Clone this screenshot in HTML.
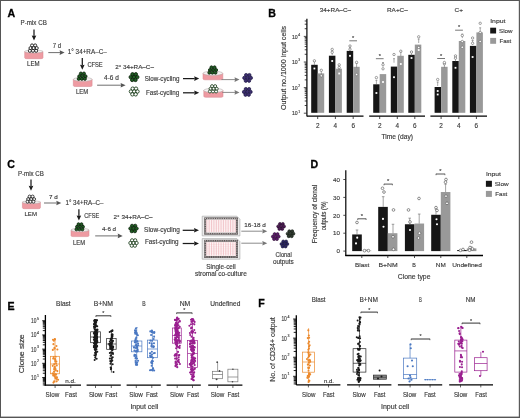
<!DOCTYPE html>
<html><head><meta charset="utf-8"><style>
html,body{margin:0;padding:0;background:#fff;width:520px;height:418px;overflow:hidden}
svg text{font-family:"Liberation Sans",sans-serif}
svg{will-change:transform}
</style></head><body>
<svg width="520" height="418" viewBox="0 0 520 418" font-family="Liberation Sans, sans-serif" style="position:absolute;left:0;top:0">
<rect x="0" y="0" width="520" height="418" fill="#fff"/>
<text x="7.60" y="16.60" font-size="10.6" font-weight="bold" fill="#000" stroke="#000" stroke-width="0.3">A</text>
<text x="268.20" y="16.50" font-size="10.6" font-weight="bold" fill="#000" stroke="#000" stroke-width="0.3">B</text>
<text x="7.30" y="167.90" font-size="10.6" font-weight="bold" fill="#000" stroke="#000" stroke-width="0.3">C</text>
<text x="310.60" y="167.50" font-size="10.6" font-weight="bold" fill="#000" stroke="#000" stroke-width="0.3">D</text>
<text x="7.40" y="309.90" font-size="10.6" font-weight="bold" fill="#000" stroke="#000" stroke-width="0.3">E</text>
<text x="258.20" y="306.90" font-size="10.6" font-weight="bold" fill="#000" stroke="#000" stroke-width="0.3">F</text>
<text x="20.60" y="25.40" font-size="6.3" textLength="26.20" lengthAdjust="spacingAndGlyphs" fill="#383838" stroke="#383838" stroke-width="0.14" >P-mix CB</text>
<line x1="34.00" y1="29.50" x2="34.00" y2="36.10" stroke="#1a1a1a" stroke-width="1.25" />
<path d="M31.70 35.60 L34.00 40.60 L36.30 35.60 L34.00 36.10 Z" fill="#1a1a1a"/>
<path d="M24.70 51.50 L24.70 57.70 Q24.70 58.70 26.70 58.70 L41.00 58.70 Q43.00 58.70 43.00 57.70 L43.00 51.50 Z" fill="#ee9ba2" stroke="#d4808a" stroke-width="0.5"/>
<ellipse cx="33.85" cy="51.50" rx="9.15" ry="1.50" fill="#f6f2f2" stroke="#a9a0a0" stroke-width="0.5"/>
<circle cx="32.04" cy="45.39" r="1.50" fill="#fff" stroke="#111" stroke-width="0.85"/>
<circle cx="35.19" cy="45.39" r="1.50" fill="#fff" stroke="#111" stroke-width="0.85"/>
<circle cx="30.46" cy="48.10" r="1.50" fill="#fff" stroke="#111" stroke-width="0.85"/>
<circle cx="33.61" cy="48.10" r="1.50" fill="#fff" stroke="#111" stroke-width="0.85"/>
<circle cx="36.77" cy="48.10" r="1.50" fill="#fff" stroke="#111" stroke-width="0.85"/>
<circle cx="29.83" cy="50.81" r="1.50" fill="#fff" stroke="#111" stroke-width="0.85"/>
<circle cx="32.98" cy="50.81" r="1.50" fill="#fff" stroke="#111" stroke-width="0.85"/>
<circle cx="36.13" cy="50.81" r="1.50" fill="#fff" stroke="#111" stroke-width="0.85"/>
<text x="27.00" y="65.50" font-size="6.4" textLength="12.50" lengthAdjust="spacingAndGlyphs" fill="#383838" stroke="#383838" stroke-width="0.14" >LEM</text>
<text x="52.80" y="48.10" font-size="6.6" textLength="8.30" lengthAdjust="spacingAndGlyphs" fill="#383838" stroke="#383838" stroke-width="0.14" >7 d</text>
<line x1="48.30" y1="52.60" x2="60.10" y2="52.60" stroke="#555" stroke-width="0.85" />
<path d="M59.60 50.30 L64.60 52.60 L59.60 54.90 L60.10 52.60 Z" fill="#555"/>
<text x="67.80" y="54.40" font-size="6.3" textLength="39.00" lengthAdjust="spacingAndGlyphs" fill="#383838" stroke="#383838" stroke-width="0.14" >1° 34+RA–C–</text>
<line x1="82.30" y1="58.00" x2="82.30" y2="65.30" stroke="#1a1a1a" stroke-width="1.25" />
<path d="M80.00 64.80 L82.30 69.80 L84.60 64.80 L82.30 65.30 Z" fill="#1a1a1a"/>
<text x="87.40" y="66.80" font-size="6.4" textLength="15.30" lengthAdjust="spacingAndGlyphs" fill="#383838" stroke="#383838" stroke-width="0.14" >CFSE</text>
<path d="M73.30 79.30 L73.30 85.50 Q73.30 86.50 75.30 86.50 L90.10 86.50 Q92.10 86.50 92.10 85.50 L92.10 79.30 Z" fill="#ee9ba2" stroke="#d4808a" stroke-width="0.5"/>
<ellipse cx="82.70" cy="79.30" rx="9.40" ry="1.90" fill="#f6f2f2" stroke="#a9a0a0" stroke-width="0.5"/>
<circle cx="80.86" cy="73.53" r="1.50" fill="#1f5e22" stroke="#0c220c" stroke-width="0.85"/>
<circle cx="83.96" cy="73.53" r="1.50" fill="#1f5e22" stroke="#0c220c" stroke-width="0.85"/>
<circle cx="79.31" cy="76.20" r="1.50" fill="#1f5e22" stroke="#0c220c" stroke-width="0.85"/>
<circle cx="82.41" cy="76.20" r="1.50" fill="#1f5e22" stroke="#0c220c" stroke-width="0.85"/>
<circle cx="85.51" cy="76.20" r="1.50" fill="#1f5e22" stroke="#0c220c" stroke-width="0.85"/>
<circle cx="78.69" cy="78.87" r="1.50" fill="#1f5e22" stroke="#0c220c" stroke-width="0.85"/>
<circle cx="81.79" cy="78.87" r="1.50" fill="#1f5e22" stroke="#0c220c" stroke-width="0.85"/>
<circle cx="84.89" cy="78.87" r="1.50" fill="#1f5e22" stroke="#0c220c" stroke-width="0.85"/>
<text x="76.00" y="94.00" font-size="6.4" textLength="12.20" lengthAdjust="spacingAndGlyphs" fill="#383838" stroke="#383838" stroke-width="0.14" >LEM</text>
<text x="104.10" y="80.40" font-size="6.3" textLength="14.80" lengthAdjust="spacingAndGlyphs" fill="#383838" stroke="#383838" stroke-width="0.14" >4-6 d</text>
<line x1="97.10" y1="85.20" x2="121.10" y2="85.20" stroke="#555" stroke-width="0.85" />
<path d="M120.60 82.90 L125.60 85.20 L120.60 87.50 L121.10 85.20 Z" fill="#555"/>
<text x="115.20" y="69.10" font-size="6.2" textLength="38.70" lengthAdjust="spacingAndGlyphs" fill="#383838" stroke="#383838" stroke-width="0.14" >2° 34+RA–C–</text>
<circle cx="132.51" cy="74.26" r="1.70" fill="#1f5e22" stroke="#0c220c" stroke-width="0.85"/>
<circle cx="135.81" cy="74.26" r="1.70" fill="#1f5e22" stroke="#0c220c" stroke-width="0.85"/>
<circle cx="130.70" cy="77.10" r="1.70" fill="#1f5e22" stroke="#0c220c" stroke-width="0.85"/>
<circle cx="134.00" cy="77.10" r="1.70" fill="#1f5e22" stroke="#0c220c" stroke-width="0.85"/>
<circle cx="137.30" cy="77.10" r="1.70" fill="#1f5e22" stroke="#0c220c" stroke-width="0.85"/>
<circle cx="132.19" cy="79.94" r="1.70" fill="#1f5e22" stroke="#0c220c" stroke-width="0.85"/>
<circle cx="135.49" cy="79.94" r="1.70" fill="#1f5e22" stroke="#0c220c" stroke-width="0.85"/>
<circle cx="132.71" cy="88.66" r="1.70" fill="#fff" stroke="#123512" stroke-width="0.85"/>
<circle cx="136.01" cy="88.66" r="1.70" fill="#fff" stroke="#123512" stroke-width="0.85"/>
<circle cx="130.90" cy="91.50" r="1.70" fill="#fff" stroke="#123512" stroke-width="0.85"/>
<circle cx="134.20" cy="91.50" r="1.70" fill="#fff" stroke="#123512" stroke-width="0.85"/>
<circle cx="137.50" cy="91.50" r="1.70" fill="#fff" stroke="#123512" stroke-width="0.85"/>
<circle cx="132.38" cy="94.34" r="1.70" fill="#fff" stroke="#123512" stroke-width="0.85"/>
<circle cx="135.69" cy="94.34" r="1.70" fill="#fff" stroke="#123512" stroke-width="0.85"/>
<text x="144.70" y="80.70" font-size="6.4" textLength="34.70" lengthAdjust="spacingAndGlyphs" fill="#383838" stroke="#383838" stroke-width="0.14" >Slow-cycling</text>
<text x="145.90" y="94.50" font-size="6.4" textLength="33.20" lengthAdjust="spacingAndGlyphs" fill="#383838" stroke="#383838" stroke-width="0.14" >Fast-cycling</text>
<line x1="183.00" y1="78.60" x2="194.70" y2="78.60" stroke="#1a1a1a" stroke-width="1.25" />
<path d="M194.20 76.30 L199.20 78.60 L194.20 80.90 L194.70 78.60 Z" fill="#1a1a1a"/>
<line x1="183.00" y1="92.80" x2="194.70" y2="92.80" stroke="#1a1a1a" stroke-width="1.25" />
<path d="M194.20 90.50 L199.20 92.80 L194.20 95.10 L194.70 92.80 Z" fill="#1a1a1a"/>
<path d="M203.00 73.30 L203.00 78.80 Q203.00 79.80 205.00 79.80 L220.80 79.80 Q222.80 79.80 222.80 78.80 L222.80 73.30 Z" fill="#ee9ba2" stroke="#d4808a" stroke-width="0.5"/>
<ellipse cx="212.90" cy="73.30" rx="9.90" ry="2.10" fill="#f6f2f2" stroke="#a9a0a0" stroke-width="0.5"/>
<circle cx="211.46" cy="67.33" r="1.50" fill="#1f5e22" stroke="#0c220c" stroke-width="0.8"/>
<circle cx="214.56" cy="67.33" r="1.50" fill="#1f5e22" stroke="#0c220c" stroke-width="0.8"/>
<circle cx="209.91" cy="70.00" r="1.50" fill="#1f5e22" stroke="#0c220c" stroke-width="0.8"/>
<circle cx="213.01" cy="70.00" r="1.50" fill="#1f5e22" stroke="#0c220c" stroke-width="0.8"/>
<circle cx="216.11" cy="70.00" r="1.50" fill="#1f5e22" stroke="#0c220c" stroke-width="0.8"/>
<circle cx="209.29" cy="72.67" r="1.50" fill="#1f5e22" stroke="#0c220c" stroke-width="0.8"/>
<circle cx="212.39" cy="72.67" r="1.50" fill="#1f5e22" stroke="#0c220c" stroke-width="0.8"/>
<circle cx="215.49" cy="72.67" r="1.50" fill="#1f5e22" stroke="#0c220c" stroke-width="0.8"/>
<path d="M203.80 90.40 L203.80 96.30 Q203.80 97.30 205.80 97.30 L221.00 97.30 Q223.00 97.30 223.00 96.30 L223.00 90.40 Z" fill="#ee9ba2" stroke="#d4808a" stroke-width="0.5"/>
<ellipse cx="213.40" cy="90.40" rx="9.60" ry="2.10" fill="#f6f2f2" stroke="#a9a0a0" stroke-width="0.5"/>
<circle cx="212.06" cy="86.13" r="1.50" fill="#fff" stroke="#123512" stroke-width="0.8"/>
<circle cx="215.16" cy="86.13" r="1.50" fill="#fff" stroke="#123512" stroke-width="0.8"/>
<circle cx="210.51" cy="88.80" r="1.50" fill="#fff" stroke="#123512" stroke-width="0.8"/>
<circle cx="213.61" cy="88.80" r="1.50" fill="#fff" stroke="#123512" stroke-width="0.8"/>
<circle cx="216.71" cy="88.80" r="1.50" fill="#fff" stroke="#123512" stroke-width="0.8"/>
<circle cx="209.89" cy="91.47" r="1.50" fill="#fff" stroke="#123512" stroke-width="0.8"/>
<circle cx="212.99" cy="91.47" r="1.50" fill="#fff" stroke="#123512" stroke-width="0.8"/>
<circle cx="216.09" cy="91.47" r="1.50" fill="#fff" stroke="#123512" stroke-width="0.8"/>
<line x1="221.50" y1="79.60" x2="235.00" y2="79.60" stroke="#777" stroke-width="0.85" />
<path d="M234.50 77.30 L239.50 79.60 L234.50 81.90 L235.00 79.60 Z" fill="#777"/>
<line x1="222.30" y1="92.40" x2="235.00" y2="92.40" stroke="#777" stroke-width="0.85" />
<path d="M234.50 90.10 L239.50 92.40 L234.50 94.70 L235.00 92.40 Z" fill="#777"/>
<circle cx="246.11" cy="75.06" r="1.65" fill="#3d2f70" stroke="#1a1440" stroke-width="0.7"/>
<circle cx="249.41" cy="75.06" r="1.65" fill="#3d2f70" stroke="#1a1440" stroke-width="0.7"/>
<circle cx="244.30" cy="77.90" r="1.65" fill="#3d2f70" stroke="#1a1440" stroke-width="0.7"/>
<circle cx="247.60" cy="77.90" r="1.65" fill="#3d2f70" stroke="#1a1440" stroke-width="0.7"/>
<circle cx="250.90" cy="77.90" r="1.65" fill="#3d2f70" stroke="#1a1440" stroke-width="0.7"/>
<circle cx="245.78" cy="80.74" r="1.65" fill="#3d2f70" stroke="#1a1440" stroke-width="0.7"/>
<circle cx="249.09" cy="80.74" r="1.65" fill="#3d2f70" stroke="#1a1440" stroke-width="0.7"/>
<circle cx="245.81" cy="89.06" r="1.65" fill="#3d2f70" stroke="#1a1440" stroke-width="0.7"/>
<circle cx="249.12" cy="89.06" r="1.65" fill="#3d2f70" stroke="#1a1440" stroke-width="0.7"/>
<circle cx="244.00" cy="91.90" r="1.65" fill="#3d2f70" stroke="#1a1440" stroke-width="0.7"/>
<circle cx="247.30" cy="91.90" r="1.65" fill="#3d2f70" stroke="#1a1440" stroke-width="0.7"/>
<circle cx="250.60" cy="91.90" r="1.65" fill="#3d2f70" stroke="#1a1440" stroke-width="0.7"/>
<circle cx="245.49" cy="94.74" r="1.65" fill="#3d2f70" stroke="#1a1440" stroke-width="0.7"/>
<circle cx="248.79" cy="94.74" r="1.65" fill="#3d2f70" stroke="#1a1440" stroke-width="0.7"/>
<text x="17.90" y="175.80" font-size="6.3" textLength="26.00" lengthAdjust="spacingAndGlyphs" fill="#383838" stroke="#383838" stroke-width="0.14" >P-mix CB</text>
<line x1="31.00" y1="179.60" x2="31.00" y2="186.30" stroke="#1a1a1a" stroke-width="1.25" />
<path d="M28.70 185.80 L31.00 190.80 L33.30 185.80 L31.00 186.30 Z" fill="#1a1a1a"/>
<path d="M22.40 202.20 L22.40 207.70 Q22.40 208.70 24.40 208.70 L38.40 208.70 Q40.40 208.70 40.40 207.70 L40.40 202.20 Z" fill="#ee9ba2" stroke="#d4808a" stroke-width="0.5"/>
<ellipse cx="31.40" cy="202.20" rx="9.00" ry="1.40" fill="#f6f2f2" stroke="#a9a0a0" stroke-width="0.5"/>
<circle cx="29.60" cy="196.52" r="1.45" fill="#fff" stroke="#111" stroke-width="0.8"/>
<circle cx="32.60" cy="196.52" r="1.45" fill="#fff" stroke="#111" stroke-width="0.8"/>
<circle cx="28.10" cy="199.10" r="1.45" fill="#fff" stroke="#111" stroke-width="0.8"/>
<circle cx="31.10" cy="199.10" r="1.45" fill="#fff" stroke="#111" stroke-width="0.8"/>
<circle cx="34.10" cy="199.10" r="1.45" fill="#fff" stroke="#111" stroke-width="0.8"/>
<circle cx="27.50" cy="201.68" r="1.45" fill="#fff" stroke="#111" stroke-width="0.8"/>
<circle cx="30.50" cy="201.68" r="1.45" fill="#fff" stroke="#111" stroke-width="0.8"/>
<circle cx="33.50" cy="201.68" r="1.45" fill="#fff" stroke="#111" stroke-width="0.8"/>
<text x="24.50" y="216.10" font-size="6.1" textLength="12.40" lengthAdjust="spacingAndGlyphs" fill="#383838" stroke="#383838" stroke-width="0.14" >LEM</text>
<text x="49.00" y="199.00" font-size="6.0" textLength="8.70" lengthAdjust="spacingAndGlyphs" fill="#383838" stroke="#383838" stroke-width="0.14" >7 d</text>
<line x1="44.00" y1="203.00" x2="56.80" y2="203.00" stroke="#555" stroke-width="0.85" />
<path d="M56.30 200.70 L61.30 203.00 L56.30 205.30 L56.80 203.00 Z" fill="#555"/>
<text x="65.50" y="205.40" font-size="6.3" textLength="38.00" lengthAdjust="spacingAndGlyphs" fill="#383838" stroke="#383838" stroke-width="0.14" >1° 34+RA–C–</text>
<line x1="78.90" y1="209.20" x2="78.90" y2="216.00" stroke="#1a1a1a" stroke-width="1.25" />
<path d="M76.60 215.50 L78.90 220.50 L81.20 215.50 L78.90 216.00 Z" fill="#1a1a1a"/>
<text x="84.20" y="217.80" font-size="6.5" textLength="15.00" lengthAdjust="spacingAndGlyphs" fill="#383838" stroke="#383838" stroke-width="0.14" >CFSE</text>
<path d="M71.00 230.00 L71.00 235.60 Q71.00 236.60 73.00 236.60 L87.00 236.60 Q89.00 236.60 89.00 235.60 L89.00 230.00 Z" fill="#ee9ba2" stroke="#d4808a" stroke-width="0.5"/>
<ellipse cx="80.00" cy="230.00" rx="9.00" ry="1.70" fill="#f6f2f2" stroke="#a9a0a0" stroke-width="0.5"/>
<circle cx="78.50" cy="224.22" r="1.45" fill="#1f5e22" stroke="#0c220c" stroke-width="0.8"/>
<circle cx="81.50" cy="224.22" r="1.45" fill="#1f5e22" stroke="#0c220c" stroke-width="0.8"/>
<circle cx="77.00" cy="226.80" r="1.45" fill="#1f5e22" stroke="#0c220c" stroke-width="0.8"/>
<circle cx="80.00" cy="226.80" r="1.45" fill="#1f5e22" stroke="#0c220c" stroke-width="0.8"/>
<circle cx="83.00" cy="226.80" r="1.45" fill="#1f5e22" stroke="#0c220c" stroke-width="0.8"/>
<circle cx="76.40" cy="229.38" r="1.45" fill="#1f5e22" stroke="#0c220c" stroke-width="0.8"/>
<circle cx="79.40" cy="229.38" r="1.45" fill="#1f5e22" stroke="#0c220c" stroke-width="0.8"/>
<circle cx="82.40" cy="229.38" r="1.45" fill="#1f5e22" stroke="#0c220c" stroke-width="0.8"/>
<text x="73.00" y="244.70" font-size="6.3" textLength="12.00" lengthAdjust="spacingAndGlyphs" fill="#383838" stroke="#383838" stroke-width="0.14" >LEM</text>
<text x="101.90" y="230.80" font-size="6.0" textLength="14.20" lengthAdjust="spacingAndGlyphs" fill="#383838" stroke="#383838" stroke-width="0.14" >4-6 d</text>
<line x1="95.20" y1="235.90" x2="118.20" y2="235.90" stroke="#555" stroke-width="0.85" />
<path d="M117.70 233.60 L122.70 235.90 L117.70 238.20 L118.20 235.90 Z" fill="#555"/>
<text x="113.60" y="219.30" font-size="6.0" textLength="39.00" lengthAdjust="spacingAndGlyphs" fill="#383838" stroke="#383838" stroke-width="0.14" >2° 34+RA–C–</text>
<circle cx="132.08" cy="225.79" r="1.60" fill="#1f5e22" stroke="#0c220c" stroke-width="0.8"/>
<circle cx="135.23" cy="225.79" r="1.60" fill="#1f5e22" stroke="#0c220c" stroke-width="0.8"/>
<circle cx="130.35" cy="228.50" r="1.60" fill="#1f5e22" stroke="#0c220c" stroke-width="0.8"/>
<circle cx="133.50" cy="228.50" r="1.60" fill="#1f5e22" stroke="#0c220c" stroke-width="0.8"/>
<circle cx="136.65" cy="228.50" r="1.60" fill="#1f5e22" stroke="#0c220c" stroke-width="0.8"/>
<circle cx="131.77" cy="231.21" r="1.60" fill="#1f5e22" stroke="#0c220c" stroke-width="0.8"/>
<circle cx="134.92" cy="231.21" r="1.60" fill="#1f5e22" stroke="#0c220c" stroke-width="0.8"/>
<circle cx="132.08" cy="240.29" r="1.60" fill="#fff" stroke="#123512" stroke-width="0.8"/>
<circle cx="135.23" cy="240.29" r="1.60" fill="#fff" stroke="#123512" stroke-width="0.8"/>
<circle cx="130.35" cy="243.00" r="1.60" fill="#fff" stroke="#123512" stroke-width="0.8"/>
<circle cx="133.50" cy="243.00" r="1.60" fill="#fff" stroke="#123512" stroke-width="0.8"/>
<circle cx="136.65" cy="243.00" r="1.60" fill="#fff" stroke="#123512" stroke-width="0.8"/>
<circle cx="131.77" cy="245.71" r="1.60" fill="#fff" stroke="#123512" stroke-width="0.8"/>
<circle cx="134.92" cy="245.71" r="1.60" fill="#fff" stroke="#123512" stroke-width="0.8"/>
<text x="144.10" y="231.60" font-size="6.4" textLength="35.80" lengthAdjust="spacingAndGlyphs" fill="#383838" stroke="#383838" stroke-width="0.14" >Slow-cycling</text>
<text x="145.00" y="243.50" font-size="6.3" textLength="33.60" lengthAdjust="spacingAndGlyphs" fill="#383838" stroke="#383838" stroke-width="0.14" >Fast-cycling</text>
<line x1="182.70" y1="230.30" x2="194.50" y2="230.30" stroke="#1a1a1a" stroke-width="1.25" />
<path d="M194.00 228.00 L199.00 230.30 L194.00 232.60 L194.50 230.30 Z" fill="#1a1a1a"/>
<line x1="182.70" y1="243.50" x2="194.50" y2="243.50" stroke="#1a1a1a" stroke-width="1.25" />
<path d="M194.00 241.20 L199.00 243.50 L194.00 245.80 L194.50 243.50 Z" fill="#1a1a1a"/>
<path d="M202.20 216.20 L236.90 216.20 L239.90 219.20 L239.90 235.90 L202.20 235.90 Z" fill="#ececec" stroke="#a0a0a0" stroke-width="0.6"/>
<rect x="205.20" y="218.40" width="31.70" height="15.30" fill="#fff" stroke="#5a5555" stroke-width="2.0"/>
<rect x="205.20" y="218.40" width="31.70" height="15.30" fill="none" stroke="#e8e0e0" stroke-width="0.9" stroke-dasharray="0.8 1.0"/>
<rect x="206.80" y="220.00" width="28.50" height="12.10" fill="#fff7f8" stroke="none" stroke-width="0" />
<line x1="206.80" y1="220.00" x2="235.30" y2="220.00" stroke="#f6d8da" stroke-width="0.4" />
<line x1="206.80" y1="222.02" x2="235.30" y2="222.02" stroke="#f6d8da" stroke-width="0.4" />
<line x1="206.80" y1="224.03" x2="235.30" y2="224.03" stroke="#f6d8da" stroke-width="0.4" />
<line x1="206.80" y1="226.05" x2="235.30" y2="226.05" stroke="#f6d8da" stroke-width="0.4" />
<line x1="206.80" y1="228.07" x2="235.30" y2="228.07" stroke="#f6d8da" stroke-width="0.4" />
<line x1="206.80" y1="230.08" x2="235.30" y2="230.08" stroke="#f6d8da" stroke-width="0.4" />
<line x1="206.80" y1="232.10" x2="235.30" y2="232.10" stroke="#f6d8da" stroke-width="0.4" />
<line x1="206.80" y1="220.00" x2="206.80" y2="232.10" stroke="#e8a2a8" stroke-width="0.55" />
<line x1="209.17" y1="220.00" x2="209.17" y2="232.10" stroke="#e8a2a8" stroke-width="0.55" />
<line x1="211.55" y1="220.00" x2="211.55" y2="232.10" stroke="#e8a2a8" stroke-width="0.55" />
<line x1="213.92" y1="220.00" x2="213.92" y2="232.10" stroke="#e8a2a8" stroke-width="0.55" />
<line x1="216.30" y1="220.00" x2="216.30" y2="232.10" stroke="#e8a2a8" stroke-width="0.55" />
<line x1="218.67" y1="220.00" x2="218.67" y2="232.10" stroke="#e8a2a8" stroke-width="0.55" />
<line x1="221.05" y1="220.00" x2="221.05" y2="232.10" stroke="#e8a2a8" stroke-width="0.55" />
<line x1="223.43" y1="220.00" x2="223.43" y2="232.10" stroke="#e8a2a8" stroke-width="0.55" />
<line x1="225.80" y1="220.00" x2="225.80" y2="232.10" stroke="#e8a2a8" stroke-width="0.55" />
<line x1="228.18" y1="220.00" x2="228.18" y2="232.10" stroke="#e8a2a8" stroke-width="0.55" />
<line x1="230.55" y1="220.00" x2="230.55" y2="232.10" stroke="#e8a2a8" stroke-width="0.55" />
<line x1="232.93" y1="220.00" x2="232.93" y2="232.10" stroke="#e8a2a8" stroke-width="0.55" />
<line x1="235.30" y1="220.00" x2="235.30" y2="232.10" stroke="#e8a2a8" stroke-width="0.55" />
<path d="M202.20 238.60 L236.90 238.60 L239.90 241.60 L239.90 259.20 L202.20 259.20 Z" fill="#ececec" stroke="#a0a0a0" stroke-width="0.6"/>
<rect x="205.20" y="240.80" width="31.70" height="16.20" fill="#fff" stroke="#5a5555" stroke-width="2.0"/>
<rect x="205.20" y="240.80" width="31.70" height="16.20" fill="none" stroke="#e8e0e0" stroke-width="0.9" stroke-dasharray="0.8 1.0"/>
<rect x="206.80" y="242.40" width="28.50" height="13.00" fill="#fff7f8" stroke="none" stroke-width="0" />
<line x1="206.80" y1="242.40" x2="235.30" y2="242.40" stroke="#f6d8da" stroke-width="0.4" />
<line x1="206.80" y1="244.57" x2="235.30" y2="244.57" stroke="#f6d8da" stroke-width="0.4" />
<line x1="206.80" y1="246.73" x2="235.30" y2="246.73" stroke="#f6d8da" stroke-width="0.4" />
<line x1="206.80" y1="248.90" x2="235.30" y2="248.90" stroke="#f6d8da" stroke-width="0.4" />
<line x1="206.80" y1="251.07" x2="235.30" y2="251.07" stroke="#f6d8da" stroke-width="0.4" />
<line x1="206.80" y1="253.23" x2="235.30" y2="253.23" stroke="#f6d8da" stroke-width="0.4" />
<line x1="206.80" y1="255.40" x2="235.30" y2="255.40" stroke="#f6d8da" stroke-width="0.4" />
<line x1="206.80" y1="242.40" x2="206.80" y2="255.40" stroke="#e8a2a8" stroke-width="0.55" />
<line x1="209.17" y1="242.40" x2="209.17" y2="255.40" stroke="#e8a2a8" stroke-width="0.55" />
<line x1="211.55" y1="242.40" x2="211.55" y2="255.40" stroke="#e8a2a8" stroke-width="0.55" />
<line x1="213.92" y1="242.40" x2="213.92" y2="255.40" stroke="#e8a2a8" stroke-width="0.55" />
<line x1="216.30" y1="242.40" x2="216.30" y2="255.40" stroke="#e8a2a8" stroke-width="0.55" />
<line x1="218.67" y1="242.40" x2="218.67" y2="255.40" stroke="#e8a2a8" stroke-width="0.55" />
<line x1="221.05" y1="242.40" x2="221.05" y2="255.40" stroke="#e8a2a8" stroke-width="0.55" />
<line x1="223.43" y1="242.40" x2="223.43" y2="255.40" stroke="#e8a2a8" stroke-width="0.55" />
<line x1="225.80" y1="242.40" x2="225.80" y2="255.40" stroke="#e8a2a8" stroke-width="0.55" />
<line x1="228.18" y1="242.40" x2="228.18" y2="255.40" stroke="#e8a2a8" stroke-width="0.55" />
<line x1="230.55" y1="242.40" x2="230.55" y2="255.40" stroke="#e8a2a8" stroke-width="0.55" />
<line x1="232.93" y1="242.40" x2="232.93" y2="255.40" stroke="#e8a2a8" stroke-width="0.55" />
<line x1="235.30" y1="242.40" x2="235.30" y2="255.40" stroke="#e8a2a8" stroke-width="0.55" />
<text x="206.20" y="268.50" font-size="6.5" textLength="29.60" lengthAdjust="spacingAndGlyphs" fill="#383838" stroke="#383838" stroke-width="0.14" >Single-cell</text>
<text x="195.00" y="275.80" font-size="6.5" textLength="51.80" lengthAdjust="spacingAndGlyphs" fill="#383838" stroke="#383838" stroke-width="0.14" >stromal co-culture</text>
<text x="244.30" y="227.00" font-size="6.2" textLength="21.50" lengthAdjust="spacingAndGlyphs" fill="#383838" stroke="#383838" stroke-width="0.14" >16-18 d</text>
<line x1="241.30" y1="231.20" x2="262.80" y2="231.20" stroke="#777" stroke-width="0.85" />
<path d="M262.30 228.90 L267.30 231.20 L262.30 233.50 L262.80 231.20 Z" fill="#777"/>
<line x1="241.30" y1="243.20" x2="262.80" y2="243.20" stroke="#777" stroke-width="0.85" />
<path d="M262.30 240.90 L267.30 243.20 L262.30 245.50 L262.80 243.20 Z" fill="#777"/>
<circle cx="279.94" cy="223.91" r="1.50" fill="#4e1a55" stroke="#240a28" stroke-width="0.6"/>
<circle cx="282.84" cy="223.91" r="1.50" fill="#4e1a55" stroke="#240a28" stroke-width="0.6"/>
<circle cx="278.20" cy="226.40" r="1.50" fill="#4e1a55" stroke="#240a28" stroke-width="0.6"/>
<circle cx="281.10" cy="226.40" r="1.50" fill="#4e1a55" stroke="#240a28" stroke-width="0.6"/>
<circle cx="284.00" cy="226.40" r="1.50" fill="#4e1a55" stroke="#240a28" stroke-width="0.6"/>
<circle cx="279.36" cy="228.89" r="1.50" fill="#4e1a55" stroke="#240a28" stroke-width="0.6"/>
<circle cx="282.26" cy="228.89" r="1.50" fill="#4e1a55" stroke="#240a28" stroke-width="0.6"/>
<circle cx="274.64" cy="234.11" r="1.50" fill="#5e1a6c" stroke="#2a0c30" stroke-width="0.6"/>
<circle cx="277.54" cy="234.11" r="1.50" fill="#5e1a6c" stroke="#2a0c30" stroke-width="0.6"/>
<circle cx="272.90" cy="236.60" r="1.50" fill="#5e1a6c" stroke="#2a0c30" stroke-width="0.6"/>
<circle cx="275.80" cy="236.60" r="1.50" fill="#5e1a6c" stroke="#2a0c30" stroke-width="0.6"/>
<circle cx="278.70" cy="236.60" r="1.50" fill="#5e1a6c" stroke="#2a0c30" stroke-width="0.6"/>
<circle cx="274.06" cy="239.09" r="1.50" fill="#5e1a6c" stroke="#2a0c30" stroke-width="0.6"/>
<circle cx="276.96" cy="239.09" r="1.50" fill="#5e1a6c" stroke="#2a0c30" stroke-width="0.6"/>
<circle cx="289.34" cy="231.21" r="1.50" fill="#2f3b2f" stroke="#0f150f" stroke-width="0.6"/>
<circle cx="292.24" cy="231.21" r="1.50" fill="#2f3b2f" stroke="#0f150f" stroke-width="0.6"/>
<circle cx="287.60" cy="233.70" r="1.50" fill="#2f3b2f" stroke="#0f150f" stroke-width="0.6"/>
<circle cx="290.50" cy="233.70" r="1.50" fill="#2f3b2f" stroke="#0f150f" stroke-width="0.6"/>
<circle cx="293.40" cy="233.70" r="1.50" fill="#2f3b2f" stroke="#0f150f" stroke-width="0.6"/>
<circle cx="288.76" cy="236.19" r="1.50" fill="#2f3b2f" stroke="#0f150f" stroke-width="0.6"/>
<circle cx="291.66" cy="236.19" r="1.50" fill="#2f3b2f" stroke="#0f150f" stroke-width="0.6"/>
<circle cx="283.24" cy="241.51" r="1.50" fill="#2a2563" stroke="#120f33" stroke-width="0.6"/>
<circle cx="286.14" cy="241.51" r="1.50" fill="#2a2563" stroke="#120f33" stroke-width="0.6"/>
<circle cx="281.50" cy="244.00" r="1.50" fill="#2a2563" stroke="#120f33" stroke-width="0.6"/>
<circle cx="284.40" cy="244.00" r="1.50" fill="#2a2563" stroke="#120f33" stroke-width="0.6"/>
<circle cx="287.30" cy="244.00" r="1.50" fill="#2a2563" stroke="#120f33" stroke-width="0.6"/>
<circle cx="282.66" cy="246.49" r="1.50" fill="#2a2563" stroke="#120f33" stroke-width="0.6"/>
<circle cx="285.56" cy="246.49" r="1.50" fill="#2a2563" stroke="#120f33" stroke-width="0.6"/>
<text x="275.50" y="257.30" font-size="6.3" textLength="16.20" lengthAdjust="spacingAndGlyphs" fill="#383838" stroke="#383838" stroke-width="0.14" >Clonal</text>
<text x="272.90" y="263.60" font-size="6.4" textLength="20.90" lengthAdjust="spacingAndGlyphs" fill="#383838" stroke="#383838" stroke-width="0.14" >outputs</text>
<text x="285.60" y="110.00" font-size="7.0" textLength="84.00" lengthAdjust="spacingAndGlyphs" fill="#383838" stroke="#383838" stroke-width="0.16" transform="rotate(-90 285.60 110.00)" >Output no./1000 input cells</text>
<line x1="306.90" y1="18.80" x2="306.90" y2="116.60" stroke="#000" stroke-width="1.2" />
<line x1="303.80" y1="113.20" x2="306.90" y2="113.20" stroke="#222" stroke-width="0.8" />
<line x1="304.70" y1="105.49" x2="306.90" y2="105.49" stroke="#111" stroke-width="0.8" />
<line x1="304.70" y1="100.99" x2="306.90" y2="100.99" stroke="#111" stroke-width="0.8" />
<line x1="304.70" y1="97.79" x2="306.90" y2="97.79" stroke="#111" stroke-width="0.8" />
<line x1="304.70" y1="95.31" x2="306.90" y2="95.31" stroke="#111" stroke-width="0.8" />
<line x1="304.70" y1="93.28" x2="306.90" y2="93.28" stroke="#111" stroke-width="0.8" />
<line x1="304.70" y1="91.57" x2="306.90" y2="91.57" stroke="#111" stroke-width="0.8" />
<line x1="304.70" y1="90.08" x2="306.90" y2="90.08" stroke="#111" stroke-width="0.8" />
<line x1="304.70" y1="88.77" x2="306.90" y2="88.77" stroke="#111" stroke-width="0.8" />
<line x1="303.80" y1="87.60" x2="306.90" y2="87.60" stroke="#222" stroke-width="0.8" />
<line x1="304.70" y1="79.89" x2="306.90" y2="79.89" stroke="#111" stroke-width="0.8" />
<line x1="304.70" y1="75.39" x2="306.90" y2="75.39" stroke="#111" stroke-width="0.8" />
<line x1="304.70" y1="72.19" x2="306.90" y2="72.19" stroke="#111" stroke-width="0.8" />
<line x1="304.70" y1="69.71" x2="306.90" y2="69.71" stroke="#111" stroke-width="0.8" />
<line x1="304.70" y1="67.68" x2="306.90" y2="67.68" stroke="#111" stroke-width="0.8" />
<line x1="304.70" y1="65.97" x2="306.90" y2="65.97" stroke="#111" stroke-width="0.8" />
<line x1="304.70" y1="64.48" x2="306.90" y2="64.48" stroke="#111" stroke-width="0.8" />
<line x1="304.70" y1="63.17" x2="306.90" y2="63.17" stroke="#111" stroke-width="0.8" />
<line x1="303.80" y1="62.00" x2="306.90" y2="62.00" stroke="#222" stroke-width="0.8" />
<line x1="304.70" y1="54.29" x2="306.90" y2="54.29" stroke="#111" stroke-width="0.8" />
<line x1="304.70" y1="49.79" x2="306.90" y2="49.79" stroke="#111" stroke-width="0.8" />
<line x1="304.70" y1="46.59" x2="306.90" y2="46.59" stroke="#111" stroke-width="0.8" />
<line x1="304.70" y1="44.11" x2="306.90" y2="44.11" stroke="#111" stroke-width="0.8" />
<line x1="304.70" y1="42.08" x2="306.90" y2="42.08" stroke="#111" stroke-width="0.8" />
<line x1="304.70" y1="40.37" x2="306.90" y2="40.37" stroke="#111" stroke-width="0.8" />
<line x1="304.70" y1="38.88" x2="306.90" y2="38.88" stroke="#111" stroke-width="0.8" />
<line x1="304.70" y1="37.57" x2="306.90" y2="37.57" stroke="#111" stroke-width="0.8" />
<line x1="303.80" y1="36.40" x2="306.90" y2="36.40" stroke="#222" stroke-width="0.8" />
<line x1="304.70" y1="28.69" x2="306.90" y2="28.69" stroke="#111" stroke-width="0.8" />
<line x1="304.70" y1="24.19" x2="306.90" y2="24.19" stroke="#111" stroke-width="0.8" />
<line x1="304.70" y1="20.99" x2="306.90" y2="20.99" stroke="#111" stroke-width="0.8" />
<text x="297.70" y="38.60" font-size="5.6" text-anchor="end" textLength="5.80" lengthAdjust="spacingAndGlyphs" fill="#383838" stroke="#383838" stroke-width="0.14" >10</text>
<text x="298.20" y="35.80" font-size="3.4" fill="#383838" stroke="#383838" stroke-width="0.14" >4</text>
<text x="297.70" y="64.20" font-size="5.6" text-anchor="end" textLength="5.80" lengthAdjust="spacingAndGlyphs" fill="#383838" stroke="#383838" stroke-width="0.14" >10</text>
<text x="298.20" y="61.40" font-size="3.4" fill="#383838" stroke="#383838" stroke-width="0.14" >3</text>
<text x="297.70" y="89.80" font-size="5.6" text-anchor="end" textLength="5.80" lengthAdjust="spacingAndGlyphs" fill="#383838" stroke="#383838" stroke-width="0.14" >10</text>
<text x="298.20" y="87.00" font-size="3.4" fill="#383838" stroke="#383838" stroke-width="0.14" >2</text>
<text x="297.70" y="115.40" font-size="5.6" text-anchor="end" textLength="5.80" lengthAdjust="spacingAndGlyphs" fill="#383838" stroke="#383838" stroke-width="0.14" >10</text>
<text x="298.20" y="112.60" font-size="3.4" fill="#383838" stroke="#383838" stroke-width="0.14" >1</text>
<text x="335.40" y="12.30" font-size="6.0" text-anchor="middle" textLength="31.20" lengthAdjust="spacingAndGlyphs" fill="#383838" stroke="#383838" stroke-width="0.14" >34+RA–C–</text>
<text x="397.40" y="12.30" font-size="6.0" text-anchor="middle" textLength="20.80" lengthAdjust="spacingAndGlyphs" fill="#383838" stroke="#383838" stroke-width="0.14" >RA+C–</text>
<text x="458.80" y="12.30" font-size="6.0" text-anchor="middle" textLength="8.40" lengthAdjust="spacingAndGlyphs" fill="#383838" stroke="#383838" stroke-width="0.14" >C+</text>
<line x1="307.00" y1="116.10" x2="363.50" y2="116.10" stroke="#000" stroke-width="1.3" />
<line x1="369.20" y1="116.10" x2="425.00" y2="116.10" stroke="#000" stroke-width="1.3" />
<line x1="430.40" y1="116.10" x2="487.00" y2="116.10" stroke="#000" stroke-width="1.3" />
<rect x="311.20" y="64.80" width="6.50" height="48.00" fill="#161616" stroke="none" stroke-width="0" />
<rect x="317.70" y="73.40" width="6.50" height="39.40" fill="#999" stroke="none" stroke-width="0" />
<line x1="317.70" y1="116.00" x2="317.70" y2="119.00" stroke="#222" stroke-width="0.8" />
<text x="317.70" y="127.70" font-size="6.4" text-anchor="middle" fill="#383838" stroke="#383838" stroke-width="0.14" >2</text>
<rect x="328.90" y="55.70" width="6.50" height="57.10" fill="#161616" stroke="none" stroke-width="0" />
<rect x="335.40" y="68.70" width="6.50" height="44.10" fill="#999" stroke="none" stroke-width="0" />
<line x1="335.40" y1="116.00" x2="335.40" y2="119.00" stroke="#222" stroke-width="0.8" />
<text x="335.40" y="127.70" font-size="6.4" text-anchor="middle" fill="#383838" stroke="#383838" stroke-width="0.14" >4</text>
<rect x="346.70" y="50.90" width="6.50" height="61.90" fill="#161616" stroke="none" stroke-width="0" />
<rect x="353.20" y="66.80" width="6.50" height="46.00" fill="#999" stroke="none" stroke-width="0" />
<line x1="353.20" y1="116.00" x2="353.20" y2="119.00" stroke="#222" stroke-width="0.8" />
<text x="353.20" y="127.70" font-size="6.4" text-anchor="middle" fill="#383838" stroke="#383838" stroke-width="0.14" >6</text>
<rect x="373.20" y="84.30" width="6.50" height="28.50" fill="#161616" stroke="none" stroke-width="0" />
<rect x="379.70" y="74.10" width="6.50" height="38.70" fill="#999" stroke="none" stroke-width="0" />
<line x1="379.70" y1="116.00" x2="379.70" y2="119.00" stroke="#222" stroke-width="0.8" />
<text x="379.70" y="127.70" font-size="6.4" text-anchor="middle" fill="#383838" stroke="#383838" stroke-width="0.14" >2</text>
<rect x="390.80" y="66.60" width="6.50" height="46.20" fill="#161616" stroke="none" stroke-width="0" />
<rect x="397.30" y="55.80" width="6.50" height="57.00" fill="#999" stroke="none" stroke-width="0" />
<line x1="397.30" y1="116.00" x2="397.30" y2="119.00" stroke="#222" stroke-width="0.8" />
<text x="397.30" y="127.70" font-size="6.4" text-anchor="middle" fill="#383838" stroke="#383838" stroke-width="0.14" >4</text>
<rect x="408.30" y="54.80" width="6.50" height="58.00" fill="#161616" stroke="none" stroke-width="0" />
<rect x="414.80" y="44.60" width="6.50" height="68.20" fill="#999" stroke="none" stroke-width="0" />
<line x1="414.80" y1="116.00" x2="414.80" y2="119.00" stroke="#222" stroke-width="0.8" />
<text x="414.80" y="127.70" font-size="6.4" text-anchor="middle" fill="#383838" stroke="#383838" stroke-width="0.14" >6</text>
<rect x="434.60" y="87.00" width="6.50" height="25.80" fill="#161616" stroke="none" stroke-width="0" />
<rect x="441.10" y="66.80" width="6.50" height="46.00" fill="#999" stroke="none" stroke-width="0" />
<line x1="441.10" y1="116.00" x2="441.10" y2="119.00" stroke="#222" stroke-width="0.8" />
<text x="441.10" y="127.70" font-size="6.4" text-anchor="middle" fill="#383838" stroke="#383838" stroke-width="0.14" >2</text>
<rect x="452.30" y="61.00" width="6.50" height="51.80" fill="#161616" stroke="none" stroke-width="0" />
<rect x="458.80" y="41.00" width="6.50" height="71.80" fill="#999" stroke="none" stroke-width="0" />
<line x1="458.80" y1="116.00" x2="458.80" y2="119.00" stroke="#222" stroke-width="0.8" />
<text x="458.80" y="127.70" font-size="6.4" text-anchor="middle" fill="#383838" stroke="#383838" stroke-width="0.14" >4</text>
<rect x="469.90" y="45.90" width="6.50" height="66.90" fill="#161616" stroke="none" stroke-width="0" />
<rect x="476.40" y="32.40" width="6.50" height="80.40" fill="#999" stroke="none" stroke-width="0" />
<line x1="476.40" y1="116.00" x2="476.40" y2="119.00" stroke="#222" stroke-width="0.8" />
<text x="476.40" y="127.70" font-size="6.4" text-anchor="middle" fill="#383838" stroke="#383838" stroke-width="0.14" >6</text>
<line x1="314.40" y1="61.50" x2="314.40" y2="65.50" stroke="#555" stroke-width="0.5" />
<line x1="313.40" y1="61.50" x2="315.40" y2="61.50" stroke="#555" stroke-width="0.5" />
<circle cx="314.40" cy="60.80" r="1.20" fill="#fff" stroke="#555" stroke-width="0.55"/>
<rect x="313.50" y="67.60" width="1.80" height="1.80" fill="#fff" stroke="none" stroke-width="0" />
<line x1="321.30" y1="70.00" x2="321.30" y2="74.00" stroke="#555" stroke-width="0.5" />
<line x1="320.30" y1="70.00" x2="322.30" y2="70.00" stroke="#555" stroke-width="0.5" />
<circle cx="321.30" cy="70.30" r="1.20" fill="#fff" stroke="#555" stroke-width="0.55"/>
<circle cx="321.30" cy="75.80" r="1.20" fill="#fff" stroke="#555" stroke-width="0.55"/>
<line x1="332.20" y1="51.00" x2="332.20" y2="55.00" stroke="#555" stroke-width="0.5" />
<line x1="331.20" y1="51.00" x2="333.20" y2="51.00" stroke="#555" stroke-width="0.5" />
<circle cx="332.20" cy="49.40" r="1.20" fill="#fff" stroke="#555" stroke-width="0.55"/>
<circle cx="332.20" cy="52.30" r="1.20" fill="#fff" stroke="#555" stroke-width="0.55"/>
<rect x="331.30" y="60.10" width="1.80" height="1.80" fill="#fff" stroke="none" stroke-width="0" />
<line x1="339.20" y1="65.50" x2="339.20" y2="69.50" stroke="#555" stroke-width="0.5" />
<line x1="338.20" y1="65.50" x2="340.20" y2="65.50" stroke="#555" stroke-width="0.5" />
<circle cx="339.20" cy="64.80" r="1.20" fill="#fff" stroke="#555" stroke-width="0.55"/>
<circle cx="339.20" cy="67.60" r="1.20" fill="#fff" stroke="#555" stroke-width="0.55"/>
<rect x="338.30" y="72.60" width="1.80" height="1.80" fill="#fff" stroke="none" stroke-width="0" />
<line x1="350.00" y1="47.00" x2="350.00" y2="51.00" stroke="#555" stroke-width="0.5" />
<line x1="349.00" y1="47.00" x2="351.00" y2="47.00" stroke="#555" stroke-width="0.5" />
<circle cx="350.00" cy="46.00" r="1.20" fill="#fff" stroke="#555" stroke-width="0.55"/>
<circle cx="350.00" cy="49.20" r="1.20" fill="#fff" stroke="#555" stroke-width="0.55"/>
<rect x="349.10" y="54.90" width="1.80" height="1.80" fill="#fff" stroke="none" stroke-width="0" />
<line x1="356.60" y1="63.50" x2="356.60" y2="67.50" stroke="#555" stroke-width="0.5" />
<line x1="355.60" y1="63.50" x2="357.60" y2="63.50" stroke="#555" stroke-width="0.5" />
<circle cx="356.60" cy="62.30" r="1.20" fill="#fff" stroke="#555" stroke-width="0.55"/>
<circle cx="356.60" cy="74.50" r="1.20" fill="#fff" stroke="#555" stroke-width="0.55"/>
<line x1="376.40" y1="80.30" x2="376.40" y2="84.30" stroke="#555" stroke-width="0.5" />
<line x1="375.40" y1="80.30" x2="377.40" y2="80.30" stroke="#555" stroke-width="0.5" />
<circle cx="376.40" cy="77.60" r="1.20" fill="#fff" stroke="#555" stroke-width="0.55"/>
<rect x="375.50" y="92.10" width="1.80" height="1.80" fill="#fff" stroke="none" stroke-width="0" />
<line x1="383.00" y1="62.50" x2="383.00" y2="66.50" stroke="#555" stroke-width="0.5" />
<line x1="382.00" y1="62.50" x2="384.00" y2="62.50" stroke="#555" stroke-width="0.5" />
<circle cx="383.00" cy="64.70" r="1.20" fill="#fff" stroke="#555" stroke-width="0.55"/>
<circle cx="383.00" cy="68.80" r="1.20" fill="#fff" stroke="#555" stroke-width="0.55"/>
<rect x="382.10" y="81.10" width="1.80" height="1.80" fill="#fff" stroke="none" stroke-width="0" />
<line x1="394.00" y1="58.70" x2="394.00" y2="62.70" stroke="#555" stroke-width="0.5" />
<line x1="393.00" y1="58.70" x2="395.00" y2="58.70" stroke="#555" stroke-width="0.5" />
<circle cx="394.00" cy="54.50" r="1.20" fill="#fff" stroke="#555" stroke-width="0.55"/>
<rect x="393.10" y="76.30" width="1.80" height="1.80" fill="#fff" stroke="none" stroke-width="0" />
<line x1="400.80" y1="52.00" x2="400.80" y2="56.00" stroke="#555" stroke-width="0.5" />
<line x1="399.80" y1="52.00" x2="401.80" y2="52.00" stroke="#555" stroke-width="0.5" />
<circle cx="400.80" cy="51.20" r="1.20" fill="#fff" stroke="#555" stroke-width="0.55"/>
<rect x="399.90" y="63.10" width="1.80" height="1.80" fill="#fff" stroke="none" stroke-width="0" />
<line x1="411.50" y1="51.80" x2="411.50" y2="55.80" stroke="#555" stroke-width="0.5" />
<line x1="410.50" y1="51.80" x2="412.50" y2="51.80" stroke="#555" stroke-width="0.5" />
<circle cx="411.50" cy="52.00" r="1.20" fill="#fff" stroke="#555" stroke-width="0.55"/>
<rect x="410.60" y="57.10" width="1.80" height="1.80" fill="#fff" stroke="none" stroke-width="0" />
<line x1="418.70" y1="39.00" x2="418.70" y2="43.00" stroke="#555" stroke-width="0.5" />
<line x1="417.70" y1="39.00" x2="419.70" y2="39.00" stroke="#555" stroke-width="0.5" />
<circle cx="418.70" cy="36.80" r="1.20" fill="#fff" stroke="#555" stroke-width="0.55"/>
<circle cx="418.70" cy="47.50" r="1.20" fill="#fff" stroke="#555" stroke-width="0.55"/>
<rect x="417.80" y="49.10" width="1.80" height="1.80" fill="#fff" stroke="none" stroke-width="0" />
<line x1="437.70" y1="82.00" x2="437.70" y2="86.00" stroke="#555" stroke-width="0.5" />
<line x1="436.70" y1="82.00" x2="438.70" y2="82.00" stroke="#555" stroke-width="0.5" />
<circle cx="437.70" cy="79.50" r="1.20" fill="#fff" stroke="#555" stroke-width="0.55"/>
<rect x="436.80" y="90.10" width="1.80" height="1.80" fill="#fff" stroke="none" stroke-width="0" />
<rect x="436.80" y="93.60" width="1.80" height="1.80" fill="#fff" stroke="none" stroke-width="0" />
<line x1="444.40" y1="63.50" x2="444.40" y2="67.50" stroke="#555" stroke-width="0.5" />
<line x1="443.40" y1="63.50" x2="445.40" y2="63.50" stroke="#555" stroke-width="0.5" />
<circle cx="444.40" cy="63.80" r="1.20" fill="#fff" stroke="#555" stroke-width="0.55"/>
<circle cx="444.40" cy="62.50" r="1.20" fill="#fff" stroke="#555" stroke-width="0.55"/>
<line x1="455.50" y1="57.50" x2="455.50" y2="61.50" stroke="#555" stroke-width="0.5" />
<line x1="454.50" y1="57.50" x2="456.50" y2="57.50" stroke="#555" stroke-width="0.5" />
<circle cx="455.50" cy="55.90" r="1.20" fill="#fff" stroke="#555" stroke-width="0.55"/>
<circle cx="455.50" cy="58.20" r="1.20" fill="#fff" stroke="#555" stroke-width="0.55"/>
<rect x="454.60" y="66.90" width="1.80" height="1.80" fill="#fff" stroke="none" stroke-width="0" />
<line x1="462.30" y1="34.10" x2="462.30" y2="38.10" stroke="#555" stroke-width="0.5" />
<line x1="461.30" y1="34.10" x2="463.30" y2="34.10" stroke="#555" stroke-width="0.5" />
<circle cx="462.30" cy="35.50" r="1.20" fill="#fff" stroke="#555" stroke-width="0.55"/>
<circle cx="462.30" cy="41.50" r="1.20" fill="#fff" stroke="#555" stroke-width="0.55"/>
<circle cx="462.30" cy="47.30" r="1.20" fill="#fff" stroke="#555" stroke-width="0.55"/>
<line x1="472.60" y1="40.50" x2="472.60" y2="44.50" stroke="#555" stroke-width="0.5" />
<line x1="471.60" y1="40.50" x2="473.60" y2="40.50" stroke="#555" stroke-width="0.5" />
<circle cx="472.60" cy="38.00" r="1.20" fill="#fff" stroke="#555" stroke-width="0.55"/>
<circle cx="472.60" cy="43.30" r="1.20" fill="#fff" stroke="#555" stroke-width="0.55"/>
<rect x="471.70" y="56.10" width="1.80" height="1.80" fill="#fff" stroke="none" stroke-width="0" />
<line x1="480.20" y1="27.80" x2="480.20" y2="31.80" stroke="#555" stroke-width="0.5" />
<line x1="479.20" y1="27.80" x2="481.20" y2="27.80" stroke="#555" stroke-width="0.5" />
<circle cx="480.20" cy="23.30" r="1.20" fill="#fff" stroke="#555" stroke-width="0.55"/>
<circle cx="480.20" cy="32.50" r="1.20" fill="#fff" stroke="#555" stroke-width="0.55"/>
<circle cx="480.20" cy="41.50" r="1.20" fill="#fff" stroke="#555" stroke-width="0.55"/>
<line x1="349.30" y1="40.80" x2="357.00" y2="40.80" stroke="#555" stroke-width="0.8" />
<text x="353.15" y="40.00" font-size="5.6" text-anchor="middle" fill="#444" stroke="#444" stroke-width="0.14" >*</text>
<line x1="375.90" y1="58.70" x2="383.60" y2="58.70" stroke="#555" stroke-width="0.8" />
<text x="379.75" y="57.90" font-size="5.6" text-anchor="middle" fill="#444" stroke="#444" stroke-width="0.14" >*</text>
<line x1="437.20" y1="58.50" x2="445.00" y2="58.50" stroke="#555" stroke-width="0.8" />
<text x="441.10" y="57.70" font-size="5.6" text-anchor="middle" fill="#444" stroke="#444" stroke-width="0.14" >*</text>
<line x1="455.10" y1="30.20" x2="462.90" y2="30.20" stroke="#555" stroke-width="0.8" />
<text x="459.00" y="29.40" font-size="5.6" text-anchor="middle" fill="#444" stroke="#444" stroke-width="0.14" >*</text>
<text x="490.20" y="23.00" font-size="6.2" textLength="15.20" lengthAdjust="spacingAndGlyphs" fill="#383838" stroke="#383838" stroke-width="0.14" >Input</text>
<rect x="490.20" y="27.70" width="5.90" height="5.80" fill="#161616" stroke="none" stroke-width="0" />
<text x="499.00" y="32.80" font-size="6.2" textLength="13.50" lengthAdjust="spacingAndGlyphs" fill="#383838" stroke="#383838" stroke-width="0.14" >Slow</text>
<rect x="490.20" y="37.90" width="5.90" height="5.90" fill="#999" stroke="none" stroke-width="0" />
<text x="499.50" y="43.00" font-size="6.2" textLength="11.80" lengthAdjust="spacingAndGlyphs" fill="#383838" stroke="#383838" stroke-width="0.14" >Fast</text>
<text x="381.50" y="139.20" font-size="7.2" textLength="31.50" lengthAdjust="spacingAndGlyphs" fill="#383838" stroke="#383838" stroke-width="0.16" >Time (day)</text>
<text x="316.80" y="243.30" font-size="7.0" textLength="58.60" lengthAdjust="spacingAndGlyphs" fill="#383838" stroke="#383838" stroke-width="0.16" transform="rotate(-90 316.80 243.30)" >Frequency of clonal</text>
<text x="326.50" y="230.30" font-size="7.0" textLength="29.00" lengthAdjust="spacingAndGlyphs" fill="#383838" stroke="#383838" stroke-width="0.16" transform="rotate(-90 326.50 230.30)" >outputs (%)</text>
<line x1="345.80" y1="170.30" x2="345.80" y2="256.00" stroke="#000" stroke-width="1.2" />
<line x1="345.30" y1="255.50" x2="483.00" y2="255.50" stroke="#000" stroke-width="1.3" />
<line x1="343.30" y1="251.10" x2="345.80" y2="251.10" stroke="#222" stroke-width="0.8" />
<text x="339.90" y="253.30" font-size="6.2" text-anchor="end" fill="#383838" stroke="#383838" stroke-width="0.14" >0</text>
<line x1="343.30" y1="233.20" x2="345.80" y2="233.20" stroke="#222" stroke-width="0.8" />
<text x="339.90" y="235.40" font-size="6.2" text-anchor="end" fill="#383838" stroke="#383838" stroke-width="0.14" >10</text>
<line x1="343.30" y1="215.30" x2="345.80" y2="215.30" stroke="#222" stroke-width="0.8" />
<text x="339.90" y="217.50" font-size="6.2" text-anchor="end" fill="#383838" stroke="#383838" stroke-width="0.14" >20</text>
<line x1="343.30" y1="197.40" x2="345.80" y2="197.40" stroke="#222" stroke-width="0.8" />
<text x="339.90" y="199.60" font-size="6.2" text-anchor="end" fill="#383838" stroke="#383838" stroke-width="0.14" >30</text>
<line x1="343.30" y1="179.50" x2="345.80" y2="179.50" stroke="#222" stroke-width="0.8" />
<text x="339.90" y="181.70" font-size="6.2" text-anchor="end" fill="#383838" stroke="#383838" stroke-width="0.14" >40</text>
<rect x="352.20" y="234.45" width="9.60" height="16.65" fill="#161616" stroke="none" stroke-width="0" />
<rect x="361.80" y="250.65" width="9.60" height="0.45" fill="#999" stroke="none" stroke-width="0" />
<line x1="361.80" y1="255.40" x2="361.80" y2="258.00" stroke="#222" stroke-width="0.8" />
<rect x="378.20" y="206.89" width="9.60" height="44.21" fill="#161616" stroke="none" stroke-width="0" />
<rect x="387.80" y="233.20" width="9.60" height="17.90" fill="#999" stroke="none" stroke-width="0" />
<line x1="387.80" y1="255.40" x2="387.80" y2="258.00" stroke="#222" stroke-width="0.8" />
<rect x="404.90" y="224.25" width="9.60" height="26.85" fill="#161616" stroke="none" stroke-width="0" />
<rect x="414.50" y="223.53" width="9.60" height="27.57" fill="#999" stroke="none" stroke-width="0" />
<line x1="414.50" y1="255.40" x2="414.50" y2="258.00" stroke="#222" stroke-width="0.8" />
<rect x="431.20" y="214.76" width="9.60" height="36.34" fill="#161616" stroke="none" stroke-width="0" />
<rect x="440.80" y="192.03" width="9.60" height="59.07" fill="#999" stroke="none" stroke-width="0" />
<line x1="440.80" y1="255.40" x2="440.80" y2="258.00" stroke="#222" stroke-width="0.8" />
<rect x="457.20" y="250.03" width="9.60" height="1.07" fill="#161616" stroke="none" stroke-width="0" />
<rect x="466.80" y="248.41" width="9.60" height="2.69" fill="#999" stroke="none" stroke-width="0" />
<line x1="466.80" y1="255.40" x2="466.80" y2="258.00" stroke="#222" stroke-width="0.8" />
<text x="362.10" y="266.90" font-size="6.2" text-anchor="middle" textLength="14.30" lengthAdjust="spacingAndGlyphs" fill="#383838" stroke="#383838" stroke-width="0.14" >Blast</text>
<text x="388.10" y="266.90" font-size="6.2" text-anchor="middle" textLength="19.20" lengthAdjust="spacingAndGlyphs" fill="#383838" stroke="#383838" stroke-width="0.14" >B+NM</text>
<text x="414.00" y="266.90" font-size="6.2" text-anchor="middle" textLength="3.60" lengthAdjust="spacingAndGlyphs" fill="#383838" stroke="#383838" stroke-width="0.14" >B</text>
<text x="440.80" y="266.90" font-size="6.2" text-anchor="middle" textLength="9.90" lengthAdjust="spacingAndGlyphs" fill="#383838" stroke="#383838" stroke-width="0.14" >NM</text>
<text x="467.00" y="266.90" font-size="6.2" text-anchor="middle" textLength="29.70" lengthAdjust="spacingAndGlyphs" fill="#383838" stroke="#383838" stroke-width="0.14" >Undefined</text>
<text x="397.70" y="279.20" font-size="7.9" textLength="32.80" lengthAdjust="spacingAndGlyphs" fill="#383838" stroke="#383838" stroke-width="0.16" >Clone type</text>
<line x1="357.00" y1="234.45" x2="357.00" y2="229.98" stroke="#666" stroke-width="0.6" />
<line x1="355.70" y1="229.98" x2="358.30" y2="229.98" stroke="#666" stroke-width="0.6" />
<circle cx="357.00" cy="222.46" r="1.35" fill="#fff" stroke="#555" stroke-width="0.65"/>
<circle cx="357.20" cy="237.67" r="1.05" fill="#fff" stroke="none" stroke-width="0"/>
<circle cx="356.00" cy="243.40" r="1.05" fill="#fff" stroke="none" stroke-width="0"/>
<line x1="366.60" y1="250.65" x2="366.60" y2="250.03" stroke="#666" stroke-width="0.6" />
<line x1="365.30" y1="250.03" x2="367.90" y2="250.03" stroke="#666" stroke-width="0.6" />
<circle cx="364.50" cy="250.65" r="1.35" fill="#fff" stroke="#555" stroke-width="0.65"/>
<circle cx="368.50" cy="250.65" r="1.35" fill="#fff" stroke="#555" stroke-width="0.65"/>
<line x1="383.20" y1="206.89" x2="383.20" y2="196.68" stroke="#666" stroke-width="0.6" />
<line x1="381.90" y1="196.68" x2="384.50" y2="196.68" stroke="#666" stroke-width="0.6" />
<circle cx="382.50" cy="188.27" r="1.35" fill="#fff" stroke="#555" stroke-width="0.65"/>
<circle cx="384.00" cy="192.03" r="1.35" fill="#fff" stroke="#555" stroke-width="0.65"/>
<circle cx="383.00" cy="218.88" r="1.05" fill="#fff" stroke="none" stroke-width="0"/>
<circle cx="383.50" cy="226.76" r="1.05" fill="#fff" stroke="none" stroke-width="0"/>
<line x1="393.00" y1="233.20" x2="393.00" y2="224.25" stroke="#666" stroke-width="0.6" />
<line x1="391.70" y1="224.25" x2="394.30" y2="224.25" stroke="#666" stroke-width="0.6" />
<circle cx="393.50" cy="209.93" r="1.35" fill="#fff" stroke="#555" stroke-width="0.65"/>
<circle cx="393.00" cy="236.78" r="1.35" fill="#fff" stroke="#555" stroke-width="0.65"/>
<circle cx="393.50" cy="249.31" r="1.35" fill="#fff" stroke="#555" stroke-width="0.65"/>
<line x1="409.70" y1="224.25" x2="409.70" y2="218.16" stroke="#666" stroke-width="0.6" />
<line x1="408.40" y1="218.16" x2="411.00" y2="218.16" stroke="#666" stroke-width="0.6" />
<circle cx="408.50" cy="209.93" r="1.35" fill="#fff" stroke="#555" stroke-width="0.65"/>
<circle cx="410.00" cy="221.92" r="1.35" fill="#fff" stroke="#555" stroke-width="0.65"/>
<circle cx="410.00" cy="229.98" r="1.05" fill="#fff" stroke="none" stroke-width="0"/>
<line x1="419.20" y1="223.53" x2="419.20" y2="214.05" stroke="#666" stroke-width="0.6" />
<line x1="417.90" y1="214.05" x2="420.50" y2="214.05" stroke="#666" stroke-width="0.6" />
<circle cx="419.00" cy="198.47" r="1.35" fill="#fff" stroke="#555" stroke-width="0.65"/>
<circle cx="419.50" cy="233.20" r="1.35" fill="#fff" stroke="#555" stroke-width="0.65"/>
<circle cx="418.50" cy="238.03" r="1.35" fill="#fff" stroke="#555" stroke-width="0.65"/>
<line x1="436.00" y1="214.76" x2="436.00" y2="209.21" stroke="#666" stroke-width="0.6" />
<line x1="434.70" y1="209.21" x2="437.30" y2="209.21" stroke="#666" stroke-width="0.6" />
<circle cx="436.00" cy="207.60" r="1.35" fill="#fff" stroke="#555" stroke-width="0.65"/>
<circle cx="437.00" cy="210.47" r="1.35" fill="#fff" stroke="#555" stroke-width="0.65"/>
<circle cx="436.50" cy="219.24" r="1.05" fill="#fff" stroke="none" stroke-width="0"/>
<circle cx="437.00" cy="224.25" r="1.05" fill="#fff" stroke="none" stroke-width="0"/>
<line x1="445.60" y1="192.03" x2="445.60" y2="184.15" stroke="#666" stroke-width="0.6" />
<line x1="444.30" y1="184.15" x2="446.90" y2="184.15" stroke="#666" stroke-width="0.6" />
<circle cx="446.00" cy="179.50" r="1.35" fill="#fff" stroke="#555" stroke-width="0.65"/>
<circle cx="445.50" cy="182.19" r="1.35" fill="#fff" stroke="#555" stroke-width="0.65"/>
<circle cx="446.00" cy="196.15" r="1.35" fill="#fff" stroke="#555" stroke-width="0.65"/>
<circle cx="447.00" cy="203.31" r="1.35" fill="#fff" stroke="#555" stroke-width="0.65"/>
<line x1="461.90" y1="250.56" x2="461.90" y2="250.03" stroke="#666" stroke-width="0.6" />
<line x1="460.60" y1="250.03" x2="463.20" y2="250.03" stroke="#666" stroke-width="0.6" />
<circle cx="460.50" cy="250.38" r="1.35" fill="#fff" stroke="#555" stroke-width="0.65"/>
<circle cx="463.00" cy="249.49" r="1.35" fill="#fff" stroke="#555" stroke-width="0.65"/>
<line x1="471.20" y1="248.41" x2="471.20" y2="246.80" stroke="#666" stroke-width="0.6" />
<line x1="469.90" y1="246.80" x2="472.50" y2="246.80" stroke="#666" stroke-width="0.6" />
<circle cx="471.50" cy="242.15" r="1.35" fill="#fff" stroke="#555" stroke-width="0.65"/>
<circle cx="470.00" cy="247.52" r="1.35" fill="#fff" stroke="#555" stroke-width="0.65"/>
<circle cx="472.50" cy="248.95" r="1.35" fill="#fff" stroke="#555" stroke-width="0.65"/>
<circle cx="469.50" cy="250.20" r="1.35" fill="#fff" stroke="#555" stroke-width="0.65"/>
<line x1="357.70" y1="218.80" x2="366.10" y2="218.80" stroke="#444" stroke-width="0.9" />
<line x1="357.70" y1="218.60" x2="357.70" y2="220.00" stroke="#444" stroke-width="0.7" />
<line x1="366.10" y1="218.60" x2="366.10" y2="220.00" stroke="#444" stroke-width="0.7" />
<text x="361.90" y="217.90" font-size="5.8" text-anchor="middle" fill="#444" stroke="#444" stroke-width="0.14" >*</text>
<line x1="384.00" y1="184.10" x2="392.40" y2="184.10" stroke="#444" stroke-width="0.9" />
<line x1="384.00" y1="183.90" x2="384.00" y2="185.30" stroke="#444" stroke-width="0.7" />
<line x1="392.40" y1="183.90" x2="392.40" y2="185.30" stroke="#444" stroke-width="0.7" />
<text x="388.20" y="183.20" font-size="5.8" text-anchor="middle" fill="#444" stroke="#444" stroke-width="0.14" >*</text>
<line x1="436.00" y1="174.00" x2="444.90" y2="174.00" stroke="#444" stroke-width="0.9" />
<line x1="436.00" y1="173.80" x2="436.00" y2="175.20" stroke="#444" stroke-width="0.7" />
<line x1="444.90" y1="173.80" x2="444.90" y2="175.20" stroke="#444" stroke-width="0.7" />
<text x="440.45" y="173.10" font-size="5.8" text-anchor="middle" fill="#444" stroke="#444" stroke-width="0.14" >*</text>
<text x="485.90" y="176.20" font-size="6.2" textLength="15.00" lengthAdjust="spacingAndGlyphs" fill="#383838" stroke="#383838" stroke-width="0.14" >Input</text>
<rect x="485.90" y="180.80" width="6.00" height="6.00" fill="#161616" stroke="none" stroke-width="0" />
<text x="494.80" y="186.30" font-size="6.2" textLength="13.90" lengthAdjust="spacingAndGlyphs" fill="#383838" stroke="#383838" stroke-width="0.14" >Slow</text>
<rect x="485.90" y="190.90" width="6.00" height="6.00" fill="#999" stroke="none" stroke-width="0" />
<text x="495.20" y="196.00" font-size="6.2" textLength="12.00" lengthAdjust="spacingAndGlyphs" fill="#383838" stroke="#383838" stroke-width="0.14" >Fast</text>
<text x="24.00" y="373.20" font-size="7.2" textLength="38.90" lengthAdjust="spacingAndGlyphs" fill="#383838" stroke="#383838" stroke-width="0.16" transform="rotate(-90 24.00 373.20)" >Clone size</text>
<line x1="45.40" y1="315.00" x2="45.40" y2="385.60" stroke="#000" stroke-width="1.3" />
<line x1="42.80" y1="384.92" x2="45.40" y2="384.92" stroke="#000" stroke-width="0.9" />
<line x1="42.80" y1="383.15" x2="45.40" y2="383.15" stroke="#000" stroke-width="0.9" />
<line x1="42.80" y1="381.77" x2="45.40" y2="381.77" stroke="#000" stroke-width="0.9" />
<line x1="42.80" y1="380.65" x2="45.40" y2="380.65" stroke="#000" stroke-width="0.9" />
<line x1="42.80" y1="379.70" x2="45.40" y2="379.70" stroke="#000" stroke-width="0.9" />
<line x1="42.80" y1="378.88" x2="45.40" y2="378.88" stroke="#000" stroke-width="0.9" />
<line x1="42.80" y1="378.15" x2="45.40" y2="378.15" stroke="#000" stroke-width="0.9" />
<line x1="42.20" y1="377.50" x2="45.40" y2="377.50" stroke="#111" stroke-width="0.9" />
<line x1="42.80" y1="373.23" x2="45.40" y2="373.23" stroke="#000" stroke-width="0.9" />
<line x1="42.80" y1="370.72" x2="45.40" y2="370.72" stroke="#000" stroke-width="0.9" />
<line x1="42.80" y1="368.95" x2="45.40" y2="368.95" stroke="#000" stroke-width="0.9" />
<line x1="42.80" y1="367.57" x2="45.40" y2="367.57" stroke="#000" stroke-width="0.9" />
<line x1="42.80" y1="366.45" x2="45.40" y2="366.45" stroke="#000" stroke-width="0.9" />
<line x1="42.80" y1="365.50" x2="45.40" y2="365.50" stroke="#000" stroke-width="0.9" />
<line x1="42.80" y1="364.68" x2="45.40" y2="364.68" stroke="#000" stroke-width="0.9" />
<line x1="42.80" y1="363.95" x2="45.40" y2="363.95" stroke="#000" stroke-width="0.9" />
<line x1="42.20" y1="363.30" x2="45.40" y2="363.30" stroke="#111" stroke-width="0.9" />
<line x1="42.80" y1="359.03" x2="45.40" y2="359.03" stroke="#000" stroke-width="0.9" />
<line x1="42.80" y1="356.52" x2="45.40" y2="356.52" stroke="#000" stroke-width="0.9" />
<line x1="42.80" y1="354.75" x2="45.40" y2="354.75" stroke="#000" stroke-width="0.9" />
<line x1="42.80" y1="353.37" x2="45.40" y2="353.37" stroke="#000" stroke-width="0.9" />
<line x1="42.80" y1="352.25" x2="45.40" y2="352.25" stroke="#000" stroke-width="0.9" />
<line x1="42.80" y1="351.30" x2="45.40" y2="351.30" stroke="#000" stroke-width="0.9" />
<line x1="42.80" y1="350.48" x2="45.40" y2="350.48" stroke="#000" stroke-width="0.9" />
<line x1="42.80" y1="349.75" x2="45.40" y2="349.75" stroke="#000" stroke-width="0.9" />
<line x1="42.20" y1="349.10" x2="45.40" y2="349.10" stroke="#111" stroke-width="0.9" />
<line x1="42.80" y1="344.83" x2="45.40" y2="344.83" stroke="#000" stroke-width="0.9" />
<line x1="42.80" y1="342.32" x2="45.40" y2="342.32" stroke="#000" stroke-width="0.9" />
<line x1="42.80" y1="340.55" x2="45.40" y2="340.55" stroke="#000" stroke-width="0.9" />
<line x1="42.80" y1="339.17" x2="45.40" y2="339.17" stroke="#000" stroke-width="0.9" />
<line x1="42.80" y1="338.05" x2="45.40" y2="338.05" stroke="#000" stroke-width="0.9" />
<line x1="42.80" y1="337.10" x2="45.40" y2="337.10" stroke="#000" stroke-width="0.9" />
<line x1="42.80" y1="336.28" x2="45.40" y2="336.28" stroke="#000" stroke-width="0.9" />
<line x1="42.80" y1="335.55" x2="45.40" y2="335.55" stroke="#000" stroke-width="0.9" />
<line x1="42.20" y1="334.90" x2="45.40" y2="334.90" stroke="#111" stroke-width="0.9" />
<line x1="42.80" y1="330.63" x2="45.40" y2="330.63" stroke="#000" stroke-width="0.9" />
<line x1="42.80" y1="328.12" x2="45.40" y2="328.12" stroke="#000" stroke-width="0.9" />
<line x1="42.80" y1="326.35" x2="45.40" y2="326.35" stroke="#000" stroke-width="0.9" />
<line x1="42.80" y1="324.97" x2="45.40" y2="324.97" stroke="#000" stroke-width="0.9" />
<line x1="42.80" y1="323.85" x2="45.40" y2="323.85" stroke="#000" stroke-width="0.9" />
<line x1="42.80" y1="322.90" x2="45.40" y2="322.90" stroke="#000" stroke-width="0.9" />
<line x1="42.80" y1="322.08" x2="45.40" y2="322.08" stroke="#000" stroke-width="0.9" />
<line x1="42.80" y1="321.35" x2="45.40" y2="321.35" stroke="#000" stroke-width="0.9" />
<line x1="42.20" y1="320.70" x2="45.40" y2="320.70" stroke="#111" stroke-width="0.9" />
<text x="36.40" y="379.90" font-size="6.5" text-anchor="end" textLength="5.40" lengthAdjust="spacingAndGlyphs" fill="#383838" stroke="#383838" stroke-width="0.14" >10</text>
<text x="37.00" y="376.60" font-size="3.6" fill="#383838" stroke="#383838" stroke-width="0.14" >1</text>
<text x="36.40" y="365.70" font-size="6.5" text-anchor="end" textLength="5.40" lengthAdjust="spacingAndGlyphs" fill="#383838" stroke="#383838" stroke-width="0.14" >10</text>
<text x="37.00" y="362.40" font-size="3.6" fill="#383838" stroke="#383838" stroke-width="0.14" >2</text>
<text x="36.40" y="351.50" font-size="6.5" text-anchor="end" textLength="5.40" lengthAdjust="spacingAndGlyphs" fill="#383838" stroke="#383838" stroke-width="0.14" >10</text>
<text x="37.00" y="348.20" font-size="3.6" fill="#383838" stroke="#383838" stroke-width="0.14" >3</text>
<text x="36.40" y="337.30" font-size="6.5" text-anchor="end" textLength="5.40" lengthAdjust="spacingAndGlyphs" fill="#383838" stroke="#383838" stroke-width="0.14" >10</text>
<text x="37.00" y="334.00" font-size="3.6" fill="#383838" stroke="#383838" stroke-width="0.14" >4</text>
<text x="36.40" y="323.10" font-size="6.5" text-anchor="end" textLength="5.40" lengthAdjust="spacingAndGlyphs" fill="#383838" stroke="#383838" stroke-width="0.14" >10</text>
<text x="37.00" y="319.80" font-size="3.6" fill="#383838" stroke="#383838" stroke-width="0.14" >5</text>
<line x1="44.50" y1="385.20" x2="81.00" y2="385.20" stroke="#000" stroke-width="1.3" />
<line x1="55.10" y1="385.20" x2="55.10" y2="388.00" stroke="#222" stroke-width="0.7" />
<line x1="70.80" y1="385.20" x2="70.80" y2="388.00" stroke="#222" stroke-width="0.7" />
<text x="63.40" y="306.10" font-size="6.4" text-anchor="middle" textLength="14.60" lengthAdjust="spacingAndGlyphs" fill="#383838" stroke="#383838" stroke-width="0.14" >Blast</text>
<text x="45.60" y="396.70" font-size="6.6" textLength="13.60" lengthAdjust="spacingAndGlyphs" fill="#383838" stroke="#383838" stroke-width="0.14" >Slow</text>
<text x="65.00" y="396.70" font-size="6.6" textLength="11.90" lengthAdjust="spacingAndGlyphs" fill="#383838" stroke="#383838" stroke-width="0.14" >Fast</text>
<line x1="86.60" y1="385.20" x2="120.80" y2="385.20" stroke="#000" stroke-width="1.3" />
<line x1="95.50" y1="385.20" x2="95.50" y2="388.00" stroke="#222" stroke-width="0.7" />
<line x1="111.30" y1="385.20" x2="111.30" y2="388.00" stroke="#222" stroke-width="0.7" />
<text x="103.30" y="306.10" font-size="6.4" text-anchor="middle" textLength="19.20" lengthAdjust="spacingAndGlyphs" fill="#383838" stroke="#383838" stroke-width="0.14" >B+NM</text>
<text x="88.90" y="396.70" font-size="6.6" textLength="13.60" lengthAdjust="spacingAndGlyphs" fill="#383838" stroke="#383838" stroke-width="0.14" >Slow</text>
<text x="105.20" y="396.70" font-size="6.6" textLength="11.90" lengthAdjust="spacingAndGlyphs" fill="#383838" stroke="#383838" stroke-width="0.14" >Fast</text>
<line x1="126.60" y1="385.20" x2="160.80" y2="385.20" stroke="#000" stroke-width="1.3" />
<line x1="136.30" y1="385.20" x2="136.30" y2="388.00" stroke="#222" stroke-width="0.7" />
<line x1="151.80" y1="385.20" x2="151.80" y2="388.00" stroke="#222" stroke-width="0.7" />
<text x="144.00" y="306.10" font-size="6.4" text-anchor="middle" textLength="3.40" lengthAdjust="spacingAndGlyphs" fill="#383838" stroke="#383838" stroke-width="0.14" >B</text>
<text x="129.30" y="396.70" font-size="6.6" textLength="13.60" lengthAdjust="spacingAndGlyphs" fill="#383838" stroke="#383838" stroke-width="0.14" >Slow</text>
<text x="145.90" y="396.70" font-size="6.6" textLength="11.90" lengthAdjust="spacingAndGlyphs" fill="#383838" stroke="#383838" stroke-width="0.14" >Fast</text>
<line x1="166.60" y1="385.20" x2="200.80" y2="385.20" stroke="#000" stroke-width="1.3" />
<line x1="177.20" y1="385.20" x2="177.20" y2="388.00" stroke="#222" stroke-width="0.7" />
<line x1="192.50" y1="385.20" x2="192.50" y2="388.00" stroke="#222" stroke-width="0.7" />
<text x="185.00" y="306.10" font-size="6.4" text-anchor="middle" textLength="10.60" lengthAdjust="spacingAndGlyphs" fill="#383838" stroke="#383838" stroke-width="0.14" >NM</text>
<text x="170.00" y="396.70" font-size="6.6" textLength="13.60" lengthAdjust="spacingAndGlyphs" fill="#383838" stroke="#383838" stroke-width="0.14" >Slow</text>
<text x="187.10" y="396.70" font-size="6.6" textLength="11.90" lengthAdjust="spacingAndGlyphs" fill="#383838" stroke="#383838" stroke-width="0.14" >Fast</text>
<line x1="208.20" y1="385.20" x2="242.40" y2="385.20" stroke="#000" stroke-width="1.3" />
<line x1="217.60" y1="385.20" x2="217.60" y2="388.00" stroke="#222" stroke-width="0.7" />
<line x1="232.90" y1="385.20" x2="232.90" y2="388.00" stroke="#222" stroke-width="0.7" />
<text x="225.30" y="306.10" font-size="6.4" text-anchor="middle" textLength="30.00" lengthAdjust="spacingAndGlyphs" fill="#383838" stroke="#383838" stroke-width="0.14" >Undefined</text>
<text x="210.80" y="396.70" font-size="6.6" textLength="13.60" lengthAdjust="spacingAndGlyphs" fill="#383838" stroke="#383838" stroke-width="0.14" >Slow</text>
<text x="227.40" y="396.70" font-size="6.6" textLength="11.90" lengthAdjust="spacingAndGlyphs" fill="#383838" stroke="#383838" stroke-width="0.14" >Fast</text>
<text x="65.30" y="382.80" font-size="5.6" textLength="10.50" lengthAdjust="spacingAndGlyphs" fill="#383838" stroke="#383838" stroke-width="0.14" >n.d.</text>
<text x="130.40" y="408.60" font-size="7.4" textLength="27.90" lengthAdjust="spacingAndGlyphs" fill="#383838" stroke="#383838" stroke-width="0.16" >Input cell</text>
<line x1="55.00" y1="338.50" x2="55.00" y2="356.30" stroke="#ec8a2e" stroke-width="0.7" />
<line x1="55.00" y1="373.80" x2="55.00" y2="382.70" stroke="#ec8a2e" stroke-width="0.7" />
<rect x="50.45" y="356.30" width="9.10" height="17.50" fill="none" stroke="#ec8a2e" stroke-width="0.7"/>
<line x1="50.45" y1="364.00" x2="59.55" y2="364.00" stroke="#ec8a2e" stroke-width="0.7" />
<circle cx="53.42" cy="344.17" r="1.05" fill="#ec8a2e" stroke="none" stroke-width="0"/>
<circle cx="52.83" cy="349.89" r="1.05" fill="#ec8a2e" stroke="none" stroke-width="0"/>
<circle cx="54.49" cy="347.88" r="1.05" fill="#ec8a2e" stroke="none" stroke-width="0"/>
<circle cx="55.03" cy="339.51" r="1.05" fill="#ec8a2e" stroke="none" stroke-width="0"/>
<circle cx="54.76" cy="339.16" r="1.05" fill="#ec8a2e" stroke="none" stroke-width="0"/>
<circle cx="52.99" cy="339.72" r="1.05" fill="#ec8a2e" stroke="none" stroke-width="0"/>
<circle cx="56.44" cy="345.93" r="1.05" fill="#ec8a2e" stroke="none" stroke-width="0"/>
<circle cx="53.84" cy="340.67" r="1.05" fill="#ec8a2e" stroke="none" stroke-width="0"/>
<circle cx="57.37" cy="349.48" r="1.05" fill="#ec8a2e" stroke="none" stroke-width="0"/>
<circle cx="54.62" cy="348.60" r="1.05" fill="#ec8a2e" stroke="none" stroke-width="0"/>
<circle cx="52.57" cy="373.57" r="1.05" fill="#ec8a2e" stroke="none" stroke-width="0"/>
<circle cx="54.16" cy="371.45" r="1.05" fill="#ec8a2e" stroke="none" stroke-width="0"/>
<circle cx="53.20" cy="358.60" r="1.05" fill="#ec8a2e" stroke="none" stroke-width="0"/>
<circle cx="56.38" cy="361.55" r="1.05" fill="#ec8a2e" stroke="none" stroke-width="0"/>
<circle cx="55.30" cy="359.25" r="1.05" fill="#ec8a2e" stroke="none" stroke-width="0"/>
<circle cx="54.52" cy="367.50" r="1.05" fill="#ec8a2e" stroke="none" stroke-width="0"/>
<circle cx="52.74" cy="365.86" r="1.05" fill="#ec8a2e" stroke="none" stroke-width="0"/>
<circle cx="53.75" cy="357.07" r="1.05" fill="#ec8a2e" stroke="none" stroke-width="0"/>
<circle cx="54.74" cy="368.25" r="1.05" fill="#ec8a2e" stroke="none" stroke-width="0"/>
<circle cx="55.31" cy="361.65" r="1.05" fill="#ec8a2e" stroke="none" stroke-width="0"/>
<circle cx="54.21" cy="364.16" r="1.05" fill="#ec8a2e" stroke="none" stroke-width="0"/>
<circle cx="55.78" cy="370.30" r="1.05" fill="#ec8a2e" stroke="none" stroke-width="0"/>
<circle cx="55.27" cy="360.39" r="1.05" fill="#ec8a2e" stroke="none" stroke-width="0"/>
<circle cx="56.75" cy="365.45" r="1.05" fill="#ec8a2e" stroke="none" stroke-width="0"/>
<circle cx="54.16" cy="369.13" r="1.05" fill="#ec8a2e" stroke="none" stroke-width="0"/>
<circle cx="53.20" cy="373.64" r="1.05" fill="#ec8a2e" stroke="none" stroke-width="0"/>
<circle cx="56.06" cy="363.53" r="1.05" fill="#ec8a2e" stroke="none" stroke-width="0"/>
<circle cx="54.96" cy="358.74" r="1.05" fill="#ec8a2e" stroke="none" stroke-width="0"/>
<circle cx="55.65" cy="356.71" r="1.05" fill="#ec8a2e" stroke="none" stroke-width="0"/>
<circle cx="55.27" cy="369.76" r="1.05" fill="#ec8a2e" stroke="none" stroke-width="0"/>
<circle cx="54.27" cy="371.76" r="1.05" fill="#ec8a2e" stroke="none" stroke-width="0"/>
<circle cx="55.35" cy="368.52" r="1.05" fill="#ec8a2e" stroke="none" stroke-width="0"/>
<circle cx="54.84" cy="366.44" r="1.05" fill="#ec8a2e" stroke="none" stroke-width="0"/>
<circle cx="57.34" cy="371.12" r="1.05" fill="#ec8a2e" stroke="none" stroke-width="0"/>
<circle cx="55.63" cy="378.27" r="1.05" fill="#ec8a2e" stroke="none" stroke-width="0"/>
<circle cx="55.80" cy="374.55" r="1.05" fill="#ec8a2e" stroke="none" stroke-width="0"/>
<circle cx="58.09" cy="379.82" r="1.05" fill="#ec8a2e" stroke="none" stroke-width="0"/>
<circle cx="54.14" cy="381.40" r="1.05" fill="#ec8a2e" stroke="none" stroke-width="0"/>
<circle cx="55.65" cy="377.47" r="1.05" fill="#ec8a2e" stroke="none" stroke-width="0"/>
<circle cx="54.86" cy="374.20" r="1.05" fill="#ec8a2e" stroke="none" stroke-width="0"/>
<circle cx="53.19" cy="375.51" r="1.05" fill="#ec8a2e" stroke="none" stroke-width="0"/>
<circle cx="56.12" cy="374.53" r="1.05" fill="#ec8a2e" stroke="none" stroke-width="0"/>
<circle cx="53.96" cy="375.16" r="1.05" fill="#ec8a2e" stroke="none" stroke-width="0"/>
<circle cx="56.73" cy="377.52" r="1.05" fill="#ec8a2e" stroke="none" stroke-width="0"/>
<circle cx="54.82" cy="374.73" r="1.05" fill="#ec8a2e" stroke="none" stroke-width="0"/>
<circle cx="56.81" cy="378.94" r="1.05" fill="#ec8a2e" stroke="none" stroke-width="0"/>
<circle cx="56.67" cy="381.37" r="1.05" fill="#ec8a2e" stroke="none" stroke-width="0"/>
<circle cx="54.69" cy="376.51" r="1.05" fill="#ec8a2e" stroke="none" stroke-width="0"/>
<circle cx="56.82" cy="377.23" r="1.05" fill="#ec8a2e" stroke="none" stroke-width="0"/>
<circle cx="53.42" cy="382.62" r="1.05" fill="#ec8a2e" stroke="none" stroke-width="0"/>
<line x1="95.50" y1="320.00" x2="95.50" y2="331.80" stroke="#222" stroke-width="0.7" />
<line x1="95.50" y1="342.70" x2="95.50" y2="359.50" stroke="#222" stroke-width="0.7" />
<rect x="90.65" y="331.80" width="9.70" height="10.90" fill="none" stroke="#222" stroke-width="0.7"/>
<line x1="90.65" y1="337.00" x2="100.35" y2="337.00" stroke="#222" stroke-width="0.7" />
<circle cx="94.93" cy="322.08" r="1.00" fill="#1a1a1a" stroke="none" stroke-width="0"/>
<circle cx="95.57" cy="322.75" r="1.00" fill="#1a1a1a" stroke="none" stroke-width="0"/>
<circle cx="95.02" cy="326.95" r="1.00" fill="#1a1a1a" stroke="none" stroke-width="0"/>
<circle cx="95.42" cy="320.05" r="1.00" fill="#1a1a1a" stroke="none" stroke-width="0"/>
<circle cx="95.74" cy="324.36" r="1.00" fill="#1a1a1a" stroke="none" stroke-width="0"/>
<circle cx="96.05" cy="331.25" r="1.00" fill="#1a1a1a" stroke="none" stroke-width="0"/>
<circle cx="95.86" cy="326.08" r="1.00" fill="#1a1a1a" stroke="none" stroke-width="0"/>
<circle cx="94.19" cy="327.98" r="1.00" fill="#1a1a1a" stroke="none" stroke-width="0"/>
<circle cx="96.31" cy="330.61" r="1.00" fill="#1a1a1a" stroke="none" stroke-width="0"/>
<circle cx="96.36" cy="330.32" r="1.00" fill="#1a1a1a" stroke="none" stroke-width="0"/>
<circle cx="95.38" cy="324.63" r="1.00" fill="#1a1a1a" stroke="none" stroke-width="0"/>
<circle cx="95.90" cy="321.22" r="1.00" fill="#1a1a1a" stroke="none" stroke-width="0"/>
<circle cx="94.27" cy="320.73" r="1.00" fill="#1a1a1a" stroke="none" stroke-width="0"/>
<circle cx="94.70" cy="322.46" r="1.00" fill="#1a1a1a" stroke="none" stroke-width="0"/>
<circle cx="94.18" cy="324.01" r="1.00" fill="#1a1a1a" stroke="none" stroke-width="0"/>
<circle cx="94.66" cy="320.00" r="1.00" fill="#1a1a1a" stroke="none" stroke-width="0"/>
<circle cx="95.29" cy="321.20" r="1.00" fill="#1a1a1a" stroke="none" stroke-width="0"/>
<circle cx="96.65" cy="320.30" r="1.00" fill="#1a1a1a" stroke="none" stroke-width="0"/>
<circle cx="94.64" cy="327.25" r="1.00" fill="#1a1a1a" stroke="none" stroke-width="0"/>
<circle cx="95.25" cy="322.98" r="1.00" fill="#1a1a1a" stroke="none" stroke-width="0"/>
<circle cx="94.54" cy="324.30" r="1.00" fill="#1a1a1a" stroke="none" stroke-width="0"/>
<circle cx="97.45" cy="330.02" r="1.00" fill="#1a1a1a" stroke="none" stroke-width="0"/>
<circle cx="95.57" cy="325.50" r="1.00" fill="#1a1a1a" stroke="none" stroke-width="0"/>
<circle cx="94.45" cy="321.01" r="1.00" fill="#1a1a1a" stroke="none" stroke-width="0"/>
<circle cx="95.03" cy="324.04" r="1.00" fill="#1a1a1a" stroke="none" stroke-width="0"/>
<circle cx="94.69" cy="329.78" r="1.00" fill="#1a1a1a" stroke="none" stroke-width="0"/>
<circle cx="97.04" cy="320.27" r="1.00" fill="#1a1a1a" stroke="none" stroke-width="0"/>
<circle cx="94.64" cy="326.23" r="1.00" fill="#1a1a1a" stroke="none" stroke-width="0"/>
<circle cx="93.99" cy="326.41" r="1.00" fill="#1a1a1a" stroke="none" stroke-width="0"/>
<circle cx="97.26" cy="326.23" r="1.00" fill="#1a1a1a" stroke="none" stroke-width="0"/>
<circle cx="96.06" cy="330.19" r="1.00" fill="#1a1a1a" stroke="none" stroke-width="0"/>
<circle cx="95.30" cy="323.08" r="1.00" fill="#1a1a1a" stroke="none" stroke-width="0"/>
<circle cx="96.28" cy="321.97" r="1.00" fill="#1a1a1a" stroke="none" stroke-width="0"/>
<circle cx="96.30" cy="326.28" r="1.00" fill="#1a1a1a" stroke="none" stroke-width="0"/>
<circle cx="94.90" cy="323.89" r="1.00" fill="#1a1a1a" stroke="none" stroke-width="0"/>
<circle cx="97.34" cy="329.58" r="1.00" fill="#1a1a1a" stroke="none" stroke-width="0"/>
<circle cx="96.39" cy="330.06" r="1.00" fill="#1a1a1a" stroke="none" stroke-width="0"/>
<circle cx="96.19" cy="329.66" r="1.00" fill="#1a1a1a" stroke="none" stroke-width="0"/>
<circle cx="95.64" cy="322.68" r="1.00" fill="#1a1a1a" stroke="none" stroke-width="0"/>
<circle cx="94.01" cy="324.20" r="1.00" fill="#1a1a1a" stroke="none" stroke-width="0"/>
<circle cx="95.07" cy="332.10" r="1.00" fill="#1a1a1a" stroke="none" stroke-width="0"/>
<circle cx="96.05" cy="334.63" r="1.00" fill="#1a1a1a" stroke="none" stroke-width="0"/>
<circle cx="95.49" cy="342.23" r="1.00" fill="#1a1a1a" stroke="none" stroke-width="0"/>
<circle cx="97.38" cy="342.01" r="1.00" fill="#1a1a1a" stroke="none" stroke-width="0"/>
<circle cx="95.29" cy="342.21" r="1.00" fill="#1a1a1a" stroke="none" stroke-width="0"/>
<circle cx="94.91" cy="334.20" r="1.00" fill="#1a1a1a" stroke="none" stroke-width="0"/>
<circle cx="94.84" cy="333.94" r="1.00" fill="#1a1a1a" stroke="none" stroke-width="0"/>
<circle cx="96.76" cy="338.60" r="1.00" fill="#1a1a1a" stroke="none" stroke-width="0"/>
<circle cx="95.56" cy="340.96" r="1.00" fill="#1a1a1a" stroke="none" stroke-width="0"/>
<circle cx="96.37" cy="338.92" r="1.00" fill="#1a1a1a" stroke="none" stroke-width="0"/>
<circle cx="95.97" cy="332.72" r="1.00" fill="#1a1a1a" stroke="none" stroke-width="0"/>
<circle cx="96.31" cy="341.72" r="1.00" fill="#1a1a1a" stroke="none" stroke-width="0"/>
<circle cx="95.55" cy="339.98" r="1.00" fill="#1a1a1a" stroke="none" stroke-width="0"/>
<circle cx="96.34" cy="333.75" r="1.00" fill="#1a1a1a" stroke="none" stroke-width="0"/>
<circle cx="96.37" cy="335.42" r="1.00" fill="#1a1a1a" stroke="none" stroke-width="0"/>
<circle cx="95.37" cy="342.39" r="1.00" fill="#1a1a1a" stroke="none" stroke-width="0"/>
<circle cx="97.01" cy="336.18" r="1.00" fill="#1a1a1a" stroke="none" stroke-width="0"/>
<circle cx="94.72" cy="339.70" r="1.00" fill="#1a1a1a" stroke="none" stroke-width="0"/>
<circle cx="94.65" cy="333.18" r="1.00" fill="#1a1a1a" stroke="none" stroke-width="0"/>
<circle cx="96.39" cy="341.66" r="1.00" fill="#1a1a1a" stroke="none" stroke-width="0"/>
<circle cx="96.46" cy="333.39" r="1.00" fill="#1a1a1a" stroke="none" stroke-width="0"/>
<circle cx="95.96" cy="342.49" r="1.00" fill="#1a1a1a" stroke="none" stroke-width="0"/>
<circle cx="95.70" cy="335.62" r="1.00" fill="#1a1a1a" stroke="none" stroke-width="0"/>
<circle cx="93.85" cy="333.23" r="1.00" fill="#1a1a1a" stroke="none" stroke-width="0"/>
<circle cx="95.94" cy="342.38" r="1.00" fill="#1a1a1a" stroke="none" stroke-width="0"/>
<circle cx="96.93" cy="337.54" r="1.00" fill="#1a1a1a" stroke="none" stroke-width="0"/>
<circle cx="96.64" cy="336.53" r="1.00" fill="#1a1a1a" stroke="none" stroke-width="0"/>
<circle cx="94.86" cy="340.81" r="1.00" fill="#1a1a1a" stroke="none" stroke-width="0"/>
<circle cx="95.11" cy="334.54" r="1.00" fill="#1a1a1a" stroke="none" stroke-width="0"/>
<circle cx="95.79" cy="334.42" r="1.00" fill="#1a1a1a" stroke="none" stroke-width="0"/>
<circle cx="95.42" cy="334.63" r="1.00" fill="#1a1a1a" stroke="none" stroke-width="0"/>
<circle cx="96.81" cy="333.23" r="1.00" fill="#1a1a1a" stroke="none" stroke-width="0"/>
<circle cx="95.51" cy="335.66" r="1.00" fill="#1a1a1a" stroke="none" stroke-width="0"/>
<circle cx="96.78" cy="338.16" r="1.00" fill="#1a1a1a" stroke="none" stroke-width="0"/>
<circle cx="96.85" cy="336.38" r="1.00" fill="#1a1a1a" stroke="none" stroke-width="0"/>
<circle cx="95.67" cy="337.27" r="1.00" fill="#1a1a1a" stroke="none" stroke-width="0"/>
<circle cx="93.91" cy="337.51" r="1.00" fill="#1a1a1a" stroke="none" stroke-width="0"/>
<circle cx="94.77" cy="336.60" r="1.00" fill="#1a1a1a" stroke="none" stroke-width="0"/>
<circle cx="96.37" cy="331.84" r="1.00" fill="#1a1a1a" stroke="none" stroke-width="0"/>
<circle cx="95.54" cy="333.68" r="1.00" fill="#1a1a1a" stroke="none" stroke-width="0"/>
<circle cx="95.72" cy="339.70" r="1.00" fill="#1a1a1a" stroke="none" stroke-width="0"/>
<circle cx="95.64" cy="335.35" r="1.00" fill="#1a1a1a" stroke="none" stroke-width="0"/>
<circle cx="96.32" cy="337.85" r="1.00" fill="#1a1a1a" stroke="none" stroke-width="0"/>
<circle cx="95.73" cy="332.96" r="1.00" fill="#1a1a1a" stroke="none" stroke-width="0"/>
<circle cx="95.06" cy="334.51" r="1.00" fill="#1a1a1a" stroke="none" stroke-width="0"/>
<circle cx="95.62" cy="340.22" r="1.00" fill="#1a1a1a" stroke="none" stroke-width="0"/>
<circle cx="96.25" cy="337.92" r="1.00" fill="#1a1a1a" stroke="none" stroke-width="0"/>
<circle cx="95.48" cy="341.75" r="1.00" fill="#1a1a1a" stroke="none" stroke-width="0"/>
<circle cx="95.61" cy="338.48" r="1.00" fill="#1a1a1a" stroke="none" stroke-width="0"/>
<circle cx="96.05" cy="337.38" r="1.00" fill="#1a1a1a" stroke="none" stroke-width="0"/>
<circle cx="95.67" cy="336.73" r="1.00" fill="#1a1a1a" stroke="none" stroke-width="0"/>
<circle cx="96.98" cy="337.01" r="1.00" fill="#1a1a1a" stroke="none" stroke-width="0"/>
<circle cx="96.66" cy="339.42" r="1.00" fill="#1a1a1a" stroke="none" stroke-width="0"/>
<circle cx="95.01" cy="342.07" r="1.00" fill="#1a1a1a" stroke="none" stroke-width="0"/>
<circle cx="96.99" cy="337.90" r="1.00" fill="#1a1a1a" stroke="none" stroke-width="0"/>
<circle cx="94.60" cy="340.96" r="1.00" fill="#1a1a1a" stroke="none" stroke-width="0"/>
<circle cx="95.47" cy="333.13" r="1.00" fill="#1a1a1a" stroke="none" stroke-width="0"/>
<circle cx="94.96" cy="332.59" r="1.00" fill="#1a1a1a" stroke="none" stroke-width="0"/>
<circle cx="95.99" cy="332.60" r="1.00" fill="#1a1a1a" stroke="none" stroke-width="0"/>
<circle cx="96.75" cy="340.34" r="1.00" fill="#1a1a1a" stroke="none" stroke-width="0"/>
<circle cx="96.12" cy="333.48" r="1.00" fill="#1a1a1a" stroke="none" stroke-width="0"/>
<circle cx="94.62" cy="339.00" r="1.00" fill="#1a1a1a" stroke="none" stroke-width="0"/>
<circle cx="97.16" cy="341.42" r="1.00" fill="#1a1a1a" stroke="none" stroke-width="0"/>
<circle cx="97.05" cy="334.19" r="1.00" fill="#1a1a1a" stroke="none" stroke-width="0"/>
<circle cx="95.57" cy="336.14" r="1.00" fill="#1a1a1a" stroke="none" stroke-width="0"/>
<circle cx="96.48" cy="342.59" r="1.00" fill="#1a1a1a" stroke="none" stroke-width="0"/>
<circle cx="95.45" cy="333.56" r="1.00" fill="#1a1a1a" stroke="none" stroke-width="0"/>
<circle cx="95.23" cy="337.42" r="1.00" fill="#1a1a1a" stroke="none" stroke-width="0"/>
<circle cx="95.18" cy="333.93" r="1.00" fill="#1a1a1a" stroke="none" stroke-width="0"/>
<circle cx="93.91" cy="339.67" r="1.00" fill="#1a1a1a" stroke="none" stroke-width="0"/>
<circle cx="95.47" cy="337.84" r="1.00" fill="#1a1a1a" stroke="none" stroke-width="0"/>
<circle cx="95.21" cy="332.00" r="1.00" fill="#1a1a1a" stroke="none" stroke-width="0"/>
<circle cx="95.63" cy="338.60" r="1.00" fill="#1a1a1a" stroke="none" stroke-width="0"/>
<circle cx="97.34" cy="332.50" r="1.00" fill="#1a1a1a" stroke="none" stroke-width="0"/>
<circle cx="97.20" cy="340.39" r="1.00" fill="#1a1a1a" stroke="none" stroke-width="0"/>
<circle cx="95.03" cy="332.94" r="1.00" fill="#1a1a1a" stroke="none" stroke-width="0"/>
<circle cx="96.30" cy="332.23" r="1.00" fill="#1a1a1a" stroke="none" stroke-width="0"/>
<circle cx="94.57" cy="334.75" r="1.00" fill="#1a1a1a" stroke="none" stroke-width="0"/>
<circle cx="96.82" cy="336.40" r="1.00" fill="#1a1a1a" stroke="none" stroke-width="0"/>
<circle cx="95.01" cy="340.73" r="1.00" fill="#1a1a1a" stroke="none" stroke-width="0"/>
<circle cx="96.86" cy="333.43" r="1.00" fill="#1a1a1a" stroke="none" stroke-width="0"/>
<circle cx="96.07" cy="338.02" r="1.00" fill="#1a1a1a" stroke="none" stroke-width="0"/>
<circle cx="94.21" cy="332.78" r="1.00" fill="#1a1a1a" stroke="none" stroke-width="0"/>
<circle cx="95.44" cy="339.30" r="1.00" fill="#1a1a1a" stroke="none" stroke-width="0"/>
<circle cx="96.96" cy="332.59" r="1.00" fill="#1a1a1a" stroke="none" stroke-width="0"/>
<circle cx="96.38" cy="338.72" r="1.00" fill="#1a1a1a" stroke="none" stroke-width="0"/>
<circle cx="96.57" cy="332.71" r="1.00" fill="#1a1a1a" stroke="none" stroke-width="0"/>
<circle cx="96.60" cy="332.53" r="1.00" fill="#1a1a1a" stroke="none" stroke-width="0"/>
<circle cx="95.23" cy="336.75" r="1.00" fill="#1a1a1a" stroke="none" stroke-width="0"/>
<circle cx="96.90" cy="337.83" r="1.00" fill="#1a1a1a" stroke="none" stroke-width="0"/>
<circle cx="94.57" cy="346.26" r="1.00" fill="#1a1a1a" stroke="none" stroke-width="0"/>
<circle cx="94.95" cy="349.71" r="1.00" fill="#1a1a1a" stroke="none" stroke-width="0"/>
<circle cx="94.69" cy="344.16" r="1.00" fill="#1a1a1a" stroke="none" stroke-width="0"/>
<circle cx="94.83" cy="343.37" r="1.00" fill="#1a1a1a" stroke="none" stroke-width="0"/>
<circle cx="95.14" cy="346.85" r="1.00" fill="#1a1a1a" stroke="none" stroke-width="0"/>
<circle cx="95.10" cy="352.80" r="1.00" fill="#1a1a1a" stroke="none" stroke-width="0"/>
<circle cx="94.75" cy="349.35" r="1.00" fill="#1a1a1a" stroke="none" stroke-width="0"/>
<circle cx="93.90" cy="347.32" r="1.00" fill="#1a1a1a" stroke="none" stroke-width="0"/>
<circle cx="93.87" cy="346.03" r="1.00" fill="#1a1a1a" stroke="none" stroke-width="0"/>
<circle cx="95.71" cy="352.45" r="1.00" fill="#1a1a1a" stroke="none" stroke-width="0"/>
<circle cx="95.55" cy="345.22" r="1.00" fill="#1a1a1a" stroke="none" stroke-width="0"/>
<circle cx="94.47" cy="355.13" r="1.00" fill="#1a1a1a" stroke="none" stroke-width="0"/>
<circle cx="95.45" cy="353.59" r="1.00" fill="#1a1a1a" stroke="none" stroke-width="0"/>
<circle cx="96.49" cy="349.28" r="1.00" fill="#1a1a1a" stroke="none" stroke-width="0"/>
<circle cx="95.61" cy="347.93" r="1.00" fill="#1a1a1a" stroke="none" stroke-width="0"/>
<circle cx="97.31" cy="351.85" r="1.00" fill="#1a1a1a" stroke="none" stroke-width="0"/>
<circle cx="96.48" cy="347.26" r="1.00" fill="#1a1a1a" stroke="none" stroke-width="0"/>
<circle cx="95.91" cy="352.10" r="1.00" fill="#1a1a1a" stroke="none" stroke-width="0"/>
<circle cx="95.25" cy="348.08" r="1.00" fill="#1a1a1a" stroke="none" stroke-width="0"/>
<circle cx="94.57" cy="343.42" r="1.00" fill="#1a1a1a" stroke="none" stroke-width="0"/>
<circle cx="96.19" cy="343.64" r="1.00" fill="#1a1a1a" stroke="none" stroke-width="0"/>
<circle cx="94.70" cy="346.10" r="1.00" fill="#1a1a1a" stroke="none" stroke-width="0"/>
<circle cx="96.52" cy="343.82" r="1.00" fill="#1a1a1a" stroke="none" stroke-width="0"/>
<circle cx="96.00" cy="354.28" r="1.00" fill="#1a1a1a" stroke="none" stroke-width="0"/>
<circle cx="94.96" cy="346.45" r="1.00" fill="#1a1a1a" stroke="none" stroke-width="0"/>
<circle cx="95.51" cy="346.60" r="1.00" fill="#1a1a1a" stroke="none" stroke-width="0"/>
<circle cx="95.48" cy="344.80" r="1.00" fill="#1a1a1a" stroke="none" stroke-width="0"/>
<circle cx="97.12" cy="346.20" r="1.00" fill="#1a1a1a" stroke="none" stroke-width="0"/>
<circle cx="95.70" cy="355.64" r="1.00" fill="#1a1a1a" stroke="none" stroke-width="0"/>
<circle cx="97.15" cy="345.95" r="1.00" fill="#1a1a1a" stroke="none" stroke-width="0"/>
<circle cx="95.27" cy="346.82" r="1.00" fill="#1a1a1a" stroke="none" stroke-width="0"/>
<circle cx="95.33" cy="342.71" r="1.00" fill="#1a1a1a" stroke="none" stroke-width="0"/>
<circle cx="95.61" cy="349.01" r="1.00" fill="#1a1a1a" stroke="none" stroke-width="0"/>
<circle cx="95.61" cy="345.37" r="1.00" fill="#1a1a1a" stroke="none" stroke-width="0"/>
<circle cx="95.03" cy="342.77" r="1.00" fill="#1a1a1a" stroke="none" stroke-width="0"/>
<circle cx="95.38" cy="343.89" r="1.00" fill="#1a1a1a" stroke="none" stroke-width="0"/>
<circle cx="93.95" cy="343.25" r="1.00" fill="#1a1a1a" stroke="none" stroke-width="0"/>
<circle cx="94.93" cy="346.75" r="1.00" fill="#1a1a1a" stroke="none" stroke-width="0"/>
<circle cx="95.66" cy="350.49" r="1.00" fill="#1a1a1a" stroke="none" stroke-width="0"/>
<circle cx="95.96" cy="352.68" r="1.00" fill="#1a1a1a" stroke="none" stroke-width="0"/>
<circle cx="96.67" cy="358.86" r="1.00" fill="#1a1a1a" stroke="none" stroke-width="0"/>
<circle cx="95.20" cy="357.56" r="1.00" fill="#1a1a1a" stroke="none" stroke-width="0"/>
<circle cx="94.65" cy="359.94" r="1.00" fill="#1a1a1a" stroke="none" stroke-width="0"/>
<line x1="111.40" y1="330.50" x2="111.40" y2="338.50" stroke="#222" stroke-width="0.7" />
<line x1="111.40" y1="349.30" x2="111.40" y2="372.60" stroke="#222" stroke-width="0.7" />
<rect x="106.65" y="338.50" width="9.50" height="10.80" fill="none" stroke="#222" stroke-width="0.7"/>
<line x1="106.65" y1="344.00" x2="116.15" y2="344.00" stroke="#222" stroke-width="0.7" />
<circle cx="111.76" cy="336.16" r="1.00" fill="#1a1a1a" stroke="none" stroke-width="0"/>
<circle cx="112.38" cy="330.37" r="1.00" fill="#1a1a1a" stroke="none" stroke-width="0"/>
<circle cx="111.71" cy="337.58" r="1.00" fill="#1a1a1a" stroke="none" stroke-width="0"/>
<circle cx="112.29" cy="336.24" r="1.00" fill="#1a1a1a" stroke="none" stroke-width="0"/>
<circle cx="111.46" cy="331.18" r="1.00" fill="#1a1a1a" stroke="none" stroke-width="0"/>
<circle cx="112.38" cy="334.29" r="1.00" fill="#1a1a1a" stroke="none" stroke-width="0"/>
<circle cx="112.34" cy="336.84" r="1.00" fill="#1a1a1a" stroke="none" stroke-width="0"/>
<circle cx="112.64" cy="334.96" r="1.00" fill="#1a1a1a" stroke="none" stroke-width="0"/>
<circle cx="111.90" cy="335.80" r="1.00" fill="#1a1a1a" stroke="none" stroke-width="0"/>
<circle cx="109.67" cy="331.95" r="1.00" fill="#1a1a1a" stroke="none" stroke-width="0"/>
<circle cx="111.05" cy="331.13" r="1.00" fill="#1a1a1a" stroke="none" stroke-width="0"/>
<circle cx="112.38" cy="330.89" r="1.00" fill="#1a1a1a" stroke="none" stroke-width="0"/>
<circle cx="111.72" cy="334.75" r="1.00" fill="#1a1a1a" stroke="none" stroke-width="0"/>
<circle cx="111.86" cy="335.32" r="1.00" fill="#1a1a1a" stroke="none" stroke-width="0"/>
<circle cx="109.29" cy="343.78" r="1.00" fill="#1a1a1a" stroke="none" stroke-width="0"/>
<circle cx="112.07" cy="347.12" r="1.00" fill="#1a1a1a" stroke="none" stroke-width="0"/>
<circle cx="111.48" cy="343.93" r="1.00" fill="#1a1a1a" stroke="none" stroke-width="0"/>
<circle cx="109.94" cy="345.62" r="1.00" fill="#1a1a1a" stroke="none" stroke-width="0"/>
<circle cx="110.73" cy="346.46" r="1.00" fill="#1a1a1a" stroke="none" stroke-width="0"/>
<circle cx="110.78" cy="339.30" r="1.00" fill="#1a1a1a" stroke="none" stroke-width="0"/>
<circle cx="110.57" cy="346.38" r="1.00" fill="#1a1a1a" stroke="none" stroke-width="0"/>
<circle cx="113.19" cy="346.49" r="1.00" fill="#1a1a1a" stroke="none" stroke-width="0"/>
<circle cx="111.11" cy="343.83" r="1.00" fill="#1a1a1a" stroke="none" stroke-width="0"/>
<circle cx="111.87" cy="343.67" r="1.00" fill="#1a1a1a" stroke="none" stroke-width="0"/>
<circle cx="111.69" cy="346.78" r="1.00" fill="#1a1a1a" stroke="none" stroke-width="0"/>
<circle cx="110.01" cy="345.44" r="1.00" fill="#1a1a1a" stroke="none" stroke-width="0"/>
<circle cx="110.74" cy="340.09" r="1.00" fill="#1a1a1a" stroke="none" stroke-width="0"/>
<circle cx="110.89" cy="346.53" r="1.00" fill="#1a1a1a" stroke="none" stroke-width="0"/>
<circle cx="109.46" cy="344.63" r="1.00" fill="#1a1a1a" stroke="none" stroke-width="0"/>
<circle cx="110.79" cy="339.16" r="1.00" fill="#1a1a1a" stroke="none" stroke-width="0"/>
<circle cx="111.90" cy="345.76" r="1.00" fill="#1a1a1a" stroke="none" stroke-width="0"/>
<circle cx="110.85" cy="345.80" r="1.00" fill="#1a1a1a" stroke="none" stroke-width="0"/>
<circle cx="111.32" cy="344.08" r="1.00" fill="#1a1a1a" stroke="none" stroke-width="0"/>
<circle cx="110.22" cy="343.54" r="1.00" fill="#1a1a1a" stroke="none" stroke-width="0"/>
<circle cx="110.55" cy="348.15" r="1.00" fill="#1a1a1a" stroke="none" stroke-width="0"/>
<circle cx="112.88" cy="349.06" r="1.00" fill="#1a1a1a" stroke="none" stroke-width="0"/>
<circle cx="111.30" cy="338.69" r="1.00" fill="#1a1a1a" stroke="none" stroke-width="0"/>
<circle cx="113.12" cy="347.35" r="1.00" fill="#1a1a1a" stroke="none" stroke-width="0"/>
<circle cx="110.79" cy="343.35" r="1.00" fill="#1a1a1a" stroke="none" stroke-width="0"/>
<circle cx="112.94" cy="340.77" r="1.00" fill="#1a1a1a" stroke="none" stroke-width="0"/>
<circle cx="111.60" cy="340.78" r="1.00" fill="#1a1a1a" stroke="none" stroke-width="0"/>
<circle cx="111.46" cy="340.03" r="1.00" fill="#1a1a1a" stroke="none" stroke-width="0"/>
<circle cx="110.28" cy="348.79" r="1.00" fill="#1a1a1a" stroke="none" stroke-width="0"/>
<circle cx="111.42" cy="347.36" r="1.00" fill="#1a1a1a" stroke="none" stroke-width="0"/>
<circle cx="111.93" cy="348.08" r="1.00" fill="#1a1a1a" stroke="none" stroke-width="0"/>
<circle cx="112.66" cy="341.00" r="1.00" fill="#1a1a1a" stroke="none" stroke-width="0"/>
<circle cx="109.61" cy="343.75" r="1.00" fill="#1a1a1a" stroke="none" stroke-width="0"/>
<circle cx="111.38" cy="338.54" r="1.00" fill="#1a1a1a" stroke="none" stroke-width="0"/>
<circle cx="110.89" cy="343.37" r="1.00" fill="#1a1a1a" stroke="none" stroke-width="0"/>
<circle cx="111.01" cy="340.02" r="1.00" fill="#1a1a1a" stroke="none" stroke-width="0"/>
<circle cx="112.40" cy="341.91" r="1.00" fill="#1a1a1a" stroke="none" stroke-width="0"/>
<circle cx="112.08" cy="338.52" r="1.00" fill="#1a1a1a" stroke="none" stroke-width="0"/>
<circle cx="110.23" cy="347.56" r="1.00" fill="#1a1a1a" stroke="none" stroke-width="0"/>
<circle cx="111.96" cy="348.51" r="1.00" fill="#1a1a1a" stroke="none" stroke-width="0"/>
<circle cx="110.85" cy="348.24" r="1.00" fill="#1a1a1a" stroke="none" stroke-width="0"/>
<circle cx="111.14" cy="342.52" r="1.00" fill="#1a1a1a" stroke="none" stroke-width="0"/>
<circle cx="111.62" cy="349.29" r="1.00" fill="#1a1a1a" stroke="none" stroke-width="0"/>
<circle cx="111.23" cy="342.40" r="1.00" fill="#1a1a1a" stroke="none" stroke-width="0"/>
<circle cx="109.81" cy="341.47" r="1.00" fill="#1a1a1a" stroke="none" stroke-width="0"/>
<circle cx="112.38" cy="350.59" r="1.00" fill="#1a1a1a" stroke="none" stroke-width="0"/>
<circle cx="112.87" cy="352.93" r="1.00" fill="#1a1a1a" stroke="none" stroke-width="0"/>
<circle cx="110.78" cy="352.47" r="1.00" fill="#1a1a1a" stroke="none" stroke-width="0"/>
<circle cx="110.52" cy="355.79" r="1.00" fill="#1a1a1a" stroke="none" stroke-width="0"/>
<circle cx="113.02" cy="354.04" r="1.00" fill="#1a1a1a" stroke="none" stroke-width="0"/>
<circle cx="112.29" cy="360.53" r="1.00" fill="#1a1a1a" stroke="none" stroke-width="0"/>
<circle cx="112.74" cy="357.31" r="1.00" fill="#1a1a1a" stroke="none" stroke-width="0"/>
<circle cx="111.52" cy="361.25" r="1.00" fill="#1a1a1a" stroke="none" stroke-width="0"/>
<circle cx="109.82" cy="358.44" r="1.00" fill="#1a1a1a" stroke="none" stroke-width="0"/>
<circle cx="111.28" cy="358.60" r="1.00" fill="#1a1a1a" stroke="none" stroke-width="0"/>
<circle cx="111.76" cy="358.86" r="1.00" fill="#1a1a1a" stroke="none" stroke-width="0"/>
<circle cx="109.82" cy="352.93" r="1.00" fill="#1a1a1a" stroke="none" stroke-width="0"/>
<circle cx="110.26" cy="361.07" r="1.00" fill="#1a1a1a" stroke="none" stroke-width="0"/>
<circle cx="111.01" cy="355.30" r="1.00" fill="#1a1a1a" stroke="none" stroke-width="0"/>
<circle cx="112.04" cy="353.08" r="1.00" fill="#1a1a1a" stroke="none" stroke-width="0"/>
<circle cx="110.76" cy="361.70" r="1.00" fill="#1a1a1a" stroke="none" stroke-width="0"/>
<circle cx="110.88" cy="369.22" r="1.00" fill="#1a1a1a" stroke="none" stroke-width="0"/>
<circle cx="111.14" cy="368.13" r="1.00" fill="#1a1a1a" stroke="none" stroke-width="0"/>
<circle cx="110.41" cy="363.84" r="1.00" fill="#1a1a1a" stroke="none" stroke-width="0"/>
<circle cx="112.70" cy="364.29" r="1.00" fill="#1a1a1a" stroke="none" stroke-width="0"/>
<circle cx="110.63" cy="367.47" r="1.00" fill="#1a1a1a" stroke="none" stroke-width="0"/>
<circle cx="113.51" cy="371.97" r="1.00" fill="#1a1a1a" stroke="none" stroke-width="0"/>
<line x1="136.70" y1="327.60" x2="136.70" y2="341.00" stroke="#4a78c2" stroke-width="0.7" />
<line x1="136.70" y1="351.80" x2="136.70" y2="365.20" stroke="#4a78c2" stroke-width="0.7" />
<line x1="135.70" y1="327.60" x2="137.70" y2="327.60" stroke="#4a78c2" stroke-width="0.7" />
<line x1="135.70" y1="365.20" x2="137.70" y2="365.20" stroke="#4a78c2" stroke-width="0.7" />
<rect x="131.50" y="341.00" width="10.40" height="10.80" fill="none" stroke="#4a78c2" stroke-width="0.7"/>
<line x1="131.50" y1="346.00" x2="141.90" y2="346.00" stroke="#4a78c2" stroke-width="0.7" />
<circle cx="135.27" cy="333.63" r="1.05" fill="#4a78c2" stroke="none" stroke-width="0"/>
<circle cx="135.01" cy="330.18" r="1.05" fill="#4a78c2" stroke="none" stroke-width="0"/>
<circle cx="135.01" cy="332.18" r="1.05" fill="#4a78c2" stroke="none" stroke-width="0"/>
<circle cx="135.77" cy="330.80" r="1.05" fill="#4a78c2" stroke="none" stroke-width="0"/>
<circle cx="137.87" cy="335.23" r="1.05" fill="#4a78c2" stroke="none" stroke-width="0"/>
<circle cx="136.26" cy="337.65" r="1.05" fill="#4a78c2" stroke="none" stroke-width="0"/>
<circle cx="136.56" cy="333.15" r="1.05" fill="#4a78c2" stroke="none" stroke-width="0"/>
<circle cx="136.04" cy="332.65" r="1.05" fill="#4a78c2" stroke="none" stroke-width="0"/>
<circle cx="135.84" cy="328.43" r="1.05" fill="#4a78c2" stroke="none" stroke-width="0"/>
<circle cx="135.20" cy="340.57" r="1.05" fill="#4a78c2" stroke="none" stroke-width="0"/>
<circle cx="136.86" cy="334.35" r="1.05" fill="#4a78c2" stroke="none" stroke-width="0"/>
<circle cx="135.61" cy="339.16" r="1.05" fill="#4a78c2" stroke="none" stroke-width="0"/>
<circle cx="135.73" cy="331.23" r="1.05" fill="#4a78c2" stroke="none" stroke-width="0"/>
<circle cx="136.36" cy="332.96" r="1.05" fill="#4a78c2" stroke="none" stroke-width="0"/>
<circle cx="137.67" cy="351.30" r="1.05" fill="#4a78c2" stroke="none" stroke-width="0"/>
<circle cx="134.44" cy="350.43" r="1.05" fill="#4a78c2" stroke="none" stroke-width="0"/>
<circle cx="137.12" cy="341.35" r="1.05" fill="#4a78c2" stroke="none" stroke-width="0"/>
<circle cx="136.43" cy="350.67" r="1.05" fill="#4a78c2" stroke="none" stroke-width="0"/>
<circle cx="133.95" cy="347.34" r="1.05" fill="#4a78c2" stroke="none" stroke-width="0"/>
<circle cx="138.11" cy="345.23" r="1.05" fill="#4a78c2" stroke="none" stroke-width="0"/>
<circle cx="137.70" cy="349.92" r="1.05" fill="#4a78c2" stroke="none" stroke-width="0"/>
<circle cx="135.73" cy="351.50" r="1.05" fill="#4a78c2" stroke="none" stroke-width="0"/>
<circle cx="135.34" cy="342.18" r="1.05" fill="#4a78c2" stroke="none" stroke-width="0"/>
<circle cx="137.03" cy="346.64" r="1.05" fill="#4a78c2" stroke="none" stroke-width="0"/>
<circle cx="137.16" cy="351.17" r="1.05" fill="#4a78c2" stroke="none" stroke-width="0"/>
<circle cx="137.32" cy="347.99" r="1.05" fill="#4a78c2" stroke="none" stroke-width="0"/>
<circle cx="136.64" cy="345.94" r="1.05" fill="#4a78c2" stroke="none" stroke-width="0"/>
<circle cx="137.38" cy="341.43" r="1.05" fill="#4a78c2" stroke="none" stroke-width="0"/>
<circle cx="138.06" cy="343.51" r="1.05" fill="#4a78c2" stroke="none" stroke-width="0"/>
<circle cx="135.93" cy="347.97" r="1.05" fill="#4a78c2" stroke="none" stroke-width="0"/>
<circle cx="135.75" cy="342.38" r="1.05" fill="#4a78c2" stroke="none" stroke-width="0"/>
<circle cx="137.08" cy="347.87" r="1.05" fill="#4a78c2" stroke="none" stroke-width="0"/>
<circle cx="134.88" cy="342.21" r="1.05" fill="#4a78c2" stroke="none" stroke-width="0"/>
<circle cx="136.73" cy="346.66" r="1.05" fill="#4a78c2" stroke="none" stroke-width="0"/>
<circle cx="135.64" cy="345.19" r="1.05" fill="#4a78c2" stroke="none" stroke-width="0"/>
<circle cx="134.28" cy="347.49" r="1.05" fill="#4a78c2" stroke="none" stroke-width="0"/>
<circle cx="136.40" cy="344.26" r="1.05" fill="#4a78c2" stroke="none" stroke-width="0"/>
<circle cx="136.91" cy="351.36" r="1.05" fill="#4a78c2" stroke="none" stroke-width="0"/>
<circle cx="136.43" cy="363.64" r="1.05" fill="#4a78c2" stroke="none" stroke-width="0"/>
<circle cx="135.73" cy="354.95" r="1.05" fill="#4a78c2" stroke="none" stroke-width="0"/>
<circle cx="137.10" cy="364.67" r="1.05" fill="#4a78c2" stroke="none" stroke-width="0"/>
<circle cx="134.44" cy="355.92" r="1.05" fill="#4a78c2" stroke="none" stroke-width="0"/>
<circle cx="137.00" cy="358.48" r="1.05" fill="#4a78c2" stroke="none" stroke-width="0"/>
<circle cx="135.76" cy="357.43" r="1.05" fill="#4a78c2" stroke="none" stroke-width="0"/>
<circle cx="138.09" cy="360.74" r="1.05" fill="#4a78c2" stroke="none" stroke-width="0"/>
<circle cx="134.58" cy="354.84" r="1.05" fill="#4a78c2" stroke="none" stroke-width="0"/>
<circle cx="136.28" cy="356.33" r="1.05" fill="#4a78c2" stroke="none" stroke-width="0"/>
<circle cx="135.54" cy="360.95" r="1.05" fill="#4a78c2" stroke="none" stroke-width="0"/>
<circle cx="137.22" cy="362.48" r="1.05" fill="#4a78c2" stroke="none" stroke-width="0"/>
<circle cx="135.57" cy="358.57" r="1.05" fill="#4a78c2" stroke="none" stroke-width="0"/>
<circle cx="135.95" cy="364.80" r="1.05" fill="#4a78c2" stroke="none" stroke-width="0"/>
<circle cx="135.67" cy="362.79" r="1.05" fill="#4a78c2" stroke="none" stroke-width="0"/>
<line x1="152.40" y1="330.00" x2="152.40" y2="340.10" stroke="#4a78c2" stroke-width="0.7" />
<line x1="152.40" y1="357.70" x2="152.40" y2="371.00" stroke="#4a78c2" stroke-width="0.7" />
<rect x="147.35" y="340.10" width="10.10" height="17.60" fill="none" stroke="#4a78c2" stroke-width="0.7"/>
<line x1="147.35" y1="349.00" x2="157.45" y2="349.00" stroke="#4a78c2" stroke-width="0.7" />
<circle cx="153.06" cy="332.21" r="1.05" fill="#4a78c2" stroke="none" stroke-width="0"/>
<circle cx="154.13" cy="332.95" r="1.05" fill="#4a78c2" stroke="none" stroke-width="0"/>
<circle cx="151.11" cy="334.96" r="1.05" fill="#4a78c2" stroke="none" stroke-width="0"/>
<circle cx="151.96" cy="332.23" r="1.05" fill="#4a78c2" stroke="none" stroke-width="0"/>
<circle cx="154.10" cy="336.65" r="1.05" fill="#4a78c2" stroke="none" stroke-width="0"/>
<circle cx="151.88" cy="331.46" r="1.05" fill="#4a78c2" stroke="none" stroke-width="0"/>
<circle cx="154.36" cy="332.13" r="1.05" fill="#4a78c2" stroke="none" stroke-width="0"/>
<circle cx="150.30" cy="331.42" r="1.05" fill="#4a78c2" stroke="none" stroke-width="0"/>
<circle cx="151.88" cy="330.60" r="1.05" fill="#4a78c2" stroke="none" stroke-width="0"/>
<circle cx="153.65" cy="338.98" r="1.05" fill="#4a78c2" stroke="none" stroke-width="0"/>
<circle cx="154.80" cy="352.97" r="1.05" fill="#4a78c2" stroke="none" stroke-width="0"/>
<circle cx="151.67" cy="356.49" r="1.05" fill="#4a78c2" stroke="none" stroke-width="0"/>
<circle cx="154.00" cy="343.28" r="1.05" fill="#4a78c2" stroke="none" stroke-width="0"/>
<circle cx="150.11" cy="353.21" r="1.05" fill="#4a78c2" stroke="none" stroke-width="0"/>
<circle cx="151.84" cy="351.76" r="1.05" fill="#4a78c2" stroke="none" stroke-width="0"/>
<circle cx="151.68" cy="346.62" r="1.05" fill="#4a78c2" stroke="none" stroke-width="0"/>
<circle cx="149.61" cy="343.00" r="1.05" fill="#4a78c2" stroke="none" stroke-width="0"/>
<circle cx="151.75" cy="344.95" r="1.05" fill="#4a78c2" stroke="none" stroke-width="0"/>
<circle cx="150.79" cy="356.91" r="1.05" fill="#4a78c2" stroke="none" stroke-width="0"/>
<circle cx="151.20" cy="357.07" r="1.05" fill="#4a78c2" stroke="none" stroke-width="0"/>
<circle cx="153.33" cy="346.31" r="1.05" fill="#4a78c2" stroke="none" stroke-width="0"/>
<circle cx="152.00" cy="354.55" r="1.05" fill="#4a78c2" stroke="none" stroke-width="0"/>
<circle cx="152.12" cy="340.87" r="1.05" fill="#4a78c2" stroke="none" stroke-width="0"/>
<circle cx="153.88" cy="346.60" r="1.05" fill="#4a78c2" stroke="none" stroke-width="0"/>
<circle cx="151.79" cy="343.42" r="1.05" fill="#4a78c2" stroke="none" stroke-width="0"/>
<circle cx="150.09" cy="355.88" r="1.05" fill="#4a78c2" stroke="none" stroke-width="0"/>
<circle cx="153.28" cy="347.27" r="1.05" fill="#4a78c2" stroke="none" stroke-width="0"/>
<circle cx="150.20" cy="353.57" r="1.05" fill="#4a78c2" stroke="none" stroke-width="0"/>
<circle cx="150.39" cy="340.62" r="1.05" fill="#4a78c2" stroke="none" stroke-width="0"/>
<circle cx="151.41" cy="356.29" r="1.05" fill="#4a78c2" stroke="none" stroke-width="0"/>
<circle cx="153.74" cy="353.23" r="1.05" fill="#4a78c2" stroke="none" stroke-width="0"/>
<circle cx="151.47" cy="346.00" r="1.05" fill="#4a78c2" stroke="none" stroke-width="0"/>
<circle cx="152.55" cy="370.44" r="1.05" fill="#4a78c2" stroke="none" stroke-width="0"/>
<circle cx="152.89" cy="361.19" r="1.05" fill="#4a78c2" stroke="none" stroke-width="0"/>
<circle cx="151.48" cy="361.91" r="1.05" fill="#4a78c2" stroke="none" stroke-width="0"/>
<circle cx="153.04" cy="357.75" r="1.05" fill="#4a78c2" stroke="none" stroke-width="0"/>
<circle cx="152.60" cy="369.89" r="1.05" fill="#4a78c2" stroke="none" stroke-width="0"/>
<circle cx="150.02" cy="370.25" r="1.05" fill="#4a78c2" stroke="none" stroke-width="0"/>
<circle cx="152.13" cy="360.81" r="1.05" fill="#4a78c2" stroke="none" stroke-width="0"/>
<circle cx="154.15" cy="370.43" r="1.05" fill="#4a78c2" stroke="none" stroke-width="0"/>
<circle cx="151.38" cy="362.84" r="1.05" fill="#4a78c2" stroke="none" stroke-width="0"/>
<circle cx="152.18" cy="363.42" r="1.05" fill="#4a78c2" stroke="none" stroke-width="0"/>
<circle cx="151.09" cy="370.04" r="1.05" fill="#4a78c2" stroke="none" stroke-width="0"/>
<circle cx="152.98" cy="368.37" r="1.05" fill="#4a78c2" stroke="none" stroke-width="0"/>
<circle cx="153.11" cy="368.64" r="1.05" fill="#4a78c2" stroke="none" stroke-width="0"/>
<circle cx="151.67" cy="365.78" r="1.05" fill="#4a78c2" stroke="none" stroke-width="0"/>
<line x1="176.80" y1="317.20" x2="176.80" y2="328.00" stroke="#9a1f8f" stroke-width="0.7" />
<line x1="176.80" y1="343.20" x2="176.80" y2="367.40" stroke="#9a1f8f" stroke-width="0.7" />
<rect x="172.35" y="328.00" width="8.90" height="15.20" fill="none" stroke="#9a1f8f" stroke-width="0.7"/>
<line x1="172.35" y1="335.50" x2="181.25" y2="335.50" stroke="#9a1f8f" stroke-width="0.7" />
<circle cx="176.52" cy="320.65" r="1.05" fill="#9a1f8f" stroke="none" stroke-width="0"/>
<circle cx="175.07" cy="325.65" r="1.05" fill="#9a1f8f" stroke="none" stroke-width="0"/>
<circle cx="177.95" cy="319.33" r="1.05" fill="#9a1f8f" stroke="none" stroke-width="0"/>
<circle cx="174.95" cy="319.87" r="1.05" fill="#9a1f8f" stroke="none" stroke-width="0"/>
<circle cx="177.17" cy="317.57" r="1.05" fill="#9a1f8f" stroke="none" stroke-width="0"/>
<circle cx="179.56" cy="320.72" r="1.05" fill="#9a1f8f" stroke="none" stroke-width="0"/>
<circle cx="179.70" cy="326.74" r="1.05" fill="#9a1f8f" stroke="none" stroke-width="0"/>
<circle cx="175.11" cy="320.06" r="1.05" fill="#9a1f8f" stroke="none" stroke-width="0"/>
<circle cx="177.00" cy="318.24" r="1.05" fill="#9a1f8f" stroke="none" stroke-width="0"/>
<circle cx="176.83" cy="324.87" r="1.05" fill="#9a1f8f" stroke="none" stroke-width="0"/>
<circle cx="176.72" cy="319.73" r="1.05" fill="#9a1f8f" stroke="none" stroke-width="0"/>
<circle cx="177.62" cy="323.90" r="1.05" fill="#9a1f8f" stroke="none" stroke-width="0"/>
<circle cx="178.43" cy="325.28" r="1.05" fill="#9a1f8f" stroke="none" stroke-width="0"/>
<circle cx="175.38" cy="324.38" r="1.05" fill="#9a1f8f" stroke="none" stroke-width="0"/>
<circle cx="176.25" cy="326.28" r="1.05" fill="#9a1f8f" stroke="none" stroke-width="0"/>
<circle cx="176.56" cy="323.32" r="1.05" fill="#9a1f8f" stroke="none" stroke-width="0"/>
<circle cx="175.82" cy="325.17" r="1.05" fill="#9a1f8f" stroke="none" stroke-width="0"/>
<circle cx="176.04" cy="319.87" r="1.05" fill="#9a1f8f" stroke="none" stroke-width="0"/>
<circle cx="178.66" cy="318.86" r="1.05" fill="#9a1f8f" stroke="none" stroke-width="0"/>
<circle cx="176.39" cy="323.45" r="1.05" fill="#9a1f8f" stroke="none" stroke-width="0"/>
<circle cx="179.81" cy="321.48" r="1.05" fill="#9a1f8f" stroke="none" stroke-width="0"/>
<circle cx="175.98" cy="322.68" r="1.05" fill="#9a1f8f" stroke="none" stroke-width="0"/>
<circle cx="177.54" cy="325.93" r="1.05" fill="#9a1f8f" stroke="none" stroke-width="0"/>
<circle cx="175.25" cy="327.90" r="1.05" fill="#9a1f8f" stroke="none" stroke-width="0"/>
<circle cx="178.28" cy="322.33" r="1.05" fill="#9a1f8f" stroke="none" stroke-width="0"/>
<circle cx="178.88" cy="340.78" r="1.05" fill="#9a1f8f" stroke="none" stroke-width="0"/>
<circle cx="176.25" cy="328.61" r="1.05" fill="#9a1f8f" stroke="none" stroke-width="0"/>
<circle cx="175.77" cy="329.81" r="1.05" fill="#9a1f8f" stroke="none" stroke-width="0"/>
<circle cx="177.28" cy="342.79" r="1.05" fill="#9a1f8f" stroke="none" stroke-width="0"/>
<circle cx="176.56" cy="342.14" r="1.05" fill="#9a1f8f" stroke="none" stroke-width="0"/>
<circle cx="176.83" cy="341.17" r="1.05" fill="#9a1f8f" stroke="none" stroke-width="0"/>
<circle cx="178.07" cy="331.95" r="1.05" fill="#9a1f8f" stroke="none" stroke-width="0"/>
<circle cx="175.27" cy="342.37" r="1.05" fill="#9a1f8f" stroke="none" stroke-width="0"/>
<circle cx="177.41" cy="337.06" r="1.05" fill="#9a1f8f" stroke="none" stroke-width="0"/>
<circle cx="176.55" cy="331.31" r="1.05" fill="#9a1f8f" stroke="none" stroke-width="0"/>
<circle cx="175.84" cy="330.15" r="1.05" fill="#9a1f8f" stroke="none" stroke-width="0"/>
<circle cx="177.34" cy="331.87" r="1.05" fill="#9a1f8f" stroke="none" stroke-width="0"/>
<circle cx="175.84" cy="337.90" r="1.05" fill="#9a1f8f" stroke="none" stroke-width="0"/>
<circle cx="176.39" cy="328.17" r="1.05" fill="#9a1f8f" stroke="none" stroke-width="0"/>
<circle cx="175.75" cy="338.31" r="1.05" fill="#9a1f8f" stroke="none" stroke-width="0"/>
<circle cx="175.84" cy="332.75" r="1.05" fill="#9a1f8f" stroke="none" stroke-width="0"/>
<circle cx="177.16" cy="340.09" r="1.05" fill="#9a1f8f" stroke="none" stroke-width="0"/>
<circle cx="175.24" cy="328.96" r="1.05" fill="#9a1f8f" stroke="none" stroke-width="0"/>
<circle cx="177.16" cy="334.01" r="1.05" fill="#9a1f8f" stroke="none" stroke-width="0"/>
<circle cx="175.17" cy="337.72" r="1.05" fill="#9a1f8f" stroke="none" stroke-width="0"/>
<circle cx="177.70" cy="330.49" r="1.05" fill="#9a1f8f" stroke="none" stroke-width="0"/>
<circle cx="176.21" cy="334.23" r="1.05" fill="#9a1f8f" stroke="none" stroke-width="0"/>
<circle cx="179.22" cy="332.68" r="1.05" fill="#9a1f8f" stroke="none" stroke-width="0"/>
<circle cx="177.22" cy="332.75" r="1.05" fill="#9a1f8f" stroke="none" stroke-width="0"/>
<circle cx="176.72" cy="333.43" r="1.05" fill="#9a1f8f" stroke="none" stroke-width="0"/>
<circle cx="179.94" cy="341.14" r="1.05" fill="#9a1f8f" stroke="none" stroke-width="0"/>
<circle cx="175.81" cy="333.53" r="1.05" fill="#9a1f8f" stroke="none" stroke-width="0"/>
<circle cx="175.84" cy="339.07" r="1.05" fill="#9a1f8f" stroke="none" stroke-width="0"/>
<circle cx="178.78" cy="328.09" r="1.05" fill="#9a1f8f" stroke="none" stroke-width="0"/>
<circle cx="178.28" cy="334.44" r="1.05" fill="#9a1f8f" stroke="none" stroke-width="0"/>
<circle cx="178.65" cy="334.17" r="1.05" fill="#9a1f8f" stroke="none" stroke-width="0"/>
<circle cx="175.62" cy="335.01" r="1.05" fill="#9a1f8f" stroke="none" stroke-width="0"/>
<circle cx="177.17" cy="328.23" r="1.05" fill="#9a1f8f" stroke="none" stroke-width="0"/>
<circle cx="178.84" cy="337.74" r="1.05" fill="#9a1f8f" stroke="none" stroke-width="0"/>
<circle cx="177.42" cy="329.35" r="1.05" fill="#9a1f8f" stroke="none" stroke-width="0"/>
<circle cx="177.01" cy="333.64" r="1.05" fill="#9a1f8f" stroke="none" stroke-width="0"/>
<circle cx="176.21" cy="330.22" r="1.05" fill="#9a1f8f" stroke="none" stroke-width="0"/>
<circle cx="178.96" cy="335.92" r="1.05" fill="#9a1f8f" stroke="none" stroke-width="0"/>
<circle cx="176.97" cy="329.65" r="1.05" fill="#9a1f8f" stroke="none" stroke-width="0"/>
<circle cx="179.38" cy="340.23" r="1.05" fill="#9a1f8f" stroke="none" stroke-width="0"/>
<circle cx="175.41" cy="331.00" r="1.05" fill="#9a1f8f" stroke="none" stroke-width="0"/>
<circle cx="179.49" cy="342.33" r="1.05" fill="#9a1f8f" stroke="none" stroke-width="0"/>
<circle cx="174.85" cy="335.34" r="1.05" fill="#9a1f8f" stroke="none" stroke-width="0"/>
<circle cx="176.62" cy="342.08" r="1.05" fill="#9a1f8f" stroke="none" stroke-width="0"/>
<circle cx="177.41" cy="341.74" r="1.05" fill="#9a1f8f" stroke="none" stroke-width="0"/>
<circle cx="175.61" cy="340.53" r="1.05" fill="#9a1f8f" stroke="none" stroke-width="0"/>
<circle cx="175.93" cy="339.94" r="1.05" fill="#9a1f8f" stroke="none" stroke-width="0"/>
<circle cx="178.43" cy="334.15" r="1.05" fill="#9a1f8f" stroke="none" stroke-width="0"/>
<circle cx="175.74" cy="340.60" r="1.05" fill="#9a1f8f" stroke="none" stroke-width="0"/>
<circle cx="176.66" cy="331.32" r="1.05" fill="#9a1f8f" stroke="none" stroke-width="0"/>
<circle cx="176.60" cy="335.87" r="1.05" fill="#9a1f8f" stroke="none" stroke-width="0"/>
<circle cx="176.05" cy="329.87" r="1.05" fill="#9a1f8f" stroke="none" stroke-width="0"/>
<circle cx="178.75" cy="339.02" r="1.05" fill="#9a1f8f" stroke="none" stroke-width="0"/>
<circle cx="177.21" cy="328.62" r="1.05" fill="#9a1f8f" stroke="none" stroke-width="0"/>
<circle cx="174.68" cy="339.51" r="1.05" fill="#9a1f8f" stroke="none" stroke-width="0"/>
<circle cx="175.35" cy="340.74" r="1.05" fill="#9a1f8f" stroke="none" stroke-width="0"/>
<circle cx="177.16" cy="337.11" r="1.05" fill="#9a1f8f" stroke="none" stroke-width="0"/>
<circle cx="176.30" cy="337.53" r="1.05" fill="#9a1f8f" stroke="none" stroke-width="0"/>
<circle cx="177.28" cy="334.39" r="1.05" fill="#9a1f8f" stroke="none" stroke-width="0"/>
<circle cx="177.56" cy="334.47" r="1.05" fill="#9a1f8f" stroke="none" stroke-width="0"/>
<circle cx="176.80" cy="354.01" r="1.05" fill="#9a1f8f" stroke="none" stroke-width="0"/>
<circle cx="177.41" cy="343.77" r="1.05" fill="#9a1f8f" stroke="none" stroke-width="0"/>
<circle cx="175.99" cy="355.05" r="1.05" fill="#9a1f8f" stroke="none" stroke-width="0"/>
<circle cx="178.08" cy="361.68" r="1.05" fill="#9a1f8f" stroke="none" stroke-width="0"/>
<circle cx="175.72" cy="354.29" r="1.05" fill="#9a1f8f" stroke="none" stroke-width="0"/>
<circle cx="175.28" cy="354.65" r="1.05" fill="#9a1f8f" stroke="none" stroke-width="0"/>
<circle cx="176.77" cy="346.31" r="1.05" fill="#9a1f8f" stroke="none" stroke-width="0"/>
<circle cx="176.81" cy="345.42" r="1.05" fill="#9a1f8f" stroke="none" stroke-width="0"/>
<circle cx="174.71" cy="355.55" r="1.05" fill="#9a1f8f" stroke="none" stroke-width="0"/>
<circle cx="175.10" cy="358.60" r="1.05" fill="#9a1f8f" stroke="none" stroke-width="0"/>
<circle cx="178.07" cy="360.95" r="1.05" fill="#9a1f8f" stroke="none" stroke-width="0"/>
<circle cx="174.85" cy="355.58" r="1.05" fill="#9a1f8f" stroke="none" stroke-width="0"/>
<circle cx="176.58" cy="355.39" r="1.05" fill="#9a1f8f" stroke="none" stroke-width="0"/>
<circle cx="175.47" cy="366.21" r="1.05" fill="#9a1f8f" stroke="none" stroke-width="0"/>
<circle cx="179.92" cy="363.94" r="1.05" fill="#9a1f8f" stroke="none" stroke-width="0"/>
<circle cx="178.25" cy="360.92" r="1.05" fill="#9a1f8f" stroke="none" stroke-width="0"/>
<circle cx="179.59" cy="347.89" r="1.05" fill="#9a1f8f" stroke="none" stroke-width="0"/>
<circle cx="179.26" cy="355.10" r="1.05" fill="#9a1f8f" stroke="none" stroke-width="0"/>
<circle cx="175.64" cy="365.37" r="1.05" fill="#9a1f8f" stroke="none" stroke-width="0"/>
<circle cx="179.01" cy="362.28" r="1.05" fill="#9a1f8f" stroke="none" stroke-width="0"/>
<circle cx="176.48" cy="344.79" r="1.05" fill="#9a1f8f" stroke="none" stroke-width="0"/>
<circle cx="175.60" cy="361.50" r="1.05" fill="#9a1f8f" stroke="none" stroke-width="0"/>
<circle cx="176.17" cy="364.90" r="1.05" fill="#9a1f8f" stroke="none" stroke-width="0"/>
<circle cx="175.51" cy="362.94" r="1.05" fill="#9a1f8f" stroke="none" stroke-width="0"/>
<circle cx="178.92" cy="355.35" r="1.05" fill="#9a1f8f" stroke="none" stroke-width="0"/>
<circle cx="176.12" cy="348.24" r="1.05" fill="#9a1f8f" stroke="none" stroke-width="0"/>
<circle cx="176.36" cy="355.45" r="1.05" fill="#9a1f8f" stroke="none" stroke-width="0"/>
<circle cx="175.73" cy="344.09" r="1.05" fill="#9a1f8f" stroke="none" stroke-width="0"/>
<circle cx="179.06" cy="347.10" r="1.05" fill="#9a1f8f" stroke="none" stroke-width="0"/>
<circle cx="178.74" cy="359.65" r="1.05" fill="#9a1f8f" stroke="none" stroke-width="0"/>
<circle cx="178.10" cy="347.28" r="1.05" fill="#9a1f8f" stroke="none" stroke-width="0"/>
<circle cx="177.10" cy="345.98" r="1.05" fill="#9a1f8f" stroke="none" stroke-width="0"/>
<circle cx="176.51" cy="358.60" r="1.05" fill="#9a1f8f" stroke="none" stroke-width="0"/>
<circle cx="177.18" cy="364.33" r="1.05" fill="#9a1f8f" stroke="none" stroke-width="0"/>
<circle cx="178.65" cy="357.24" r="1.05" fill="#9a1f8f" stroke="none" stroke-width="0"/>
<circle cx="179.82" cy="345.73" r="1.05" fill="#9a1f8f" stroke="none" stroke-width="0"/>
<circle cx="176.64" cy="358.44" r="1.05" fill="#9a1f8f" stroke="none" stroke-width="0"/>
<circle cx="176.13" cy="362.50" r="1.05" fill="#9a1f8f" stroke="none" stroke-width="0"/>
<circle cx="177.26" cy="367.17" r="1.05" fill="#9a1f8f" stroke="none" stroke-width="0"/>
<circle cx="178.00" cy="351.92" r="1.05" fill="#9a1f8f" stroke="none" stroke-width="0"/>
<line x1="192.50" y1="319.00" x2="192.50" y2="340.50" stroke="#9a1f8f" stroke-width="0.7" />
<line x1="192.50" y1="367.40" x2="192.50" y2="380.00" stroke="#9a1f8f" stroke-width="0.7" />
<rect x="187.55" y="340.50" width="9.90" height="26.90" fill="none" stroke="#9a1f8f" stroke-width="0.7"/>
<line x1="187.55" y1="353.50" x2="197.45" y2="353.50" stroke="#9a1f8f" stroke-width="0.7" />
<circle cx="191.16" cy="328.51" r="1.05" fill="#9a1f8f" stroke="none" stroke-width="0"/>
<circle cx="190.23" cy="334.99" r="1.05" fill="#9a1f8f" stroke="none" stroke-width="0"/>
<circle cx="191.55" cy="336.63" r="1.05" fill="#9a1f8f" stroke="none" stroke-width="0"/>
<circle cx="195.21" cy="332.74" r="1.05" fill="#9a1f8f" stroke="none" stroke-width="0"/>
<circle cx="193.09" cy="331.60" r="1.05" fill="#9a1f8f" stroke="none" stroke-width="0"/>
<circle cx="189.40" cy="325.72" r="1.05" fill="#9a1f8f" stroke="none" stroke-width="0"/>
<circle cx="191.00" cy="319.73" r="1.05" fill="#9a1f8f" stroke="none" stroke-width="0"/>
<circle cx="192.27" cy="332.25" r="1.05" fill="#9a1f8f" stroke="none" stroke-width="0"/>
<circle cx="194.29" cy="330.02" r="1.05" fill="#9a1f8f" stroke="none" stroke-width="0"/>
<circle cx="191.42" cy="321.84" r="1.05" fill="#9a1f8f" stroke="none" stroke-width="0"/>
<circle cx="189.90" cy="333.04" r="1.05" fill="#9a1f8f" stroke="none" stroke-width="0"/>
<circle cx="191.98" cy="319.06" r="1.05" fill="#9a1f8f" stroke="none" stroke-width="0"/>
<circle cx="191.99" cy="321.29" r="1.05" fill="#9a1f8f" stroke="none" stroke-width="0"/>
<circle cx="192.79" cy="323.82" r="1.05" fill="#9a1f8f" stroke="none" stroke-width="0"/>
<circle cx="191.31" cy="331.67" r="1.05" fill="#9a1f8f" stroke="none" stroke-width="0"/>
<circle cx="192.42" cy="332.41" r="1.05" fill="#9a1f8f" stroke="none" stroke-width="0"/>
<circle cx="194.62" cy="321.90" r="1.05" fill="#9a1f8f" stroke="none" stroke-width="0"/>
<circle cx="191.00" cy="324.24" r="1.05" fill="#9a1f8f" stroke="none" stroke-width="0"/>
<circle cx="192.99" cy="321.06" r="1.05" fill="#9a1f8f" stroke="none" stroke-width="0"/>
<circle cx="193.62" cy="337.73" r="1.05" fill="#9a1f8f" stroke="none" stroke-width="0"/>
<circle cx="191.60" cy="327.64" r="1.05" fill="#9a1f8f" stroke="none" stroke-width="0"/>
<circle cx="193.02" cy="319.25" r="1.05" fill="#9a1f8f" stroke="none" stroke-width="0"/>
<circle cx="191.96" cy="331.09" r="1.05" fill="#9a1f8f" stroke="none" stroke-width="0"/>
<circle cx="192.31" cy="332.88" r="1.05" fill="#9a1f8f" stroke="none" stroke-width="0"/>
<circle cx="193.39" cy="339.15" r="1.05" fill="#9a1f8f" stroke="none" stroke-width="0"/>
<circle cx="194.35" cy="324.34" r="1.05" fill="#9a1f8f" stroke="none" stroke-width="0"/>
<circle cx="192.61" cy="319.95" r="1.05" fill="#9a1f8f" stroke="none" stroke-width="0"/>
<circle cx="191.48" cy="327.73" r="1.05" fill="#9a1f8f" stroke="none" stroke-width="0"/>
<circle cx="193.61" cy="320.26" r="1.05" fill="#9a1f8f" stroke="none" stroke-width="0"/>
<circle cx="192.67" cy="319.27" r="1.05" fill="#9a1f8f" stroke="none" stroke-width="0"/>
<circle cx="190.96" cy="365.81" r="1.05" fill="#9a1f8f" stroke="none" stroke-width="0"/>
<circle cx="192.88" cy="345.87" r="1.05" fill="#9a1f8f" stroke="none" stroke-width="0"/>
<circle cx="193.01" cy="354.14" r="1.05" fill="#9a1f8f" stroke="none" stroke-width="0"/>
<circle cx="191.15" cy="362.38" r="1.05" fill="#9a1f8f" stroke="none" stroke-width="0"/>
<circle cx="191.76" cy="348.82" r="1.05" fill="#9a1f8f" stroke="none" stroke-width="0"/>
<circle cx="194.25" cy="341.80" r="1.05" fill="#9a1f8f" stroke="none" stroke-width="0"/>
<circle cx="193.31" cy="361.56" r="1.05" fill="#9a1f8f" stroke="none" stroke-width="0"/>
<circle cx="193.96" cy="340.67" r="1.05" fill="#9a1f8f" stroke="none" stroke-width="0"/>
<circle cx="192.38" cy="360.55" r="1.05" fill="#9a1f8f" stroke="none" stroke-width="0"/>
<circle cx="192.34" cy="360.45" r="1.05" fill="#9a1f8f" stroke="none" stroke-width="0"/>
<circle cx="190.71" cy="346.58" r="1.05" fill="#9a1f8f" stroke="none" stroke-width="0"/>
<circle cx="190.12" cy="346.75" r="1.05" fill="#9a1f8f" stroke="none" stroke-width="0"/>
<circle cx="193.46" cy="349.53" r="1.05" fill="#9a1f8f" stroke="none" stroke-width="0"/>
<circle cx="193.96" cy="359.20" r="1.05" fill="#9a1f8f" stroke="none" stroke-width="0"/>
<circle cx="191.61" cy="359.64" r="1.05" fill="#9a1f8f" stroke="none" stroke-width="0"/>
<circle cx="192.28" cy="355.40" r="1.05" fill="#9a1f8f" stroke="none" stroke-width="0"/>
<circle cx="192.58" cy="361.71" r="1.05" fill="#9a1f8f" stroke="none" stroke-width="0"/>
<circle cx="193.01" cy="347.64" r="1.05" fill="#9a1f8f" stroke="none" stroke-width="0"/>
<circle cx="191.37" cy="366.46" r="1.05" fill="#9a1f8f" stroke="none" stroke-width="0"/>
<circle cx="189.78" cy="364.17" r="1.05" fill="#9a1f8f" stroke="none" stroke-width="0"/>
<circle cx="191.47" cy="347.50" r="1.05" fill="#9a1f8f" stroke="none" stroke-width="0"/>
<circle cx="194.70" cy="360.51" r="1.05" fill="#9a1f8f" stroke="none" stroke-width="0"/>
<circle cx="191.87" cy="360.57" r="1.05" fill="#9a1f8f" stroke="none" stroke-width="0"/>
<circle cx="191.88" cy="364.18" r="1.05" fill="#9a1f8f" stroke="none" stroke-width="0"/>
<circle cx="194.38" cy="346.93" r="1.05" fill="#9a1f8f" stroke="none" stroke-width="0"/>
<circle cx="193.21" cy="357.47" r="1.05" fill="#9a1f8f" stroke="none" stroke-width="0"/>
<circle cx="195.12" cy="358.39" r="1.05" fill="#9a1f8f" stroke="none" stroke-width="0"/>
<circle cx="193.93" cy="353.13" r="1.05" fill="#9a1f8f" stroke="none" stroke-width="0"/>
<circle cx="194.04" cy="359.27" r="1.05" fill="#9a1f8f" stroke="none" stroke-width="0"/>
<circle cx="193.35" cy="352.26" r="1.05" fill="#9a1f8f" stroke="none" stroke-width="0"/>
<circle cx="191.79" cy="355.84" r="1.05" fill="#9a1f8f" stroke="none" stroke-width="0"/>
<circle cx="192.93" cy="346.20" r="1.05" fill="#9a1f8f" stroke="none" stroke-width="0"/>
<circle cx="194.41" cy="342.59" r="1.05" fill="#9a1f8f" stroke="none" stroke-width="0"/>
<circle cx="189.97" cy="344.39" r="1.05" fill="#9a1f8f" stroke="none" stroke-width="0"/>
<circle cx="194.56" cy="343.37" r="1.05" fill="#9a1f8f" stroke="none" stroke-width="0"/>
<circle cx="190.96" cy="349.78" r="1.05" fill="#9a1f8f" stroke="none" stroke-width="0"/>
<circle cx="190.15" cy="341.27" r="1.05" fill="#9a1f8f" stroke="none" stroke-width="0"/>
<circle cx="192.98" cy="359.13" r="1.05" fill="#9a1f8f" stroke="none" stroke-width="0"/>
<circle cx="193.41" cy="359.25" r="1.05" fill="#9a1f8f" stroke="none" stroke-width="0"/>
<circle cx="192.81" cy="342.27" r="1.05" fill="#9a1f8f" stroke="none" stroke-width="0"/>
<circle cx="193.81" cy="350.28" r="1.05" fill="#9a1f8f" stroke="none" stroke-width="0"/>
<circle cx="194.26" cy="362.55" r="1.05" fill="#9a1f8f" stroke="none" stroke-width="0"/>
<circle cx="194.10" cy="342.27" r="1.05" fill="#9a1f8f" stroke="none" stroke-width="0"/>
<circle cx="194.70" cy="365.10" r="1.05" fill="#9a1f8f" stroke="none" stroke-width="0"/>
<circle cx="191.32" cy="343.38" r="1.05" fill="#9a1f8f" stroke="none" stroke-width="0"/>
<circle cx="190.07" cy="343.51" r="1.05" fill="#9a1f8f" stroke="none" stroke-width="0"/>
<circle cx="193.78" cy="363.30" r="1.05" fill="#9a1f8f" stroke="none" stroke-width="0"/>
<circle cx="193.85" cy="357.56" r="1.05" fill="#9a1f8f" stroke="none" stroke-width="0"/>
<circle cx="191.70" cy="357.49" r="1.05" fill="#9a1f8f" stroke="none" stroke-width="0"/>
<circle cx="190.66" cy="343.19" r="1.05" fill="#9a1f8f" stroke="none" stroke-width="0"/>
<circle cx="191.31" cy="360.87" r="1.05" fill="#9a1f8f" stroke="none" stroke-width="0"/>
<circle cx="192.24" cy="349.08" r="1.05" fill="#9a1f8f" stroke="none" stroke-width="0"/>
<circle cx="191.56" cy="341.06" r="1.05" fill="#9a1f8f" stroke="none" stroke-width="0"/>
<circle cx="193.31" cy="348.10" r="1.05" fill="#9a1f8f" stroke="none" stroke-width="0"/>
<circle cx="191.84" cy="350.40" r="1.05" fill="#9a1f8f" stroke="none" stroke-width="0"/>
<circle cx="192.51" cy="366.43" r="1.05" fill="#9a1f8f" stroke="none" stroke-width="0"/>
<circle cx="192.92" cy="363.40" r="1.05" fill="#9a1f8f" stroke="none" stroke-width="0"/>
<circle cx="192.20" cy="341.33" r="1.05" fill="#9a1f8f" stroke="none" stroke-width="0"/>
<circle cx="193.58" cy="352.24" r="1.05" fill="#9a1f8f" stroke="none" stroke-width="0"/>
<circle cx="193.26" cy="349.83" r="1.05" fill="#9a1f8f" stroke="none" stroke-width="0"/>
<circle cx="191.37" cy="354.97" r="1.05" fill="#9a1f8f" stroke="none" stroke-width="0"/>
<circle cx="190.61" cy="363.69" r="1.05" fill="#9a1f8f" stroke="none" stroke-width="0"/>
<circle cx="191.13" cy="362.55" r="1.05" fill="#9a1f8f" stroke="none" stroke-width="0"/>
<circle cx="191.30" cy="340.53" r="1.05" fill="#9a1f8f" stroke="none" stroke-width="0"/>
<circle cx="195.11" cy="361.00" r="1.05" fill="#9a1f8f" stroke="none" stroke-width="0"/>
<circle cx="192.47" cy="340.62" r="1.05" fill="#9a1f8f" stroke="none" stroke-width="0"/>
<circle cx="193.70" cy="353.72" r="1.05" fill="#9a1f8f" stroke="none" stroke-width="0"/>
<circle cx="192.48" cy="345.46" r="1.05" fill="#9a1f8f" stroke="none" stroke-width="0"/>
<circle cx="193.89" cy="349.84" r="1.05" fill="#9a1f8f" stroke="none" stroke-width="0"/>
<circle cx="194.69" cy="347.51" r="1.05" fill="#9a1f8f" stroke="none" stroke-width="0"/>
<circle cx="191.36" cy="348.13" r="1.05" fill="#9a1f8f" stroke="none" stroke-width="0"/>
<circle cx="192.49" cy="359.32" r="1.05" fill="#9a1f8f" stroke="none" stroke-width="0"/>
<circle cx="192.99" cy="343.46" r="1.05" fill="#9a1f8f" stroke="none" stroke-width="0"/>
<circle cx="193.65" cy="342.68" r="1.05" fill="#9a1f8f" stroke="none" stroke-width="0"/>
<circle cx="193.65" cy="359.25" r="1.05" fill="#9a1f8f" stroke="none" stroke-width="0"/>
<circle cx="191.98" cy="357.39" r="1.05" fill="#9a1f8f" stroke="none" stroke-width="0"/>
<circle cx="192.13" cy="351.29" r="1.05" fill="#9a1f8f" stroke="none" stroke-width="0"/>
<circle cx="190.57" cy="364.45" r="1.05" fill="#9a1f8f" stroke="none" stroke-width="0"/>
<circle cx="189.94" cy="364.40" r="1.05" fill="#9a1f8f" stroke="none" stroke-width="0"/>
<circle cx="191.59" cy="346.04" r="1.05" fill="#9a1f8f" stroke="none" stroke-width="0"/>
<circle cx="192.50" cy="379.21" r="1.05" fill="#9a1f8f" stroke="none" stroke-width="0"/>
<circle cx="194.21" cy="372.37" r="1.05" fill="#9a1f8f" stroke="none" stroke-width="0"/>
<circle cx="192.37" cy="370.46" r="1.05" fill="#9a1f8f" stroke="none" stroke-width="0"/>
<circle cx="193.49" cy="374.36" r="1.05" fill="#9a1f8f" stroke="none" stroke-width="0"/>
<circle cx="193.02" cy="377.26" r="1.05" fill="#9a1f8f" stroke="none" stroke-width="0"/>
<circle cx="191.87" cy="371.97" r="1.05" fill="#9a1f8f" stroke="none" stroke-width="0"/>
<circle cx="193.95" cy="369.43" r="1.05" fill="#9a1f8f" stroke="none" stroke-width="0"/>
<circle cx="193.43" cy="376.07" r="1.05" fill="#9a1f8f" stroke="none" stroke-width="0"/>
<circle cx="192.29" cy="369.62" r="1.05" fill="#9a1f8f" stroke="none" stroke-width="0"/>
<circle cx="192.77" cy="377.53" r="1.05" fill="#9a1f8f" stroke="none" stroke-width="0"/>
<circle cx="192.37" cy="369.05" r="1.05" fill="#9a1f8f" stroke="none" stroke-width="0"/>
<circle cx="191.48" cy="379.00" r="1.05" fill="#9a1f8f" stroke="none" stroke-width="0"/>
<circle cx="191.76" cy="369.91" r="1.05" fill="#9a1f8f" stroke="none" stroke-width="0"/>
<circle cx="193.95" cy="376.61" r="1.05" fill="#9a1f8f" stroke="none" stroke-width="0"/>
<circle cx="191.04" cy="369.43" r="1.05" fill="#9a1f8f" stroke="none" stroke-width="0"/>
<circle cx="191.87" cy="370.64" r="1.05" fill="#9a1f8f" stroke="none" stroke-width="0"/>
<circle cx="191.07" cy="374.24" r="1.05" fill="#9a1f8f" stroke="none" stroke-width="0"/>
<circle cx="191.23" cy="371.70" r="1.05" fill="#9a1f8f" stroke="none" stroke-width="0"/>
<circle cx="193.37" cy="380.17" r="1.05" fill="#9a1f8f" stroke="none" stroke-width="0"/>
<circle cx="194.89" cy="368.73" r="1.05" fill="#9a1f8f" stroke="none" stroke-width="0"/>
<circle cx="192.09" cy="368.73" r="1.05" fill="#9a1f8f" stroke="none" stroke-width="0"/>
<circle cx="193.69" cy="380.29" r="1.05" fill="#9a1f8f" stroke="none" stroke-width="0"/>
<circle cx="192.28" cy="377.01" r="1.05" fill="#9a1f8f" stroke="none" stroke-width="0"/>
<circle cx="192.99" cy="369.97" r="1.05" fill="#9a1f8f" stroke="none" stroke-width="0"/>
<circle cx="191.32" cy="368.80" r="1.05" fill="#9a1f8f" stroke="none" stroke-width="0"/>
<circle cx="190.06" cy="372.49" r="1.05" fill="#9a1f8f" stroke="none" stroke-width="0"/>
<circle cx="193.67" cy="372.63" r="1.05" fill="#9a1f8f" stroke="none" stroke-width="0"/>
<circle cx="192.50" cy="376.48" r="1.05" fill="#9a1f8f" stroke="none" stroke-width="0"/>
<circle cx="192.38" cy="375.68" r="1.05" fill="#9a1f8f" stroke="none" stroke-width="0"/>
<circle cx="192.86" cy="369.26" r="1.05" fill="#9a1f8f" stroke="none" stroke-width="0"/>
<line x1="217.60" y1="362.50" x2="217.60" y2="371.30" stroke="#777" stroke-width="0.7" />
<line x1="217.60" y1="378.70" x2="217.60" y2="379.50" stroke="#777" stroke-width="0.7" />
<rect x="212.60" y="371.30" width="10.00" height="7.40" fill="none" stroke="#777" stroke-width="0.7"/>
<line x1="212.60" y1="374.50" x2="222.60" y2="374.50" stroke="#777" stroke-width="0.7" />
<circle cx="217.20" cy="362.20" r="0.90" fill="#444" stroke="none" stroke-width="0"/>
<circle cx="219.50" cy="371.00" r="0.90" fill="#444" stroke="none" stroke-width="0"/>
<circle cx="216.50" cy="379.30" r="0.90" fill="#444" stroke="none" stroke-width="0"/>
<line x1="232.90" y1="369.20" x2="232.90" y2="369.20" stroke="#777" stroke-width="0.7" />
<line x1="232.90" y1="381.80" x2="232.90" y2="381.80" stroke="#777" stroke-width="0.7" />
<rect x="227.90" y="369.20" width="10.00" height="12.60" fill="none" stroke="#777" stroke-width="0.7"/>
<line x1="227.90" y1="377.00" x2="237.90" y2="377.00" stroke="#777" stroke-width="0.7" />
<circle cx="232.90" cy="369.30" r="0.80" fill="#444" stroke="none" stroke-width="0"/>
<circle cx="232.50" cy="381.70" r="0.80" fill="#444" stroke="none" stroke-width="0"/>
<line x1="95.90" y1="315.80" x2="110.90" y2="315.80" stroke="#333" stroke-width="1.0" />
<line x1="95.90" y1="315.60" x2="95.90" y2="317.00" stroke="#333" stroke-width="0.7" />
<line x1="110.90" y1="315.60" x2="110.90" y2="317.00" stroke="#333" stroke-width="0.7" />
<text x="103.40" y="315.20" font-size="5.4" text-anchor="middle" fill="#444" stroke="#444" stroke-width="0.14" >*</text>
<line x1="176.60" y1="312.90" x2="192.10" y2="312.90" stroke="#333" stroke-width="1.0" />
<line x1="176.60" y1="312.70" x2="176.60" y2="314.10" stroke="#333" stroke-width="0.7" />
<line x1="192.10" y1="312.70" x2="192.10" y2="314.10" stroke="#333" stroke-width="0.7" />
<text x="184.35" y="312.30" font-size="5.4" text-anchor="middle" fill="#444" stroke="#444" stroke-width="0.14" >*</text>
<text x="274.90" y="381.80" font-size="7.0" textLength="64.40" lengthAdjust="spacingAndGlyphs" fill="#383838" stroke="#383838" stroke-width="0.16" transform="rotate(-90 274.90 381.80)" >No. of CD34+ output</text>
<line x1="296.30" y1="315.20" x2="296.30" y2="384.90" stroke="#000" stroke-width="1.3" />
<line x1="293.70" y1="383.90" x2="296.30" y2="383.90" stroke="#000" stroke-width="0.9" />
<line x1="293.70" y1="382.05" x2="296.30" y2="382.05" stroke="#000" stroke-width="0.9" />
<line x1="293.70" y1="380.54" x2="296.30" y2="380.54" stroke="#000" stroke-width="0.9" />
<line x1="293.70" y1="379.26" x2="296.30" y2="379.26" stroke="#000" stroke-width="0.9" />
<line x1="293.70" y1="378.15" x2="296.30" y2="378.15" stroke="#000" stroke-width="0.9" />
<line x1="293.70" y1="377.17" x2="296.30" y2="377.17" stroke="#000" stroke-width="0.9" />
<line x1="293.10" y1="376.30" x2="296.30" y2="376.30" stroke="#111" stroke-width="0.9" />
<line x1="293.70" y1="370.55" x2="296.30" y2="370.55" stroke="#000" stroke-width="0.9" />
<line x1="293.70" y1="367.19" x2="296.30" y2="367.19" stroke="#000" stroke-width="0.9" />
<line x1="293.70" y1="364.80" x2="296.30" y2="364.80" stroke="#000" stroke-width="0.9" />
<line x1="293.70" y1="362.95" x2="296.30" y2="362.95" stroke="#000" stroke-width="0.9" />
<line x1="293.70" y1="361.44" x2="296.30" y2="361.44" stroke="#000" stroke-width="0.9" />
<line x1="293.70" y1="360.16" x2="296.30" y2="360.16" stroke="#000" stroke-width="0.9" />
<line x1="293.70" y1="359.05" x2="296.30" y2="359.05" stroke="#000" stroke-width="0.9" />
<line x1="293.70" y1="358.07" x2="296.30" y2="358.07" stroke="#000" stroke-width="0.9" />
<line x1="293.10" y1="357.20" x2="296.30" y2="357.20" stroke="#111" stroke-width="0.9" />
<line x1="293.70" y1="351.45" x2="296.30" y2="351.45" stroke="#000" stroke-width="0.9" />
<line x1="293.70" y1="348.09" x2="296.30" y2="348.09" stroke="#000" stroke-width="0.9" />
<line x1="293.70" y1="345.70" x2="296.30" y2="345.70" stroke="#000" stroke-width="0.9" />
<line x1="293.70" y1="343.85" x2="296.30" y2="343.85" stroke="#000" stroke-width="0.9" />
<line x1="293.70" y1="342.34" x2="296.30" y2="342.34" stroke="#000" stroke-width="0.9" />
<line x1="293.70" y1="341.06" x2="296.30" y2="341.06" stroke="#000" stroke-width="0.9" />
<line x1="293.70" y1="339.95" x2="296.30" y2="339.95" stroke="#000" stroke-width="0.9" />
<line x1="293.70" y1="338.97" x2="296.30" y2="338.97" stroke="#000" stroke-width="0.9" />
<line x1="293.10" y1="338.10" x2="296.30" y2="338.10" stroke="#111" stroke-width="0.9" />
<line x1="293.70" y1="332.35" x2="296.30" y2="332.35" stroke="#000" stroke-width="0.9" />
<line x1="293.70" y1="328.99" x2="296.30" y2="328.99" stroke="#000" stroke-width="0.9" />
<line x1="293.70" y1="326.60" x2="296.30" y2="326.60" stroke="#000" stroke-width="0.9" />
<line x1="293.70" y1="324.75" x2="296.30" y2="324.75" stroke="#000" stroke-width="0.9" />
<line x1="293.70" y1="323.24" x2="296.30" y2="323.24" stroke="#000" stroke-width="0.9" />
<line x1="293.70" y1="321.96" x2="296.30" y2="321.96" stroke="#000" stroke-width="0.9" />
<line x1="293.70" y1="320.85" x2="296.30" y2="320.85" stroke="#000" stroke-width="0.9" />
<line x1="293.70" y1="319.87" x2="296.30" y2="319.87" stroke="#000" stroke-width="0.9" />
<line x1="293.10" y1="319.00" x2="296.30" y2="319.00" stroke="#111" stroke-width="0.9" />
<text x="286.80" y="378.70" font-size="6.5" text-anchor="end" textLength="5.40" lengthAdjust="spacingAndGlyphs" fill="#383838" stroke="#383838" stroke-width="0.14" >10</text>
<text x="287.40" y="375.40" font-size="3.6" fill="#383838" stroke="#383838" stroke-width="0.14" >1</text>
<text x="286.80" y="359.60" font-size="6.5" text-anchor="end" textLength="5.40" lengthAdjust="spacingAndGlyphs" fill="#383838" stroke="#383838" stroke-width="0.14" >10</text>
<text x="287.40" y="356.30" font-size="3.6" fill="#383838" stroke="#383838" stroke-width="0.14" >2</text>
<text x="286.80" y="340.50" font-size="6.5" text-anchor="end" textLength="5.40" lengthAdjust="spacingAndGlyphs" fill="#383838" stroke="#383838" stroke-width="0.14" >10</text>
<text x="287.40" y="337.20" font-size="3.6" fill="#383838" stroke="#383838" stroke-width="0.14" >3</text>
<text x="286.80" y="321.40" font-size="6.5" text-anchor="end" textLength="5.40" lengthAdjust="spacingAndGlyphs" fill="#383838" stroke="#383838" stroke-width="0.14" >10</text>
<text x="287.40" y="318.10" font-size="3.6" fill="#383838" stroke="#383838" stroke-width="0.14" >4</text>
<line x1="296.30" y1="384.80" x2="340.40" y2="384.80" stroke="#000" stroke-width="1.3" />
<line x1="308.40" y1="384.60" x2="308.40" y2="387.40" stroke="#222" stroke-width="0.7" />
<line x1="328.50" y1="384.60" x2="328.50" y2="387.40" stroke="#222" stroke-width="0.7" />
<text x="318.70" y="302.30" font-size="6.4" text-anchor="middle" textLength="13.80" lengthAdjust="spacingAndGlyphs" fill="#383838" stroke="#383838" stroke-width="0.14" >Blast</text>
<text x="302.10" y="396.70" font-size="6.6" textLength="13.30" lengthAdjust="spacingAndGlyphs" fill="#383838" stroke="#383838" stroke-width="0.14" >Slow</text>
<text x="322.90" y="396.70" font-size="6.6" textLength="11.50" lengthAdjust="spacingAndGlyphs" fill="#383838" stroke="#383838" stroke-width="0.14" >Fast</text>
<line x1="347.10" y1="384.80" x2="391.40" y2="384.80" stroke="#000" stroke-width="1.3" />
<line x1="359.30" y1="384.60" x2="359.30" y2="387.40" stroke="#222" stroke-width="0.7" />
<line x1="379.50" y1="384.60" x2="379.50" y2="387.40" stroke="#222" stroke-width="0.7" />
<text x="368.70" y="302.30" font-size="6.4" text-anchor="middle" textLength="18.40" lengthAdjust="spacingAndGlyphs" fill="#383838" stroke="#383838" stroke-width="0.14" >B+NM</text>
<text x="352.40" y="396.70" font-size="6.6" textLength="13.30" lengthAdjust="spacingAndGlyphs" fill="#383838" stroke="#383838" stroke-width="0.14" >Slow</text>
<text x="373.90" y="396.70" font-size="6.6" textLength="11.50" lengthAdjust="spacingAndGlyphs" fill="#383838" stroke="#383838" stroke-width="0.14" >Fast</text>
<line x1="397.90" y1="384.80" x2="442.20" y2="384.80" stroke="#000" stroke-width="1.3" />
<line x1="410.10" y1="384.60" x2="410.10" y2="387.40" stroke="#222" stroke-width="0.7" />
<line x1="430.10" y1="384.60" x2="430.10" y2="387.40" stroke="#222" stroke-width="0.7" />
<text x="420.30" y="302.30" font-size="6.4" text-anchor="middle" textLength="2.80" lengthAdjust="spacingAndGlyphs" fill="#383838" stroke="#383838" stroke-width="0.14" >B</text>
<text x="403.00" y="396.70" font-size="6.6" textLength="13.30" lengthAdjust="spacingAndGlyphs" fill="#383838" stroke="#383838" stroke-width="0.14" >Slow</text>
<text x="424.20" y="396.70" font-size="6.6" textLength="11.50" lengthAdjust="spacingAndGlyphs" fill="#383838" stroke="#383838" stroke-width="0.14" >Fast</text>
<line x1="449.20" y1="384.80" x2="493.00" y2="384.80" stroke="#000" stroke-width="1.3" />
<line x1="460.50" y1="384.60" x2="460.50" y2="387.40" stroke="#222" stroke-width="0.7" />
<line x1="480.80" y1="384.60" x2="480.80" y2="387.40" stroke="#222" stroke-width="0.7" />
<text x="470.70" y="302.30" font-size="6.4" text-anchor="middle" textLength="9.70" lengthAdjust="spacingAndGlyphs" fill="#383838" stroke="#383838" stroke-width="0.14" >NM</text>
<text x="454.00" y="396.70" font-size="6.6" textLength="13.30" lengthAdjust="spacingAndGlyphs" fill="#383838" stroke="#383838" stroke-width="0.14" >Slow</text>
<text x="475.30" y="396.70" font-size="6.6" textLength="11.50" lengthAdjust="spacingAndGlyphs" fill="#383838" stroke="#383838" stroke-width="0.14" >Fast</text>
<text x="324.00" y="382.60" font-size="5.6" textLength="10.00" lengthAdjust="spacingAndGlyphs" fill="#383838" stroke="#383838" stroke-width="0.14" >n.d.</text>
<text x="381.00" y="408.50" font-size="7.4" textLength="28.20" lengthAdjust="spacingAndGlyphs" fill="#383838" stroke="#383838" stroke-width="0.16" >Input cell</text>
<line x1="308.60" y1="328.20" x2="308.60" y2="352.10" stroke="#ec8a2e" stroke-width="0.7" />
<line x1="308.60" y1="372.20" x2="308.60" y2="382.70" stroke="#ec8a2e" stroke-width="0.7" />
<rect x="302.65" y="352.10" width="11.90" height="20.10" fill="none" stroke="#ec8a2e" stroke-width="0.7"/>
<line x1="302.65" y1="362.00" x2="314.55" y2="362.00" stroke="#ec8a2e" stroke-width="0.7" />
<circle cx="309.13" cy="337.71" r="1.05" fill="#ec8a2e" stroke="none" stroke-width="0"/>
<circle cx="308.34" cy="349.79" r="1.05" fill="#ec8a2e" stroke="none" stroke-width="0"/>
<circle cx="309.16" cy="341.78" r="1.05" fill="#ec8a2e" stroke="none" stroke-width="0"/>
<circle cx="307.77" cy="338.11" r="1.05" fill="#ec8a2e" stroke="none" stroke-width="0"/>
<circle cx="309.65" cy="345.33" r="1.05" fill="#ec8a2e" stroke="none" stroke-width="0"/>
<circle cx="309.01" cy="346.58" r="1.05" fill="#ec8a2e" stroke="none" stroke-width="0"/>
<circle cx="308.95" cy="348.46" r="1.05" fill="#ec8a2e" stroke="none" stroke-width="0"/>
<circle cx="308.39" cy="343.40" r="1.05" fill="#ec8a2e" stroke="none" stroke-width="0"/>
<circle cx="308.81" cy="335.51" r="1.05" fill="#ec8a2e" stroke="none" stroke-width="0"/>
<circle cx="308.31" cy="330.35" r="1.05" fill="#ec8a2e" stroke="none" stroke-width="0"/>
<circle cx="309.05" cy="367.65" r="1.05" fill="#ec8a2e" stroke="none" stroke-width="0"/>
<circle cx="307.84" cy="364.59" r="1.05" fill="#ec8a2e" stroke="none" stroke-width="0"/>
<circle cx="308.40" cy="360.47" r="1.05" fill="#ec8a2e" stroke="none" stroke-width="0"/>
<circle cx="308.29" cy="364.43" r="1.05" fill="#ec8a2e" stroke="none" stroke-width="0"/>
<circle cx="309.91" cy="365.50" r="1.05" fill="#ec8a2e" stroke="none" stroke-width="0"/>
<circle cx="308.88" cy="355.66" r="1.05" fill="#ec8a2e" stroke="none" stroke-width="0"/>
<circle cx="308.23" cy="367.56" r="1.05" fill="#ec8a2e" stroke="none" stroke-width="0"/>
<circle cx="310.24" cy="361.80" r="1.05" fill="#ec8a2e" stroke="none" stroke-width="0"/>
<circle cx="308.60" cy="352.76" r="1.05" fill="#ec8a2e" stroke="none" stroke-width="0"/>
<circle cx="309.26" cy="355.22" r="1.05" fill="#ec8a2e" stroke="none" stroke-width="0"/>
<circle cx="308.54" cy="370.81" r="1.05" fill="#ec8a2e" stroke="none" stroke-width="0"/>
<circle cx="308.67" cy="354.02" r="1.05" fill="#ec8a2e" stroke="none" stroke-width="0"/>
<circle cx="309.06" cy="362.82" r="1.05" fill="#ec8a2e" stroke="none" stroke-width="0"/>
<circle cx="308.84" cy="362.24" r="1.05" fill="#ec8a2e" stroke="none" stroke-width="0"/>
<circle cx="308.55" cy="368.58" r="1.05" fill="#ec8a2e" stroke="none" stroke-width="0"/>
<circle cx="310.02" cy="360.21" r="1.05" fill="#ec8a2e" stroke="none" stroke-width="0"/>
<circle cx="308.96" cy="356.20" r="1.05" fill="#ec8a2e" stroke="none" stroke-width="0"/>
<circle cx="309.20" cy="359.85" r="1.05" fill="#ec8a2e" stroke="none" stroke-width="0"/>
<circle cx="310.35" cy="354.45" r="1.05" fill="#ec8a2e" stroke="none" stroke-width="0"/>
<circle cx="307.01" cy="359.11" r="1.05" fill="#ec8a2e" stroke="none" stroke-width="0"/>
<circle cx="308.26" cy="357.49" r="1.05" fill="#ec8a2e" stroke="none" stroke-width="0"/>
<circle cx="308.31" cy="352.27" r="1.05" fill="#ec8a2e" stroke="none" stroke-width="0"/>
<circle cx="309.00" cy="376.50" r="1.05" fill="#ec8a2e" stroke="none" stroke-width="0"/>
<circle cx="307.89" cy="375.77" r="1.05" fill="#ec8a2e" stroke="none" stroke-width="0"/>
<circle cx="309.13" cy="374.40" r="1.05" fill="#ec8a2e" stroke="none" stroke-width="0"/>
<circle cx="308.56" cy="382.06" r="1.05" fill="#ec8a2e" stroke="none" stroke-width="0"/>
<circle cx="309.33" cy="374.34" r="1.05" fill="#ec8a2e" stroke="none" stroke-width="0"/>
<circle cx="307.72" cy="376.19" r="1.05" fill="#ec8a2e" stroke="none" stroke-width="0"/>
<circle cx="309.25" cy="373.38" r="1.05" fill="#ec8a2e" stroke="none" stroke-width="0"/>
<circle cx="308.83" cy="380.66" r="1.05" fill="#ec8a2e" stroke="none" stroke-width="0"/>
<circle cx="308.64" cy="377.02" r="1.05" fill="#ec8a2e" stroke="none" stroke-width="0"/>
<circle cx="310.15" cy="374.42" r="1.05" fill="#ec8a2e" stroke="none" stroke-width="0"/>
<circle cx="308.84" cy="375.78" r="1.05" fill="#ec8a2e" stroke="none" stroke-width="0"/>
<circle cx="309.39" cy="380.76" r="1.05" fill="#ec8a2e" stroke="none" stroke-width="0"/>
<circle cx="307.98" cy="377.01" r="1.05" fill="#ec8a2e" stroke="none" stroke-width="0"/>
<circle cx="307.38" cy="377.87" r="1.05" fill="#ec8a2e" stroke="none" stroke-width="0"/>
<line x1="359.50" y1="317.20" x2="359.50" y2="348.70" stroke="#222" stroke-width="0.7" />
<line x1="359.50" y1="372.10" x2="359.50" y2="382.20" stroke="#222" stroke-width="0.7" />
<rect x="353.10" y="348.70" width="12.80" height="23.40" fill="none" stroke="#222" stroke-width="0.7"/>
<line x1="353.10" y1="363.30" x2="365.90" y2="363.30" stroke="#222" stroke-width="0.7" />
<circle cx="358.41" cy="343.46" r="1.00" fill="#1a1a1a" stroke="none" stroke-width="0"/>
<circle cx="358.13" cy="344.00" r="1.00" fill="#1a1a1a" stroke="none" stroke-width="0"/>
<circle cx="358.08" cy="329.05" r="1.00" fill="#1a1a1a" stroke="none" stroke-width="0"/>
<circle cx="357.82" cy="330.62" r="1.00" fill="#1a1a1a" stroke="none" stroke-width="0"/>
<circle cx="359.44" cy="317.28" r="1.00" fill="#1a1a1a" stroke="none" stroke-width="0"/>
<circle cx="358.05" cy="326.06" r="1.00" fill="#1a1a1a" stroke="none" stroke-width="0"/>
<circle cx="358.75" cy="326.71" r="1.00" fill="#1a1a1a" stroke="none" stroke-width="0"/>
<circle cx="359.17" cy="330.70" r="1.00" fill="#1a1a1a" stroke="none" stroke-width="0"/>
<circle cx="358.43" cy="337.97" r="1.00" fill="#1a1a1a" stroke="none" stroke-width="0"/>
<circle cx="359.95" cy="346.45" r="1.00" fill="#1a1a1a" stroke="none" stroke-width="0"/>
<circle cx="359.83" cy="319.00" r="1.00" fill="#1a1a1a" stroke="none" stroke-width="0"/>
<circle cx="359.66" cy="345.73" r="1.00" fill="#1a1a1a" stroke="none" stroke-width="0"/>
<circle cx="359.85" cy="321.62" r="1.00" fill="#1a1a1a" stroke="none" stroke-width="0"/>
<circle cx="356.73" cy="337.14" r="1.00" fill="#1a1a1a" stroke="none" stroke-width="0"/>
<circle cx="360.52" cy="317.56" r="1.00" fill="#1a1a1a" stroke="none" stroke-width="0"/>
<circle cx="358.07" cy="337.86" r="1.00" fill="#1a1a1a" stroke="none" stroke-width="0"/>
<circle cx="357.64" cy="320.40" r="1.00" fill="#1a1a1a" stroke="none" stroke-width="0"/>
<circle cx="359.63" cy="324.56" r="1.00" fill="#1a1a1a" stroke="none" stroke-width="0"/>
<circle cx="357.68" cy="328.11" r="1.00" fill="#1a1a1a" stroke="none" stroke-width="0"/>
<circle cx="359.69" cy="345.68" r="1.00" fill="#1a1a1a" stroke="none" stroke-width="0"/>
<circle cx="360.13" cy="322.49" r="1.00" fill="#1a1a1a" stroke="none" stroke-width="0"/>
<circle cx="359.65" cy="336.36" r="1.00" fill="#1a1a1a" stroke="none" stroke-width="0"/>
<circle cx="360.15" cy="338.26" r="1.00" fill="#1a1a1a" stroke="none" stroke-width="0"/>
<circle cx="359.88" cy="342.02" r="1.00" fill="#1a1a1a" stroke="none" stroke-width="0"/>
<circle cx="359.34" cy="323.42" r="1.00" fill="#1a1a1a" stroke="none" stroke-width="0"/>
<circle cx="359.50" cy="361.12" r="1.00" fill="#1a1a1a" stroke="none" stroke-width="0"/>
<circle cx="360.09" cy="358.96" r="1.00" fill="#1a1a1a" stroke="none" stroke-width="0"/>
<circle cx="358.12" cy="361.69" r="1.00" fill="#1a1a1a" stroke="none" stroke-width="0"/>
<circle cx="357.62" cy="354.18" r="1.00" fill="#1a1a1a" stroke="none" stroke-width="0"/>
<circle cx="357.15" cy="360.24" r="1.00" fill="#1a1a1a" stroke="none" stroke-width="0"/>
<circle cx="357.64" cy="359.63" r="1.00" fill="#1a1a1a" stroke="none" stroke-width="0"/>
<circle cx="358.80" cy="360.20" r="1.00" fill="#1a1a1a" stroke="none" stroke-width="0"/>
<circle cx="359.99" cy="361.33" r="1.00" fill="#1a1a1a" stroke="none" stroke-width="0"/>
<circle cx="359.89" cy="348.85" r="1.00" fill="#1a1a1a" stroke="none" stroke-width="0"/>
<circle cx="358.96" cy="359.65" r="1.00" fill="#1a1a1a" stroke="none" stroke-width="0"/>
<circle cx="359.89" cy="364.27" r="1.00" fill="#1a1a1a" stroke="none" stroke-width="0"/>
<circle cx="358.59" cy="357.47" r="1.00" fill="#1a1a1a" stroke="none" stroke-width="0"/>
<circle cx="357.27" cy="371.18" r="1.00" fill="#1a1a1a" stroke="none" stroke-width="0"/>
<circle cx="359.17" cy="363.61" r="1.00" fill="#1a1a1a" stroke="none" stroke-width="0"/>
<circle cx="359.09" cy="349.37" r="1.00" fill="#1a1a1a" stroke="none" stroke-width="0"/>
<circle cx="360.37" cy="364.67" r="1.00" fill="#1a1a1a" stroke="none" stroke-width="0"/>
<circle cx="360.82" cy="356.43" r="1.00" fill="#1a1a1a" stroke="none" stroke-width="0"/>
<circle cx="358.76" cy="360.65" r="1.00" fill="#1a1a1a" stroke="none" stroke-width="0"/>
<circle cx="356.95" cy="369.70" r="1.00" fill="#1a1a1a" stroke="none" stroke-width="0"/>
<circle cx="359.14" cy="365.51" r="1.00" fill="#1a1a1a" stroke="none" stroke-width="0"/>
<circle cx="359.99" cy="356.62" r="1.00" fill="#1a1a1a" stroke="none" stroke-width="0"/>
<circle cx="358.74" cy="357.27" r="1.00" fill="#1a1a1a" stroke="none" stroke-width="0"/>
<circle cx="359.61" cy="361.00" r="1.00" fill="#1a1a1a" stroke="none" stroke-width="0"/>
<circle cx="358.63" cy="353.63" r="1.00" fill="#1a1a1a" stroke="none" stroke-width="0"/>
<circle cx="358.94" cy="358.58" r="1.00" fill="#1a1a1a" stroke="none" stroke-width="0"/>
<circle cx="358.21" cy="368.05" r="1.00" fill="#1a1a1a" stroke="none" stroke-width="0"/>
<circle cx="358.55" cy="368.07" r="1.00" fill="#1a1a1a" stroke="none" stroke-width="0"/>
<circle cx="358.14" cy="360.49" r="1.00" fill="#1a1a1a" stroke="none" stroke-width="0"/>
<circle cx="360.74" cy="360.55" r="1.00" fill="#1a1a1a" stroke="none" stroke-width="0"/>
<circle cx="359.69" cy="364.02" r="1.00" fill="#1a1a1a" stroke="none" stroke-width="0"/>
<circle cx="358.29" cy="356.44" r="1.00" fill="#1a1a1a" stroke="none" stroke-width="0"/>
<circle cx="359.03" cy="355.70" r="1.00" fill="#1a1a1a" stroke="none" stroke-width="0"/>
<circle cx="359.66" cy="363.55" r="1.00" fill="#1a1a1a" stroke="none" stroke-width="0"/>
<circle cx="359.44" cy="349.64" r="1.00" fill="#1a1a1a" stroke="none" stroke-width="0"/>
<circle cx="358.92" cy="369.42" r="1.00" fill="#1a1a1a" stroke="none" stroke-width="0"/>
<circle cx="358.24" cy="349.86" r="1.00" fill="#1a1a1a" stroke="none" stroke-width="0"/>
<circle cx="357.84" cy="348.85" r="1.00" fill="#1a1a1a" stroke="none" stroke-width="0"/>
<circle cx="359.09" cy="370.26" r="1.00" fill="#1a1a1a" stroke="none" stroke-width="0"/>
<circle cx="359.68" cy="364.10" r="1.00" fill="#1a1a1a" stroke="none" stroke-width="0"/>
<circle cx="359.10" cy="369.99" r="1.00" fill="#1a1a1a" stroke="none" stroke-width="0"/>
<circle cx="359.14" cy="378.33" r="1.00" fill="#1a1a1a" stroke="none" stroke-width="0"/>
<circle cx="359.05" cy="379.13" r="1.00" fill="#1a1a1a" stroke="none" stroke-width="0"/>
<circle cx="357.93" cy="378.98" r="1.00" fill="#1a1a1a" stroke="none" stroke-width="0"/>
<circle cx="358.69" cy="378.84" r="1.00" fill="#1a1a1a" stroke="none" stroke-width="0"/>
<circle cx="357.43" cy="379.80" r="1.00" fill="#1a1a1a" stroke="none" stroke-width="0"/>
<circle cx="356.98" cy="373.93" r="1.00" fill="#1a1a1a" stroke="none" stroke-width="0"/>
<circle cx="360.26" cy="379.92" r="1.00" fill="#1a1a1a" stroke="none" stroke-width="0"/>
<circle cx="358.45" cy="378.72" r="1.00" fill="#1a1a1a" stroke="none" stroke-width="0"/>
<circle cx="359.67" cy="380.41" r="1.00" fill="#1a1a1a" stroke="none" stroke-width="0"/>
<circle cx="358.10" cy="377.78" r="1.00" fill="#1a1a1a" stroke="none" stroke-width="0"/>
<circle cx="358.60" cy="375.15" r="1.00" fill="#1a1a1a" stroke="none" stroke-width="0"/>
<circle cx="358.62" cy="375.32" r="1.00" fill="#1a1a1a" stroke="none" stroke-width="0"/>
<circle cx="360.39" cy="378.58" r="1.00" fill="#1a1a1a" stroke="none" stroke-width="0"/>
<circle cx="358.97" cy="372.65" r="1.00" fill="#1a1a1a" stroke="none" stroke-width="0"/>
<circle cx="357.52" cy="372.50" r="1.00" fill="#1a1a1a" stroke="none" stroke-width="0"/>
<circle cx="359.00" cy="380.28" r="1.00" fill="#1a1a1a" stroke="none" stroke-width="0"/>
<circle cx="358.66" cy="381.38" r="1.00" fill="#1a1a1a" stroke="none" stroke-width="0"/>
<circle cx="358.50" cy="372.24" r="1.00" fill="#1a1a1a" stroke="none" stroke-width="0"/>
<circle cx="360.42" cy="378.08" r="1.00" fill="#1a1a1a" stroke="none" stroke-width="0"/>
<circle cx="358.74" cy="382.01" r="1.00" fill="#1a1a1a" stroke="none" stroke-width="0"/>
<line x1="379.90" y1="375.10" x2="379.90" y2="375.10" stroke="#222" stroke-width="0.7" />
<line x1="379.90" y1="379.20" x2="379.90" y2="379.60" stroke="#222" stroke-width="0.7" />
<rect x="373.50" y="375.10" width="12.80" height="4.10" fill="#9a9a9a" stroke="#222" stroke-width="0.7"/>
<line x1="373.50" y1="377.20" x2="386.30" y2="377.20" stroke="#222" stroke-width="0.7" />
<circle cx="379.60" cy="370.40" r="1.00" fill="#1a1a1a" stroke="none" stroke-width="0"/>
<circle cx="378.00" cy="378.50" r="1.00" fill="#1a1a1a" stroke="none" stroke-width="0"/>
<circle cx="381.50" cy="376.50" r="1.00" fill="#1a1a1a" stroke="none" stroke-width="0"/>
<line x1="410.05" y1="344.40" x2="410.05" y2="358.10" stroke="#4a78c2" stroke-width="0.7" />
<line x1="410.05" y1="378.70" x2="410.05" y2="381.50" stroke="#4a78c2" stroke-width="0.7" />
<rect x="403.40" y="358.10" width="13.30" height="20.60" fill="none" stroke="#4a78c2" stroke-width="0.7"/>
<line x1="403.40" y1="374.50" x2="416.70" y2="374.50" stroke="#4a78c2" stroke-width="0.7" />
<circle cx="410.50" cy="344.40" r="1.05" fill="#4a78c2" stroke="none" stroke-width="0"/>
<circle cx="410.80" cy="348.30" r="1.05" fill="#4a78c2" stroke="none" stroke-width="0"/>
<circle cx="412.00" cy="360.50" r="1.05" fill="#4a78c2" stroke="none" stroke-width="0"/>
<circle cx="407.60" cy="366.20" r="1.05" fill="#4a78c2" stroke="none" stroke-width="0"/>
<circle cx="412.80" cy="366.20" r="1.05" fill="#4a78c2" stroke="none" stroke-width="0"/>
<circle cx="410.00" cy="375.50" r="1.05" fill="#4a78c2" stroke="none" stroke-width="0"/>
<circle cx="408.50" cy="378.50" r="1.05" fill="#4a78c2" stroke="none" stroke-width="0"/>
<circle cx="411.50" cy="379.80" r="1.05" fill="#4a78c2" stroke="none" stroke-width="0"/>
<circle cx="409.50" cy="381.50" r="1.05" fill="#4a78c2" stroke="none" stroke-width="0"/>
<circle cx="410.50" cy="377.30" r="1.05" fill="#4a78c2" stroke="none" stroke-width="0"/>
<line x1="424.10" y1="379.70" x2="436.10" y2="379.70" stroke="#4a78c2" stroke-width="0.8" />
<circle cx="425.50" cy="379.70" r="0.65" fill="#4a78c2" stroke="none" stroke-width="0"/>
<circle cx="427.50" cy="379.70" r="0.65" fill="#4a78c2" stroke="none" stroke-width="0"/>
<circle cx="430.00" cy="379.70" r="0.65" fill="#4a78c2" stroke="none" stroke-width="0"/>
<circle cx="432.50" cy="379.70" r="0.65" fill="#4a78c2" stroke="none" stroke-width="0"/>
<circle cx="435.00" cy="379.70" r="0.65" fill="#4a78c2" stroke="none" stroke-width="0"/>
<line x1="460.85" y1="326.70" x2="460.85" y2="340.10" stroke="#9a1f8f" stroke-width="0.7" />
<line x1="460.85" y1="372.10" x2="460.85" y2="382.30" stroke="#9a1f8f" stroke-width="0.7" />
<rect x="454.80" y="340.10" width="12.10" height="32.00" fill="none" stroke="#9a1f8f" stroke-width="0.7"/>
<line x1="454.80" y1="350.90" x2="466.90" y2="350.90" stroke="#9a1f8f" stroke-width="0.7" />
<circle cx="459.09" cy="330.95" r="1.05" fill="#9a1f8f" stroke="none" stroke-width="0"/>
<circle cx="459.64" cy="333.34" r="1.05" fill="#9a1f8f" stroke="none" stroke-width="0"/>
<circle cx="458.33" cy="328.26" r="1.05" fill="#9a1f8f" stroke="none" stroke-width="0"/>
<circle cx="461.16" cy="326.75" r="1.05" fill="#9a1f8f" stroke="none" stroke-width="0"/>
<circle cx="462.64" cy="327.95" r="1.05" fill="#9a1f8f" stroke="none" stroke-width="0"/>
<circle cx="461.95" cy="327.61" r="1.05" fill="#9a1f8f" stroke="none" stroke-width="0"/>
<circle cx="458.37" cy="328.03" r="1.05" fill="#9a1f8f" stroke="none" stroke-width="0"/>
<circle cx="459.76" cy="334.11" r="1.05" fill="#9a1f8f" stroke="none" stroke-width="0"/>
<circle cx="459.53" cy="343.90" r="1.05" fill="#9a1f8f" stroke="none" stroke-width="0"/>
<circle cx="461.50" cy="337.47" r="1.05" fill="#9a1f8f" stroke="none" stroke-width="0"/>
<circle cx="461.87" cy="343.71" r="1.05" fill="#9a1f8f" stroke="none" stroke-width="0"/>
<circle cx="458.98" cy="343.86" r="1.05" fill="#9a1f8f" stroke="none" stroke-width="0"/>
<circle cx="461.25" cy="342.91" r="1.05" fill="#9a1f8f" stroke="none" stroke-width="0"/>
<circle cx="462.34" cy="341.33" r="1.05" fill="#9a1f8f" stroke="none" stroke-width="0"/>
<circle cx="462.62" cy="339.39" r="1.05" fill="#9a1f8f" stroke="none" stroke-width="0"/>
<circle cx="458.27" cy="343.74" r="1.05" fill="#9a1f8f" stroke="none" stroke-width="0"/>
<circle cx="461.05" cy="337.14" r="1.05" fill="#9a1f8f" stroke="none" stroke-width="0"/>
<circle cx="458.95" cy="344.68" r="1.05" fill="#9a1f8f" stroke="none" stroke-width="0"/>
<circle cx="461.33" cy="339.92" r="1.05" fill="#9a1f8f" stroke="none" stroke-width="0"/>
<circle cx="461.90" cy="338.56" r="1.05" fill="#9a1f8f" stroke="none" stroke-width="0"/>
<circle cx="458.80" cy="341.57" r="1.05" fill="#9a1f8f" stroke="none" stroke-width="0"/>
<circle cx="460.81" cy="340.46" r="1.05" fill="#9a1f8f" stroke="none" stroke-width="0"/>
<circle cx="461.14" cy="341.12" r="1.05" fill="#9a1f8f" stroke="none" stroke-width="0"/>
<circle cx="461.60" cy="338.36" r="1.05" fill="#9a1f8f" stroke="none" stroke-width="0"/>
<circle cx="461.03" cy="340.41" r="1.05" fill="#9a1f8f" stroke="none" stroke-width="0"/>
<circle cx="460.36" cy="342.92" r="1.05" fill="#9a1f8f" stroke="none" stroke-width="0"/>
<circle cx="461.55" cy="340.63" r="1.05" fill="#9a1f8f" stroke="none" stroke-width="0"/>
<circle cx="461.55" cy="345.88" r="1.05" fill="#9a1f8f" stroke="none" stroke-width="0"/>
<circle cx="459.95" cy="360.91" r="1.05" fill="#9a1f8f" stroke="none" stroke-width="0"/>
<circle cx="462.72" cy="347.95" r="1.05" fill="#9a1f8f" stroke="none" stroke-width="0"/>
<circle cx="461.73" cy="364.40" r="1.05" fill="#9a1f8f" stroke="none" stroke-width="0"/>
<circle cx="460.91" cy="354.90" r="1.05" fill="#9a1f8f" stroke="none" stroke-width="0"/>
<circle cx="461.75" cy="371.42" r="1.05" fill="#9a1f8f" stroke="none" stroke-width="0"/>
<circle cx="460.01" cy="361.79" r="1.05" fill="#9a1f8f" stroke="none" stroke-width="0"/>
<circle cx="462.05" cy="357.37" r="1.05" fill="#9a1f8f" stroke="none" stroke-width="0"/>
<circle cx="461.17" cy="356.04" r="1.05" fill="#9a1f8f" stroke="none" stroke-width="0"/>
<circle cx="462.10" cy="361.81" r="1.05" fill="#9a1f8f" stroke="none" stroke-width="0"/>
<circle cx="459.92" cy="367.07" r="1.05" fill="#9a1f8f" stroke="none" stroke-width="0"/>
<circle cx="459.84" cy="346.44" r="1.05" fill="#9a1f8f" stroke="none" stroke-width="0"/>
<circle cx="460.85" cy="357.22" r="1.05" fill="#9a1f8f" stroke="none" stroke-width="0"/>
<circle cx="462.05" cy="367.29" r="1.05" fill="#9a1f8f" stroke="none" stroke-width="0"/>
<circle cx="461.76" cy="347.48" r="1.05" fill="#9a1f8f" stroke="none" stroke-width="0"/>
<circle cx="461.93" cy="380.36" r="1.05" fill="#9a1f8f" stroke="none" stroke-width="0"/>
<circle cx="459.89" cy="377.89" r="1.05" fill="#9a1f8f" stroke="none" stroke-width="0"/>
<circle cx="461.64" cy="380.77" r="1.05" fill="#9a1f8f" stroke="none" stroke-width="0"/>
<circle cx="462.21" cy="379.05" r="1.05" fill="#9a1f8f" stroke="none" stroke-width="0"/>
<circle cx="458.98" cy="375.57" r="1.05" fill="#9a1f8f" stroke="none" stroke-width="0"/>
<circle cx="461.60" cy="377.70" r="1.05" fill="#9a1f8f" stroke="none" stroke-width="0"/>
<circle cx="461.41" cy="374.06" r="1.05" fill="#9a1f8f" stroke="none" stroke-width="0"/>
<circle cx="459.73" cy="381.60" r="1.05" fill="#9a1f8f" stroke="none" stroke-width="0"/>
<circle cx="461.14" cy="378.25" r="1.05" fill="#9a1f8f" stroke="none" stroke-width="0"/>
<circle cx="459.62" cy="376.79" r="1.05" fill="#9a1f8f" stroke="none" stroke-width="0"/>
<circle cx="461.41" cy="374.62" r="1.05" fill="#9a1f8f" stroke="none" stroke-width="0"/>
<circle cx="460.49" cy="380.15" r="1.05" fill="#9a1f8f" stroke="none" stroke-width="0"/>
<circle cx="461.64" cy="372.90" r="1.05" fill="#9a1f8f" stroke="none" stroke-width="0"/>
<circle cx="459.73" cy="379.95" r="1.05" fill="#9a1f8f" stroke="none" stroke-width="0"/>
<circle cx="462.10" cy="377.97" r="1.05" fill="#9a1f8f" stroke="none" stroke-width="0"/>
<circle cx="460.66" cy="381.12" r="1.05" fill="#9a1f8f" stroke="none" stroke-width="0"/>
<circle cx="460.86" cy="376.91" r="1.05" fill="#9a1f8f" stroke="none" stroke-width="0"/>
<circle cx="459.56" cy="373.95" r="1.05" fill="#9a1f8f" stroke="none" stroke-width="0"/>
<circle cx="461.22" cy="373.86" r="1.05" fill="#9a1f8f" stroke="none" stroke-width="0"/>
<circle cx="460.78" cy="375.74" r="1.05" fill="#9a1f8f" stroke="none" stroke-width="0"/>
<line x1="480.85" y1="351.80" x2="480.85" y2="357.70" stroke="#9a1f8f" stroke-width="0.7" />
<line x1="480.85" y1="370.70" x2="480.85" y2="376.00" stroke="#9a1f8f" stroke-width="0.7" />
<rect x="474.60" y="357.70" width="12.50" height="13.00" fill="none" stroke="#9a1f8f" stroke-width="0.7"/>
<line x1="474.60" y1="363.50" x2="487.10" y2="363.50" stroke="#9a1f8f" stroke-width="0.7" />
<circle cx="483.00" cy="351.80" r="1.05" fill="#9a1f8f" stroke="none" stroke-width="0"/>
<circle cx="480.00" cy="376.00" r="1.05" fill="#9a1f8f" stroke="none" stroke-width="0"/>
<line x1="360.90" y1="312.10" x2="377.50" y2="312.10" stroke="#333" stroke-width="1.0" />
<line x1="360.90" y1="311.90" x2="360.90" y2="313.30" stroke="#333" stroke-width="0.7" />
<line x1="377.50" y1="311.90" x2="377.50" y2="313.30" stroke="#333" stroke-width="0.7" />
<text x="369.20" y="311.50" font-size="5.4" text-anchor="middle" fill="#444" stroke="#444" stroke-width="0.14" >*</text>
<line x1="411.20" y1="339.00" x2="429.90" y2="339.00" stroke="#333" stroke-width="1.0" />
<line x1="411.20" y1="338.80" x2="411.20" y2="340.20" stroke="#333" stroke-width="0.7" />
<line x1="429.90" y1="338.80" x2="429.90" y2="340.20" stroke="#333" stroke-width="0.7" />
<text x="420.55" y="338.40" font-size="5.4" text-anchor="middle" fill="#444" stroke="#444" stroke-width="0.14" >*</text>
<line x1="462.00" y1="323.10" x2="480.00" y2="323.10" stroke="#333" stroke-width="1.0" />
<line x1="462.00" y1="322.90" x2="462.00" y2="324.30" stroke="#333" stroke-width="0.7" />
<line x1="480.00" y1="322.90" x2="480.00" y2="324.30" stroke="#333" stroke-width="0.7" />
<text x="471.00" y="322.50" font-size="5.4" text-anchor="middle" fill="#444" stroke="#444" stroke-width="0.14" >*</text>
<rect x="0" y="0" width="520" height="1" fill="#555"/>
<rect x="0" y="0" width="1" height="418" fill="#555"/>
<rect x="518.8" y="0" width="1.2" height="418" fill="#5a5a5a"/>
<rect x="0" y="416.6" width="520" height="1.4" fill="#555"/>
</svg>
</body></html>
